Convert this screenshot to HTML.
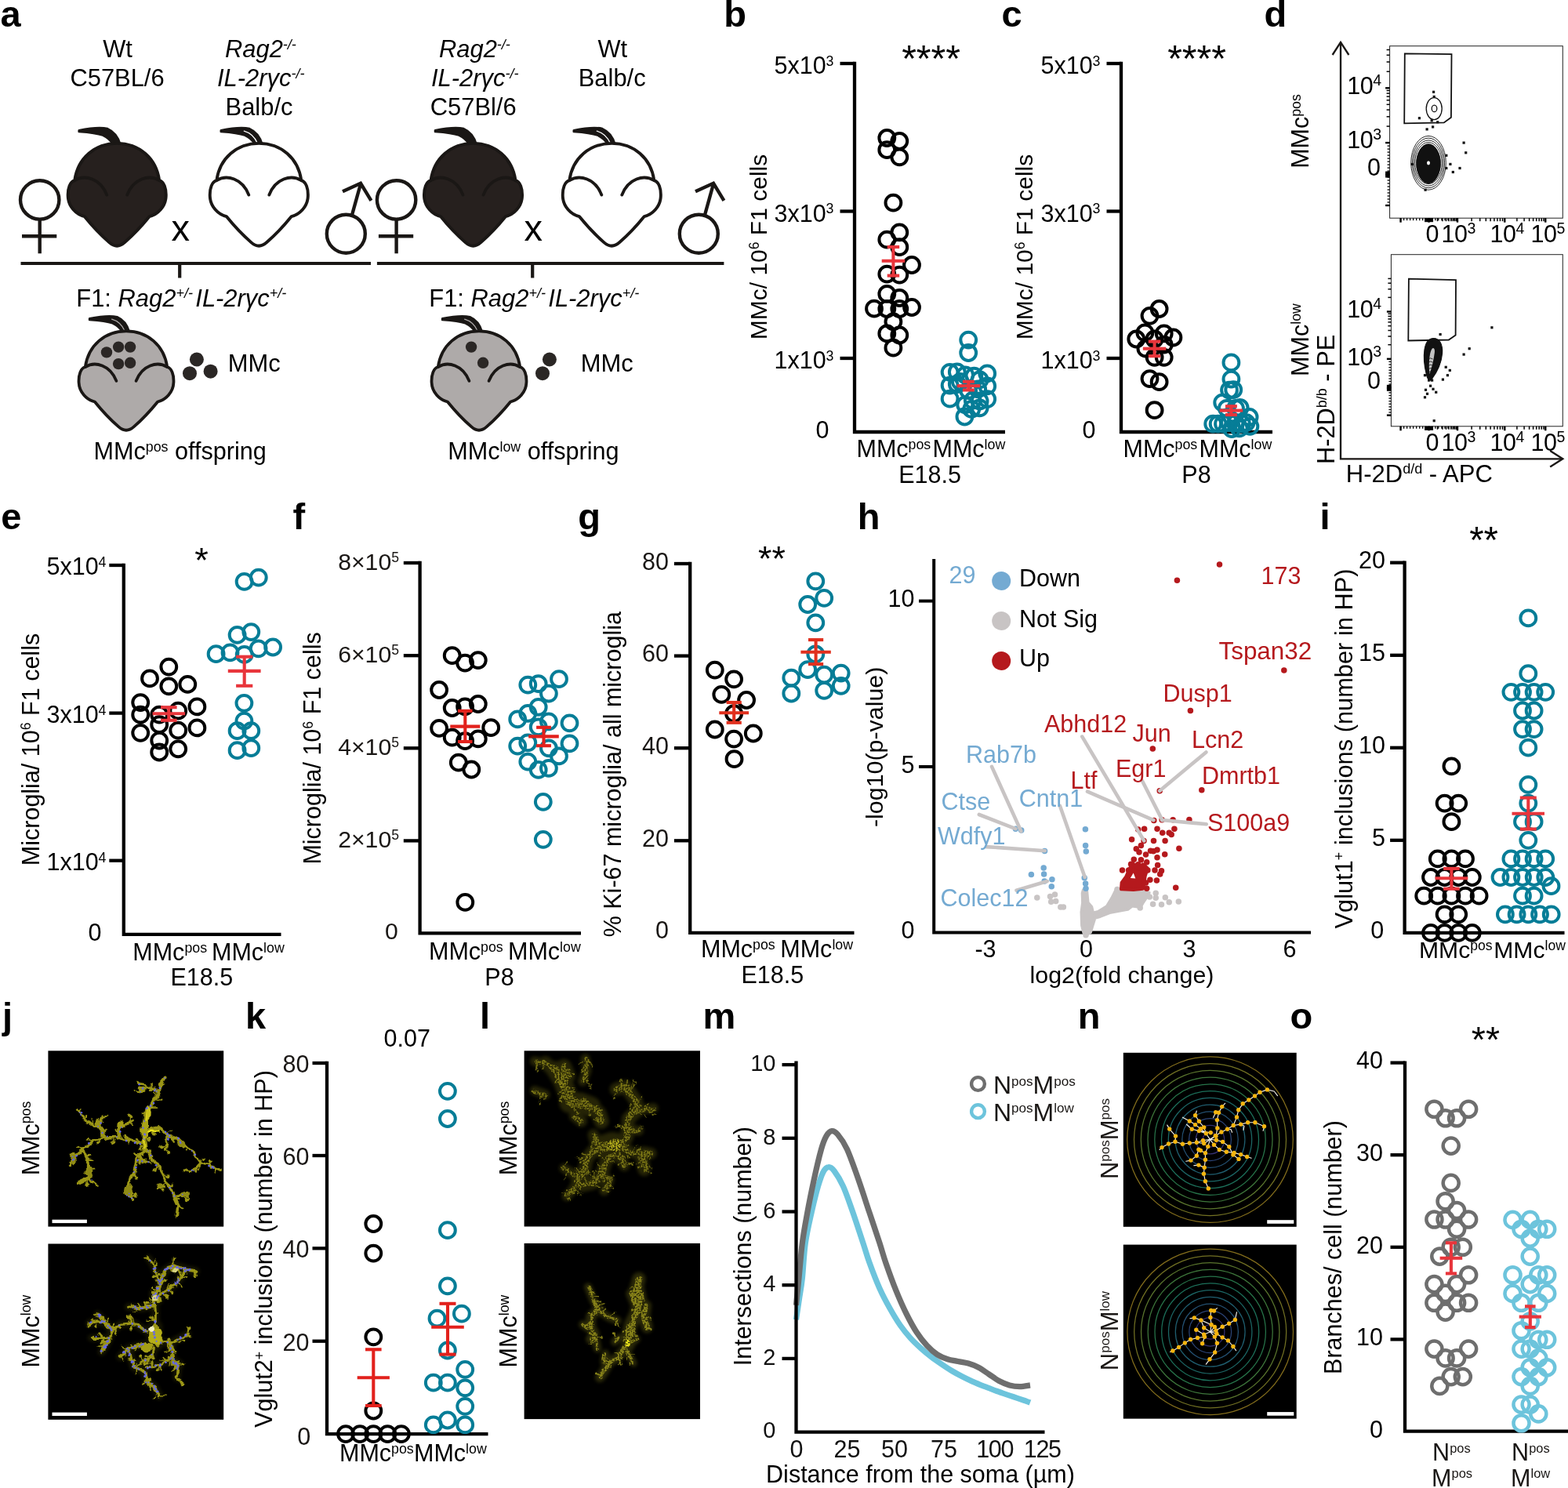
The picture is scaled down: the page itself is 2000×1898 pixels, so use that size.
<!DOCTYPE html>
<html><head><meta charset="utf-8"><title>Figure</title>
<style>
html,body{margin:0;padding:0;background:#fff;}
body{width:2000px;height:1898px;overflow:hidden;}
svg{display:block;}
svg text{font-family:"Liberation Sans", Arial, Helvetica, sans-serif;}
</style></head>
<body>
<svg width="2000" height="1898" viewBox="0 0 2000 1898">
<rect width="2000" height="1898" fill="#fff"/>
<text font-size="30.9" text-anchor="middle" x="150" y="73.3">Wt</text>
<text font-size="30.9" text-anchor="middle" x="149.5" y="110">C57BL/6</text>
<text font-size="30.9" x="287" y="73.3"><tspan font-style="italic">Rag2</tspan><tspan font-size="18.01" dy="-10.29" font-style="italic">-/-</tspan></text>
<text font-size="30.9" x="277" y="110"><tspan font-style="italic">IL-2rγc</tspan><tspan font-size="18.01" dy="-10.29" font-style="italic">-/-</tspan></text>
<text font-size="30.9" text-anchor="middle" x="330.5" y="146.7">Balb/c</text>
<g fill="none" stroke="#1a1715" stroke-width="4.4"><circle cx="50.699999999999996" cy="254.9" r="24.7"/><line x1="50.699999999999996" y1="279" x2="50.699999999999996" y2="323.3"/><line x1="27.999999999999996" y1="301.3" x2="72.3" y2="301.3"/></g>
<g transform="translate(149.2,182.6)" stroke="#1a1715" stroke-width="3.9" stroke-linejoin="round" stroke-linecap="round"><path d="M4,1 C2,-6 -3,-14.5 -12,-18.5 C-22,-21 -38,-18.5 -48.5,-16.3 L-48.5,-14.7 C-38,-14 -26,-13 -18,-10 C-12,-7 -8,-3.5 -5.5,1 Z" fill="#1a1715" stroke-width="2.6"/><path d="M-54,47.5 C-50,19 -28,0.3 0,0.3 C28,0.3 50,19 54,47.5 C60,49 63,58 62.5,68 C62,81 52,91 41.5,93.5 C33,104 21,117 10,126.5 Q0,135.5 -10,126.5 C-21,117 -33,104 -41.5,93.5 C-52,91 -62,81 -62.5,68 C-63,58 -60,49 -54,47.5 Z" fill="#26201e"/><path d="M-54,47.5 C-41,39.5 -21,45 -13,66 M54,47.5 C41,39.5 21,45 13,66" fill="none"/></g>
<text font-size="47" text-anchor="middle" x="230.2" y="307.3">x</text>
<g transform="translate(330.3,182.6)" stroke="#1a1715" stroke-width="3.9" stroke-linejoin="round" stroke-linecap="round"><path d="M4,1 C2,-6 -3,-14.5 -12,-18.5 C-22,-21 -38,-18.5 -48.5,-16.3 L-48.5,-14.7 C-38,-14 -26,-13 -18,-10 C-12,-7 -8,-3.5 -5.5,1 Z" fill="#1a1715" stroke-width="2.6"/><path d="M-2,0 C-5,-7 -10,-13 -19,-15.5" fill="none" stroke="#fff" stroke-width="1.3"/><path d="M-54,47.5 C-50,19 -28,0.3 0,0.3 C28,0.3 50,19 54,47.5 C60,49 63,58 62.5,68 C62,81 52,91 41.5,93.5 C33,104 21,117 10,126.5 Q0,135.5 -10,126.5 C-21,117 -33,104 -41.5,93.5 C-52,91 -62,81 -62.5,68 C-63,58 -60,49 -54,47.5 Z" fill="#fff"/><path d="M-54,47.5 C-41,39.5 -21,45 -13,66 M54,47.5 C41,39.5 21,45 13,66" fill="none"/></g>
<g fill="none" stroke="#1a1715" stroke-width="4.4" stroke-linejoin="miter"><circle cx="441.3" cy="298.2" r="24.5"/><line x1="448.90000000000003" y1="274.5" x2="459.6" y2="236"/><polyline points="437.0,244.2 460.0,233.8 473.40000000000003,255.8"/></g>
<line x1="26.5" y1="336" x2="473" y2="336" stroke="#1a1715" stroke-width="4.2"/>
<line x1="229.2" y1="336" x2="229.2" y2="354.5" stroke="#1a1715" stroke-width="4.2"/>
<text font-size="30.9" x="97.3" y="390.7">F1: <tspan font-style="italic">Rag2</tspan><tspan font-size="18.01" dy="-10.29" font-style="italic">+/-</tspan></text>
<text font-size="30.9" x="249.3" y="390.7"><tspan font-style="italic">IL-2rγc</tspan><tspan font-size="18.01" dy="-10.29" font-style="italic">+/-</tspan></text>
<g transform="translate(161,420.6)" stroke="#1a1715" stroke-width="3.9" stroke-linejoin="round" stroke-linecap="round"><g transform="translate(0,1.5) scale(0.967)"><path d="M4,1 C2,-6 -3,-14.5 -12,-18.5 C-22,-21 -38,-18.5 -48.5,-16.3 L-48.5,-14.7 C-38,-14 -26,-13 -18,-10 C-12,-7 -8,-3.5 -5.5,1 Z" fill="#1a1715" stroke-width="2.6"/><path d="M-2,0 C-5,-7 -10,-13 -19,-15.5" fill="none" stroke="#aeaaa9" stroke-width="1.3"/><path d="M-54,47.5 C-50,19 -28,0.3 0,0.3 C28,0.3 50,19 54,47.5 C60,49 63,58 62.5,68 C62,81 52,91 41.5,93.5 C33,104 21,117 10,126.5 Q0,135.5 -10,126.5 C-21,117 -33,104 -41.5,93.5 C-52,91 -62,81 -62.5,68 C-63,58 -60,49 -54,47.5 Z" fill="#aeaaa9"/><path d="M-54,47.5 C-41,39.5 -21,45 -13,66 M54,47.5 C41,39.5 21,45 13,66" fill="none"/></g><circle cx="-25" cy="28.8" r="7.2" fill="#2b2725" stroke="none"/><circle cx="-9.9" cy="22" r="7.2" fill="#2b2725" stroke="none"/><circle cx="5.1" cy="22" r="7.2" fill="#2b2725" stroke="none"/><circle cx="-9.9" cy="43.5" r="7.2" fill="#2b2725" stroke="none"/><circle cx="5.1" cy="42.2" r="7.2" fill="#2b2725" stroke="none"/></g>
<circle cx="250.9" cy="458.5" r="9" fill="#2b2725"/>
<circle cx="242" cy="476.2" r="9" fill="#2b2725"/>
<circle cx="268.6" cy="473.7" r="9" fill="#2b2725"/>
<text font-size="30.9" x="290.8" y="473.7">MMc</text>
<text font-size="30.6" x="119.5" y="586">MMc<tspan font-size="17.84" dy="-10.19">pos</tspan><tspan dy="10.19"> offspring</tspan></text>
<text font-size="30.9" x="560" y="73.3"><tspan font-style="italic">Rag2</tspan><tspan font-size="18.01" dy="-10.29" font-style="italic">-/-</tspan></text>
<text font-size="30.9" x="550" y="110"><tspan font-style="italic">IL-2rγc</tspan><tspan font-size="18.01" dy="-10.29" font-style="italic">-/-</tspan></text>
<text font-size="30.9" text-anchor="middle" x="603.7" y="146.7">C57Bl/6</text>
<text font-size="30.9" text-anchor="middle" x="781.3" y="73.3">Wt</text>
<text font-size="30.9" text-anchor="middle" x="780.7" y="110">Balb/c</text>
<g fill="none" stroke="#1a1715" stroke-width="4.4"><circle cx="505.6" cy="254.9" r="24.7"/><line x1="505.6" y1="279" x2="505.6" y2="323.3"/><line x1="482.90000000000003" y1="301.3" x2="527.2" y2="301.3"/></g>
<g transform="translate(603.5,182.6)" stroke="#1a1715" stroke-width="3.9" stroke-linejoin="round" stroke-linecap="round"><path d="M4,1 C2,-6 -3,-14.5 -12,-18.5 C-22,-21 -38,-18.5 -48.5,-16.3 L-48.5,-14.7 C-38,-14 -26,-13 -18,-10 C-12,-7 -8,-3.5 -5.5,1 Z" fill="#1a1715" stroke-width="2.6"/><path d="M-54,47.5 C-50,19 -28,0.3 0,0.3 C28,0.3 50,19 54,47.5 C60,49 63,58 62.5,68 C62,81 52,91 41.5,93.5 C33,104 21,117 10,126.5 Q0,135.5 -10,126.5 C-21,117 -33,104 -41.5,93.5 C-52,91 -62,81 -62.5,68 C-63,58 -60,49 -54,47.5 Z" fill="#26201e"/><path d="M-54,47.5 C-41,39.5 -21,45 -13,66 M54,47.5 C41,39.5 21,45 13,66" fill="none"/></g>
<text font-size="47" text-anchor="middle" x="680.2" y="307.3">x</text>
<g transform="translate(780.3,182.6)" stroke="#1a1715" stroke-width="3.9" stroke-linejoin="round" stroke-linecap="round"><path d="M4,1 C2,-6 -3,-14.5 -12,-18.5 C-22,-21 -38,-18.5 -48.5,-16.3 L-48.5,-14.7 C-38,-14 -26,-13 -18,-10 C-12,-7 -8,-3.5 -5.5,1 Z" fill="#1a1715" stroke-width="2.6"/><path d="M-2,0 C-5,-7 -10,-13 -19,-15.5" fill="none" stroke="#fff" stroke-width="1.3"/><path d="M-54,47.5 C-50,19 -28,0.3 0,0.3 C28,0.3 50,19 54,47.5 C60,49 63,58 62.5,68 C62,81 52,91 41.5,93.5 C33,104 21,117 10,126.5 Q0,135.5 -10,126.5 C-21,117 -33,104 -41.5,93.5 C-52,91 -62,81 -62.5,68 C-63,58 -60,49 -54,47.5 Z" fill="#fff"/><path d="M-54,47.5 C-41,39.5 -21,45 -13,66 M54,47.5 C41,39.5 21,45 13,66" fill="none"/></g>
<g fill="none" stroke="#1a1715" stroke-width="4.4" stroke-linejoin="miter"><circle cx="891.3" cy="298.2" r="24.5"/><line x1="898.9" y1="274.5" x2="909.5999999999999" y2="236"/><polyline points="887.0,244.2 910.0,233.8 923.4,255.8"/></g>
<line x1="480.9" y1="336" x2="923.4" y2="336" stroke="#1a1715" stroke-width="4.2"/>
<line x1="679.2" y1="336" x2="679.2" y2="354.5" stroke="#1a1715" stroke-width="4.2"/>
<text font-size="30.9" x="547.3" y="390.7">F1: <tspan font-style="italic">Rag2</tspan><tspan font-size="18.01" dy="-10.29" font-style="italic">+/-</tspan></text>
<text font-size="30.9" x="699.3" y="390.7"><tspan font-style="italic">IL-2rγc</tspan><tspan font-size="18.01" dy="-10.29" font-style="italic">+/-</tspan></text>
<g transform="translate(611,420.6)" stroke="#1a1715" stroke-width="3.9" stroke-linejoin="round" stroke-linecap="round"><g transform="translate(0,1.5) scale(0.967)"><path d="M4,1 C2,-6 -3,-14.5 -12,-18.5 C-22,-21 -38,-18.5 -48.5,-16.3 L-48.5,-14.7 C-38,-14 -26,-13 -18,-10 C-12,-7 -8,-3.5 -5.5,1 Z" fill="#1a1715" stroke-width="2.6"/><path d="M-2,0 C-5,-7 -10,-13 -19,-15.5" fill="none" stroke="#aeaaa9" stroke-width="1.3"/><path d="M-54,47.5 C-50,19 -28,0.3 0,0.3 C28,0.3 50,19 54,47.5 C60,49 63,58 62.5,68 C62,81 52,91 41.5,93.5 C33,104 21,117 10,126.5 Q0,135.5 -10,126.5 C-21,117 -33,104 -41.5,93.5 C-52,91 -62,81 -62.5,68 C-63,58 -60,49 -54,47.5 Z" fill="#aeaaa9"/><path d="M-54,47.5 C-41,39.5 -21,45 -13,66 M54,47.5 C41,39.5 21,45 13,66" fill="none"/></g><circle cx="-9.9" cy="22" r="7.2" fill="#2b2725" stroke="none"/><circle cx="5.1" cy="42.2" r="7.2" fill="#2b2725" stroke="none"/></g>
<circle cx="700.9" cy="458.5" r="9" fill="#2b2725"/>
<circle cx="692" cy="476.2" r="9" fill="#2b2725"/>
<text font-size="30.9" x="740.8" y="473.7">MMc</text>
<text font-size="30.6" x="571.2" y="586">MMc<tspan font-size="17.84" dy="-10.19">low</tspan><tspan dy="10.19"> offspring</tspan></text>
<path d="M1090,78.85 V551 H1282" fill="none" stroke="#000" stroke-width="4.3" stroke-linejoin="miter" stroke-linecap="butt"/>
<line x1="1071.5" y1="81" x2="1090" y2="81" stroke="#000" stroke-width="4.3"/>
<line x1="1071.5" y1="269.5" x2="1090" y2="269.5" stroke="#000" stroke-width="4.3"/>
<line x1="1071.5" y1="457" x2="1090" y2="457" stroke="#000" stroke-width="4.3"/>
<text font-size="30.5" text-anchor="end" x="1063.5" y="94">5x10<tspan font-size="17.78" dy="-10.16">3</tspan></text>
<text font-size="30.5" text-anchor="end" x="1063.5" y="282.5">3x10<tspan font-size="17.78" dy="-10.16">3</tspan></text>
<text font-size="30.5" text-anchor="end" x="1063.5" y="470">1x10<tspan font-size="17.78" dy="-10.16">3</tspan></text>
<text font-size="30.5" text-anchor="end" x="1057.5" y="559">0</text>
<text font-size="30" text-anchor="middle" transform="translate(978.0,315) rotate(-90)">MMc/ 10<tspan font-size="17.49" dy="-9.99">6</tspan><tspan dy="9.99"> F1 cells</tspan></text>
<text font-size="48" text-anchor="middle" x="1187.5" y="91.4">****</text>
<text font-size="30.5" x="1092.5" y="583">MMc<tspan font-size="17.78" dy="-10.16">pos</tspan></text>
<text font-size="30.5" x="1189.5" y="583">MMc<tspan font-size="17.78" dy="-10.16">low</tspan></text>
<text font-size="30.5" text-anchor="middle" x="1186" y="615.6">E18.5</text>
<path d="M1430,78.85 V551 H1623" fill="none" stroke="#000" stroke-width="4.3" stroke-linejoin="miter" stroke-linecap="butt"/>
<line x1="1411.5" y1="81" x2="1430" y2="81" stroke="#000" stroke-width="4.3"/>
<line x1="1411.5" y1="269.5" x2="1430" y2="269.5" stroke="#000" stroke-width="4.3"/>
<line x1="1411.5" y1="457" x2="1430" y2="457" stroke="#000" stroke-width="4.3"/>
<text font-size="30.5" text-anchor="end" x="1403.5" y="94">5x10<tspan font-size="17.78" dy="-10.16">3</tspan></text>
<text font-size="30.5" text-anchor="end" x="1403.5" y="282.5">3x10<tspan font-size="17.78" dy="-10.16">3</tspan></text>
<text font-size="30.5" text-anchor="end" x="1403.5" y="470">1x10<tspan font-size="17.78" dy="-10.16">3</tspan></text>
<text font-size="30.5" text-anchor="end" x="1397.5" y="559">0</text>
<text font-size="30" text-anchor="middle" transform="translate(1316.7,315) rotate(-90)">MMc/ 10<tspan font-size="17.49" dy="-9.99">6</tspan><tspan dy="9.99"> F1 cells</tspan></text>
<text font-size="48" text-anchor="middle" x="1526.5" y="91.4">****</text>
<text font-size="30.5" x="1432.5" y="583">MMc<tspan font-size="17.78" dy="-10.16">pos</tspan></text>
<text font-size="30.5" x="1529.5" y="583">MMc<tspan font-size="17.78" dy="-10.16">low</tspan></text>
<text font-size="30.5" text-anchor="middle" x="1526" y="615.6">P8</text>
<g fill="none" stroke="#000" stroke-width="4.0"><circle cx="1131.3" cy="176.0" r="9.9"/><circle cx="1147.3" cy="180.0" r="9.9"/><circle cx="1131.3" cy="191.2" r="9.9"/><circle cx="1147.3" cy="200.3" r="9.9"/><circle cx="1139.4" cy="258.6" r="9.9"/><circle cx="1147.3" cy="296.4" r="9.9"/><circle cx="1131.3" cy="305.7" r="9.9"/><circle cx="1147.3" cy="315.2" r="9.9"/><circle cx="1163.0" cy="338.0" r="9.9"/><circle cx="1131.3" cy="349.6" r="9.9"/><circle cx="1147.3" cy="350.6" r="9.9"/><circle cx="1131.3" cy="374.9" r="9.9"/><circle cx="1147.3" cy="380.0" r="9.9"/><circle cx="1115.0" cy="393.7" r="9.9"/><circle cx="1131.3" cy="394.0" r="9.9"/><circle cx="1147.3" cy="394.0" r="9.9"/><circle cx="1163.0" cy="392.0" r="9.9"/><circle cx="1139.4" cy="410.3" r="9.9"/><circle cx="1131.3" cy="425.4" r="9.9"/><circle cx="1147.3" cy="427.5" r="9.9"/><circle cx="1139.4" cy="443.7" r="9.9"/></g>
<g fill="none" stroke="#067d97" stroke-width="4.0"><circle cx="1235.2" cy="433.6" r="9.9"/><circle cx="1235.2" cy="450.0" r="9.9"/><circle cx="1211.6" cy="474.8" r="9.9"/><circle cx="1220.8" cy="474.4" r="9.9"/><circle cx="1231.2" cy="478.4" r="9.9"/><circle cx="1242.4" cy="479.6" r="9.9"/><circle cx="1259.2" cy="476.4" r="9.9"/><circle cx="1249.6" cy="484.4" r="9.9"/><circle cx="1224.8" cy="486.8" r="9.9"/><circle cx="1211.6" cy="491.6" r="9.9"/><circle cx="1220.8" cy="490.0" r="9.9"/><circle cx="1259.2" cy="492.4" r="9.9"/><circle cx="1247.2" cy="496.3" r="9.9"/><circle cx="1235.2" cy="498.0" r="9.9"/><circle cx="1211.6" cy="508.7" r="9.9"/><circle cx="1259.2" cy="509.1" r="9.9"/><circle cx="1240.8" cy="510.7" r="9.9"/><circle cx="1249.6" cy="511.5" r="9.9"/><circle cx="1231.2" cy="516.3" r="9.9"/><circle cx="1239.2" cy="521.9" r="9.9"/><circle cx="1249.6" cy="520.3" r="9.9"/><circle cx="1230.4" cy="531.5" r="9.9"/></g>
<g stroke="#e8353b" stroke-width="4.1" fill="none"><line x1="1124.7" y1="332.8" x2="1154.2" y2="332.8"/><line x1="1139.4" y1="315.0" x2="1139.4" y2="351.6"/><line x1="1131.7" y1="315.0" x2="1147.2" y2="315.0"/><line x1="1131.7" y1="351.6" x2="1147.2" y2="351.6"/></g>
<g stroke="#e8353b" stroke-width="4.1" fill="none"><line x1="1220.7" y1="492.2" x2="1250.2" y2="492.2"/><line x1="1235.4" y1="486.8" x2="1235.4" y2="497.5"/><line x1="1227.9" y1="486.8" x2="1242.9" y2="486.8"/><line x1="1227.9" y1="497.5" x2="1242.9" y2="497.5"/></g>
<g fill="none" stroke="#000" stroke-width="4.0"><circle cx="1478.6" cy="394.0" r="9.9"/><circle cx="1466.5" cy="402.8" r="9.9"/><circle cx="1460.4" cy="424.4" r="9.9"/><circle cx="1484.7" cy="425.4" r="9.9"/><circle cx="1449.3" cy="432.5" r="9.9"/><circle cx="1472.6" cy="432.5" r="9.9"/><circle cx="1496.4" cy="430.5" r="9.9"/><circle cx="1461.4" cy="444.7" r="9.9"/><circle cx="1484.7" cy="439.6" r="9.9"/><circle cx="1472.6" cy="455.8" r="9.9"/><circle cx="1484.7" cy="455.8" r="9.9"/><circle cx="1466.5" cy="483.1" r="9.9"/><circle cx="1478.6" cy="487.2" r="9.9"/><circle cx="1472.6" cy="523.2" r="9.9"/></g>
<g fill="none" stroke="#067d97" stroke-width="4.0"><circle cx="1570.4" cy="462.4" r="9.9"/><circle cx="1570.4" cy="483.6" r="9.9"/><circle cx="1568.0" cy="497.6" r="9.9"/><circle cx="1573.2" cy="497.2" r="9.9"/><circle cx="1559.2" cy="513.6" r="9.9"/><circle cx="1564.8" cy="520.8" r="9.9"/><circle cx="1576.0" cy="520.8" r="9.9"/><circle cx="1581.6" cy="520.0" r="9.9"/><circle cx="1593.6" cy="532.0" r="9.9"/><circle cx="1547.2" cy="540.7" r="9.9"/><circle cx="1553.6" cy="540.7" r="9.9"/><circle cx="1560.0" cy="540.7" r="9.9"/><circle cx="1568.0" cy="539.1" r="9.9"/><circle cx="1576.0" cy="539.9" r="9.9"/><circle cx="1584.0" cy="540.7" r="9.9"/><circle cx="1589.6" cy="539.1" r="9.9"/><circle cx="1594.4" cy="543.9" r="9.9"/><circle cx="1571.2" cy="547.1" r="9.9"/><circle cx="1580.8" cy="546.3" r="9.9"/></g>
<g stroke="#e8353b" stroke-width="4.1" fill="none"><line x1="1457.8" y1="444.7" x2="1487.3" y2="444.7"/><line x1="1472.6" y1="435.6" x2="1472.6" y2="454.2"/><line x1="1464.8" y1="435.6" x2="1480.3" y2="435.6"/><line x1="1464.8" y1="454.2" x2="1480.3" y2="454.2"/></g>
<g stroke="#e8353b" stroke-width="4.1" fill="none"><line x1="1555.7" y1="523.6" x2="1585.2" y2="523.6"/><line x1="1570.4" y1="518.2" x2="1570.4" y2="529.1"/><line x1="1562.9" y1="518.2" x2="1577.9" y2="518.2"/><line x1="1562.9" y1="529.1" x2="1577.9" y2="529.1"/></g>
<g fill="none" stroke="#1a1715" stroke-width="2.35" stroke-linejoin="miter"><path d="M1710,54 V585.3 H1992.5"/><polyline points="1699.6,70 1710,53.8 1720.4,70"/><polyline points="1977.2,575 1993.3,585.3 1977.2,595.6"/></g>
<rect x="1772.6" y="58.7" width="220.70000000000005" height="219.5" fill="#fff" stroke="#222" stroke-width="1"/>
<g stroke="#000" stroke-width="1.4"><line x1="1786.5452706120384" y1="278.2" x2="1786.5452706120384" y2="283.7" stroke-width="2.4"/><line x1="1822.5594334850784" y1="278.2" x2="1822.5594334850784" y2="283.7" stroke-width="2.4"/><line x1="1858.9782498735458" y1="278.2" x2="1858.9782498735458" y2="283.7" stroke-width="2.4"/><line x1="1919.2716236722306" y1="278.2" x2="1919.2716236722306" y2="283.7" stroke-width="2.4"/><line x1="1971.2696004046536" y1="278.2" x2="1971.2696004046536" y2="283.7" stroke-width="2.4"/><line x1="1833.5" y1="278.2" x2="1833.5" y2="282.2" stroke-width="1.5"/><line x1="1839.9" y1="278.2" x2="1839.9" y2="282.2" stroke-width="1.5"/><line x1="1844.5" y1="278.2" x2="1844.5" y2="282.2" stroke-width="1.5"/><line x1="1848.0" y1="278.2" x2="1848.0" y2="282.2" stroke-width="1.5"/><line x1="1850.9" y1="278.2" x2="1850.9" y2="282.2" stroke-width="1.5"/><line x1="1853.3" y1="278.2" x2="1853.3" y2="282.2" stroke-width="1.5"/><line x1="1855.4" y1="278.2" x2="1855.4" y2="282.2" stroke-width="1.5"/><line x1="1857.3" y1="278.2" x2="1857.3" y2="282.2" stroke-width="1.5"/><line x1="1877.1" y1="278.2" x2="1877.1" y2="282.2" stroke-width="1.5"/><line x1="1887.7" y1="278.2" x2="1887.7" y2="282.2" stroke-width="1.5"/><line x1="1895.3" y1="278.2" x2="1895.3" y2="282.2" stroke-width="1.5"/><line x1="1901.1" y1="278.2" x2="1901.1" y2="282.2" stroke-width="1.5"/><line x1="1905.9" y1="278.2" x2="1905.9" y2="282.2" stroke-width="1.5"/><line x1="1909.9" y1="278.2" x2="1909.9" y2="282.2" stroke-width="1.5"/><line x1="1913.4" y1="278.2" x2="1913.4" y2="282.2" stroke-width="1.5"/><line x1="1916.5" y1="278.2" x2="1916.5" y2="282.2" stroke-width="1.5"/><line x1="1934.9" y1="278.2" x2="1934.9" y2="282.2" stroke-width="1.5"/><line x1="1944.1" y1="278.2" x2="1944.1" y2="282.2" stroke-width="1.5"/><line x1="1950.6" y1="278.2" x2="1950.6" y2="282.2" stroke-width="1.5"/><line x1="1955.6" y1="278.2" x2="1955.6" y2="282.2" stroke-width="1.5"/><line x1="1959.7" y1="278.2" x2="1959.7" y2="282.2" stroke-width="1.5"/><line x1="1963.2" y1="278.2" x2="1963.2" y2="282.2" stroke-width="1.5"/><line x1="1966.2" y1="278.2" x2="1966.2" y2="282.2" stroke-width="1.5"/><line x1="1968.9" y1="278.2" x2="1968.9" y2="282.2" stroke-width="1.5"/><line x1="1786.5" y1="278.2" x2="1786.5" y2="281.2" stroke-width="1.3"/><line x1="1790.6" y1="278.2" x2="1790.6" y2="281.2" stroke-width="1.3"/><line x1="1794.6" y1="278.2" x2="1794.6" y2="281.2" stroke-width="1.3"/><line x1="1798.6" y1="278.2" x2="1798.6" y2="281.2" stroke-width="1.3"/><line x1="1802.6" y1="278.2" x2="1802.6" y2="281.2" stroke-width="1.3"/><line x1="1806.7" y1="278.2" x2="1806.7" y2="281.2" stroke-width="1.3"/><line x1="1810.7" y1="278.2" x2="1810.7" y2="281.2" stroke-width="1.3"/><line x1="1814.7" y1="278.2" x2="1814.7" y2="281.2" stroke-width="1.3"/><line x1="1818.7" y1="278.2" x2="1818.7" y2="281.2" stroke-width="1.3"/><line x1="1822.8" y1="278.2" x2="1822.8" y2="281.2" stroke-width="1.3"/><line x1="1826.8" y1="278.2" x2="1826.8" y2="281.2" stroke-width="1.3"/><line x1="1830.8" y1="278.2" x2="1830.8" y2="281.2" stroke-width="1.3"/><line x1="1834.8" y1="278.2" x2="1834.8" y2="281.2" stroke-width="1.3"/><line x1="1838.9" y1="278.2" x2="1838.9" y2="281.2" stroke-width="1.3"/><line x1="1842.9" y1="278.2" x2="1842.9" y2="281.2" stroke-width="1.3"/><line x1="1846.9" y1="278.2" x2="1846.9" y2="281.2" stroke-width="1.3"/><line x1="1850.9" y1="278.2" x2="1850.9" y2="281.2" stroke-width="1.3"/><line x1="1855.0" y1="278.2" x2="1855.0" y2="281.2" stroke-width="1.3"/><line x1="1859.0" y1="278.2" x2="1859.0" y2="281.2" stroke-width="1.3"/><rect x="1817.0594334850784" y="278.2" width="11" height="5" fill="#000" stroke="none"/><line x1="1767.1" y1="112.29135053110774" x2="1772.6" y2="112.29135053110774" stroke-width="2.4"/><line x1="1767.1" y1="182.09408194233689" x2="1772.6" y2="182.09408194233689" stroke-width="2.4"/><line x1="1767.1" y1="222.55943348507842" x2="1772.6" y2="222.55943348507842" stroke-width="2.4"/><line x1="1767.1" y1="262.0131512392514" x2="1772.6" y2="262.0131512392514" stroke-width="2.4"/><line x1="1768.6" y1="161.1" x2="1772.6" y2="161.1" stroke-width="1.5"/><line x1="1768.6" y1="148.8" x2="1772.6" y2="148.8" stroke-width="1.5"/><line x1="1768.6" y1="140.1" x2="1772.6" y2="140.1" stroke-width="1.5"/><line x1="1768.6" y1="133.3" x2="1772.6" y2="133.3" stroke-width="1.5"/><line x1="1768.6" y1="127.8" x2="1772.6" y2="127.8" stroke-width="1.5"/><line x1="1768.6" y1="123.1" x2="1772.6" y2="123.1" stroke-width="1.5"/><line x1="1768.6" y1="119.1" x2="1772.6" y2="119.1" stroke-width="1.5"/><line x1="1768.6" y1="115.5" x2="1772.6" y2="115.5" stroke-width="1.5"/><line x1="1768.6" y1="91.3" x2="1772.6" y2="91.3" stroke-width="1.5"/><line x1="1768.6" y1="79.0" x2="1772.6" y2="79.0" stroke-width="1.5"/><line x1="1768.6" y1="70.3" x2="1772.6" y2="70.3" stroke-width="1.5"/><line x1="1768.6" y1="63.5" x2="1772.6" y2="63.5" stroke-width="1.5"/><line x1="1769.6" y1="182.1" x2="1772.6" y2="182.1" stroke-width="1.3"/><line x1="1769.6" y1="186.1" x2="1772.6" y2="186.1" stroke-width="1.3"/><line x1="1769.6" y1="190.1" x2="1772.6" y2="190.1" stroke-width="1.3"/><line x1="1769.6" y1="194.1" x2="1772.6" y2="194.1" stroke-width="1.3"/><line x1="1769.6" y1="198.1" x2="1772.6" y2="198.1" stroke-width="1.3"/><line x1="1769.6" y1="202.1" x2="1772.6" y2="202.1" stroke-width="1.3"/><line x1="1769.6" y1="206.1" x2="1772.6" y2="206.1" stroke-width="1.3"/><line x1="1769.6" y1="210.1" x2="1772.6" y2="210.1" stroke-width="1.3"/><line x1="1769.6" y1="214.1" x2="1772.6" y2="214.1" stroke-width="1.3"/><line x1="1769.6" y1="218.1" x2="1772.6" y2="218.1" stroke-width="1.3"/><line x1="1769.6" y1="222.1" x2="1772.6" y2="222.1" stroke-width="1.3"/><line x1="1769.6" y1="226.0" x2="1772.6" y2="226.0" stroke-width="1.3"/><line x1="1769.6" y1="230.0" x2="1772.6" y2="230.0" stroke-width="1.3"/><line x1="1769.6" y1="234.0" x2="1772.6" y2="234.0" stroke-width="1.3"/><line x1="1769.6" y1="238.0" x2="1772.6" y2="238.0" stroke-width="1.3"/><line x1="1769.6" y1="242.0" x2="1772.6" y2="242.0" stroke-width="1.3"/><line x1="1769.6" y1="246.0" x2="1772.6" y2="246.0" stroke-width="1.3"/><line x1="1769.6" y1="250.0" x2="1772.6" y2="250.0" stroke-width="1.3"/><line x1="1769.6" y1="254.0" x2="1772.6" y2="254.0" stroke-width="1.3"/><line x1="1769.6" y1="258.0" x2="1772.6" y2="258.0" stroke-width="1.3"/><line x1="1769.6" y1="262.0" x2="1772.6" y2="262.0" stroke-width="1.3"/><rect x="1767.1" y="218.55943348507842" width="5.5" height="8" fill="#000" stroke="none"/></g>
<rect x="1774.4" y="324.7" width="218.89999999999986" height="219.09999999999997" fill="#fff" stroke="#222" stroke-width="1"/>
<g stroke="#000" stroke-width="1.4"><line x1="1786.5452706120384" y1="543.8" x2="1786.5452706120384" y2="549.3" stroke-width="2.4"/><line x1="1822.5594334850784" y1="543.8" x2="1822.5594334850784" y2="549.3" stroke-width="2.4"/><line x1="1858.9782498735458" y1="543.8" x2="1858.9782498735458" y2="549.3" stroke-width="2.4"/><line x1="1919.2716236722306" y1="543.8" x2="1919.2716236722306" y2="549.3" stroke-width="2.4"/><line x1="1971.2696004046536" y1="543.8" x2="1971.2696004046536" y2="549.3" stroke-width="2.4"/><line x1="1833.5" y1="543.8" x2="1833.5" y2="547.8" stroke-width="1.5"/><line x1="1839.9" y1="543.8" x2="1839.9" y2="547.8" stroke-width="1.5"/><line x1="1844.5" y1="543.8" x2="1844.5" y2="547.8" stroke-width="1.5"/><line x1="1848.0" y1="543.8" x2="1848.0" y2="547.8" stroke-width="1.5"/><line x1="1850.9" y1="543.8" x2="1850.9" y2="547.8" stroke-width="1.5"/><line x1="1853.3" y1="543.8" x2="1853.3" y2="547.8" stroke-width="1.5"/><line x1="1855.4" y1="543.8" x2="1855.4" y2="547.8" stroke-width="1.5"/><line x1="1857.3" y1="543.8" x2="1857.3" y2="547.8" stroke-width="1.5"/><line x1="1877.1" y1="543.8" x2="1877.1" y2="547.8" stroke-width="1.5"/><line x1="1887.7" y1="543.8" x2="1887.7" y2="547.8" stroke-width="1.5"/><line x1="1895.3" y1="543.8" x2="1895.3" y2="547.8" stroke-width="1.5"/><line x1="1901.1" y1="543.8" x2="1901.1" y2="547.8" stroke-width="1.5"/><line x1="1905.9" y1="543.8" x2="1905.9" y2="547.8" stroke-width="1.5"/><line x1="1909.9" y1="543.8" x2="1909.9" y2="547.8" stroke-width="1.5"/><line x1="1913.4" y1="543.8" x2="1913.4" y2="547.8" stroke-width="1.5"/><line x1="1916.5" y1="543.8" x2="1916.5" y2="547.8" stroke-width="1.5"/><line x1="1934.9" y1="543.8" x2="1934.9" y2="547.8" stroke-width="1.5"/><line x1="1944.1" y1="543.8" x2="1944.1" y2="547.8" stroke-width="1.5"/><line x1="1950.6" y1="543.8" x2="1950.6" y2="547.8" stroke-width="1.5"/><line x1="1955.6" y1="543.8" x2="1955.6" y2="547.8" stroke-width="1.5"/><line x1="1959.7" y1="543.8" x2="1959.7" y2="547.8" stroke-width="1.5"/><line x1="1963.2" y1="543.8" x2="1963.2" y2="547.8" stroke-width="1.5"/><line x1="1966.2" y1="543.8" x2="1966.2" y2="547.8" stroke-width="1.5"/><line x1="1968.9" y1="543.8" x2="1968.9" y2="547.8" stroke-width="1.5"/><line x1="1786.5" y1="543.8" x2="1786.5" y2="546.8" stroke-width="1.3"/><line x1="1790.6" y1="543.8" x2="1790.6" y2="546.8" stroke-width="1.3"/><line x1="1794.6" y1="543.8" x2="1794.6" y2="546.8" stroke-width="1.3"/><line x1="1798.6" y1="543.8" x2="1798.6" y2="546.8" stroke-width="1.3"/><line x1="1802.6" y1="543.8" x2="1802.6" y2="546.8" stroke-width="1.3"/><line x1="1806.7" y1="543.8" x2="1806.7" y2="546.8" stroke-width="1.3"/><line x1="1810.7" y1="543.8" x2="1810.7" y2="546.8" stroke-width="1.3"/><line x1="1814.7" y1="543.8" x2="1814.7" y2="546.8" stroke-width="1.3"/><line x1="1818.7" y1="543.8" x2="1818.7" y2="546.8" stroke-width="1.3"/><line x1="1822.8" y1="543.8" x2="1822.8" y2="546.8" stroke-width="1.3"/><line x1="1826.8" y1="543.8" x2="1826.8" y2="546.8" stroke-width="1.3"/><line x1="1830.8" y1="543.8" x2="1830.8" y2="546.8" stroke-width="1.3"/><line x1="1834.8" y1="543.8" x2="1834.8" y2="546.8" stroke-width="1.3"/><line x1="1838.9" y1="543.8" x2="1838.9" y2="546.8" stroke-width="1.3"/><line x1="1842.9" y1="543.8" x2="1842.9" y2="546.8" stroke-width="1.3"/><line x1="1846.9" y1="543.8" x2="1846.9" y2="546.8" stroke-width="1.3"/><line x1="1850.9" y1="543.8" x2="1850.9" y2="546.8" stroke-width="1.3"/><line x1="1855.0" y1="543.8" x2="1855.0" y2="546.8" stroke-width="1.3"/><line x1="1859.0" y1="543.8" x2="1859.0" y2="546.8" stroke-width="1.3"/><rect x="1817.0594334850784" y="543.8" width="11" height="5" fill="#000" stroke="none"/><line x1="1768.9" y1="397.5214972180071" x2="1774.4" y2="397.5214972180071" stroke-width="2.4"/><line x1="1768.9" y1="457.814871016692" x2="1774.4" y2="457.814871016692" stroke-width="2.4"/><line x1="1768.9" y1="494.84066767830046" x2="1774.4" y2="494.84066767830046" stroke-width="2.4"/><line x1="1768.9" y1="529.6408700050581" x2="1774.4" y2="529.6408700050581" stroke-width="2.4"/><line x1="1770.4" y1="439.7" x2="1774.4" y2="439.7" stroke-width="1.5"/><line x1="1770.4" y1="429.0" x2="1774.4" y2="429.0" stroke-width="1.5"/><line x1="1770.4" y1="421.5" x2="1774.4" y2="421.5" stroke-width="1.5"/><line x1="1770.4" y1="415.7" x2="1774.4" y2="415.7" stroke-width="1.5"/><line x1="1770.4" y1="410.9" x2="1774.4" y2="410.9" stroke-width="1.5"/><line x1="1770.4" y1="406.9" x2="1774.4" y2="406.9" stroke-width="1.5"/><line x1="1770.4" y1="403.4" x2="1774.4" y2="403.4" stroke-width="1.5"/><line x1="1770.4" y1="400.3" x2="1774.4" y2="400.3" stroke-width="1.5"/><line x1="1770.4" y1="379.4" x2="1774.4" y2="379.4" stroke-width="1.5"/><line x1="1770.4" y1="368.8" x2="1774.4" y2="368.8" stroke-width="1.5"/><line x1="1770.4" y1="361.2" x2="1774.4" y2="361.2" stroke-width="1.5"/><line x1="1770.4" y1="355.4" x2="1774.4" y2="355.4" stroke-width="1.5"/><line x1="1771.4" y1="457.8" x2="1774.4" y2="457.8" stroke-width="1.3"/><line x1="1771.4" y1="461.4" x2="1774.4" y2="461.4" stroke-width="1.3"/><line x1="1771.4" y1="465.0" x2="1774.4" y2="465.0" stroke-width="1.3"/><line x1="1771.4" y1="468.6" x2="1774.4" y2="468.6" stroke-width="1.3"/><line x1="1771.4" y1="472.2" x2="1774.4" y2="472.2" stroke-width="1.3"/><line x1="1771.4" y1="475.8" x2="1774.4" y2="475.8" stroke-width="1.3"/><line x1="1771.4" y1="479.4" x2="1774.4" y2="479.4" stroke-width="1.3"/><line x1="1771.4" y1="483.0" x2="1774.4" y2="483.0" stroke-width="1.3"/><line x1="1771.4" y1="486.5" x2="1774.4" y2="486.5" stroke-width="1.3"/><line x1="1771.4" y1="490.1" x2="1774.4" y2="490.1" stroke-width="1.3"/><line x1="1771.4" y1="493.7" x2="1774.4" y2="493.7" stroke-width="1.3"/><line x1="1771.4" y1="497.3" x2="1774.4" y2="497.3" stroke-width="1.3"/><line x1="1771.4" y1="500.9" x2="1774.4" y2="500.9" stroke-width="1.3"/><line x1="1771.4" y1="504.5" x2="1774.4" y2="504.5" stroke-width="1.3"/><line x1="1771.4" y1="508.1" x2="1774.4" y2="508.1" stroke-width="1.3"/><line x1="1771.4" y1="511.7" x2="1774.4" y2="511.7" stroke-width="1.3"/><line x1="1771.4" y1="515.3" x2="1774.4" y2="515.3" stroke-width="1.3"/><line x1="1771.4" y1="518.9" x2="1774.4" y2="518.9" stroke-width="1.3"/><line x1="1771.4" y1="522.5" x2="1774.4" y2="522.5" stroke-width="1.3"/><line x1="1771.4" y1="526.0" x2="1774.4" y2="526.0" stroke-width="1.3"/><line x1="1771.4" y1="529.6" x2="1774.4" y2="529.6" stroke-width="1.3"/><rect x="1768.9" y="490.84066767830046" width="5.5" height="8" fill="#000" stroke="none"/></g>
<text font-size="30.5" text-anchor="end" x="1761.5" y="120.4" letter-spacing="-0.5">10<tspan font-size="19.52" dy="-10.98">4</tspan></text>
<text font-size="30.5" text-anchor="end" x="1761.5" y="189.2" letter-spacing="-0.5">10<tspan font-size="19.52" dy="-10.98">3</tspan></text>
<text font-size="30.5" text-anchor="end" x="1761" y="224.2">0</text>
<text font-size="30.5" x="1818.5" y="308.5">0</text>
<text font-size="30.5" x="1838.5" y="308.5" letter-spacing="-0.5">10<tspan font-size="19.52" dy="-10.98">3</tspan></text>
<text font-size="30.5" x="1900.5" y="308.5" letter-spacing="-0.5">10<tspan font-size="19.52" dy="-10.98">4</tspan></text>
<text font-size="30.5" x="1952.5" y="308.5" letter-spacing="-0.5">10<tspan font-size="19.52" dy="-10.98">5</tspan></text>
<text font-size="30.5" text-anchor="end" x="1761.5" y="405.2" letter-spacing="-0.5">10<tspan font-size="19.52" dy="-10.98">4</tspan></text>
<text font-size="30.5" text-anchor="end" x="1761.5" y="466" letter-spacing="-0.5">10<tspan font-size="19.52" dy="-10.98">3</tspan></text>
<text font-size="30.5" text-anchor="end" x="1761" y="496.3">0</text>
<text font-size="30.5" x="1818.5" y="575">0</text>
<text font-size="30.5" x="1838.5" y="575" letter-spacing="-0.5">10<tspan font-size="19.52" dy="-10.98">3</tspan></text>
<text font-size="30.5" x="1900.5" y="575" letter-spacing="-0.5">10<tspan font-size="19.52" dy="-10.98">4</tspan></text>
<text font-size="30.5" x="1952.5" y="575" letter-spacing="-0.5">10<tspan font-size="19.52" dy="-10.98">5</tspan></text>
<text font-size="30.5" text-anchor="middle" transform="translate(1668.8,167.5) rotate(-90)">MMc<tspan font-size="17.78" dy="-10.16">pos</tspan></text>
<text font-size="30.5" text-anchor="middle" transform="translate(1668.8,433.5) rotate(-90)">MMc<tspan font-size="17.78" dy="-10.16">low</tspan></text>
<text font-size="30.8" text-anchor="middle" transform="translate(1701.8,509.4) rotate(-90)">H-2D<tspan font-size="17.96" dy="-10.26">b/b</tspan><tspan dy="10.26"> - PE</tspan></text>
<text font-size="31" x="1716.8" y="614.6">H-2D<tspan font-size="18.07" dy="-10.32">d/d</tspan><tspan dy="10.32"> - APC</tspan></text>
<polygon points="1791.8,68.4 1851.5,69.2 1850.9,149.7 1841.8,156.4 1791.2,157.4" fill="none" stroke="#111" stroke-width="1.8"/>
<polygon points="1796.9,355.6 1857.0,357.1 1856.6,427.5 1847.9,433.5 1796.3,434.5" fill="none" stroke="#111" stroke-width="1.8"/>
<g fill="none" stroke="#111" stroke-width="0.9"><ellipse cx="1822.0" cy="207.8" rx="22.3" ry="34.4"/><ellipse cx="1822.0" cy="207.9" rx="20.6" ry="31.8"/><ellipse cx="1822.0" cy="208.0" rx="18.9" ry="29.1"/><ellipse cx="1822.0" cy="208.1" rx="17.2" ry="26.5"/><ellipse cx="1822.0" cy="208.3" rx="15.4" ry="23.8"/><ellipse cx="1822.0" cy="208.4" rx="13.7" ry="21.2"/><ellipse cx="1822.0" cy="208.5" rx="12.0" ry="18.5"/><ellipse cx="1822.0" cy="208.6" rx="10.3" ry="15.9"/><ellipse cx="1822.0" cy="208.7" rx="8.6" ry="13.2"/><ellipse cx="1822.0" cy="208.8" rx="6.9" ry="10.6"/><ellipse cx="1822.0" cy="209.0" rx="5.1" ry="7.9"/><ellipse cx="1822.0" cy="209.1" rx="3.4" ry="5.3"/><ellipse cx="1822.0" cy="209.2" rx="1.7" ry="2.6"/><ellipse cx="1822" cy="208.8" rx="15.5" ry="25.5" fill="#111" stroke="none"/><ellipse cx="1822" cy="207.8" rx="2" ry="2.6" fill="#fff" stroke="none"/><ellipse cx="1829.2" cy="138.6" rx="10" ry="14" stroke-width="1.3"/><ellipse cx="1829.5" cy="138.4" rx="3.3" ry="4.3" stroke-width="1.3"/></g>
<g fill="#111"><rect x="1827.0" y="115.7" width="3.2" height="3.2"/><rect x="1827.6" y="121.8" width="3.2" height="3.2"/><rect x="1808.8" y="149.1" width="3.2" height="3.2"/><rect x="1824.6" y="152.2" width="3.2" height="3.2"/><rect x="1832.1" y="154.2" width="3.2" height="3.2"/><rect x="1826.0" y="160.3" width="3.2" height="3.2"/><rect x="1818.5" y="163.3" width="3.2" height="3.2"/><rect x="1865.5" y="180.5" width="3.2" height="3.2"/><rect x="1868.1" y="193.2" width="3.2" height="3.2"/><rect x="1843.2" y="196.7" width="3.2" height="3.2"/><rect x="1848.3" y="207.8" width="3.2" height="3.2"/><rect x="1860.4" y="212.9" width="3.2" height="3.2"/><rect x="1851.7" y="217.9" width="3.2" height="3.2"/><rect x="1843.2" y="212.9" width="3.2" height="3.2"/><rect x="1816.5" y="240.6" width="3.2" height="3.2"/><rect x="1799.7" y="207.8" width="3.2" height="3.2"/></g>
<g fill="none" stroke="#111" stroke-width="0.9"><path d="M1828.5,431.5 C1836,431.5 1840.5,439 1839.5,451 C1838.5,464 1832,476 1826,484 C1823,487 1821,484 1819.5,478 C1817,468 1815.5,456 1817,446 C1818.5,436 1823,431.5 1828.5,431.5 Z" fill="#111" stroke="#111" stroke-width="1.2"/><path d="M1828,444 C1830,444 1830.5,448 1829.5,452 C1828.5,460 1826,470 1823.5,477 C1822.5,470 1822.5,460 1824,452 C1825,447 1826.5,444 1828,444 Z" fill="#fff" stroke="none" opacity="0.75"/><path d="M1821.5,458.0 q3,-2.4 6,0" stroke="#111" stroke-width="0.8"/><path d="M1821.7,462.2 q3,-2.4 6,0" stroke="#111" stroke-width="0.8"/><path d="M1821.9,466.4 q3,-2.4 6,0" stroke="#111" stroke-width="0.8"/><path d="M1822.1,470.6 q3,-2.4 6,0" stroke="#111" stroke-width="0.8"/><path d="M1822.3,474.8 q3,-2.4 6,0" stroke="#111" stroke-width="0.8"/><path d="M1822.5,479.0 q3,-2.4 6,0" stroke="#111" stroke-width="0.8"/></g>
<g fill="#111"><rect x="1835.5" y="424.9" width="3.2" height="3.2"/><rect x="1901.3" y="416.2" width="3.2" height="3.2"/><rect x="1872.6" y="443.1" width="3.2" height="3.2"/><rect x="1865.5" y="450.5" width="3.2" height="3.2"/><rect x="1842.6" y="466.7" width="3.2" height="3.2"/><rect x="1847.7" y="470.8" width="3.2" height="3.2"/><rect x="1844.8" y="477.1" width="3.2" height="3.2"/><rect x="1838.8" y="482.5" width="3.2" height="3.2"/><rect x="1815.9" y="477.1" width="3.2" height="3.2"/><rect x="1834.1" y="459.7" width="3.2" height="3.2"/><rect x="1823.0" y="490.6" width="3.2" height="3.2"/><rect x="1816.9" y="495.7" width="3.2" height="3.2"/><rect x="1826.4" y="494.7" width="3.2" height="3.2"/><rect x="1830.1" y="498.7" width="3.2" height="3.2"/><rect x="1818.9" y="500.7" width="3.2" height="3.2"/><rect x="1815.9" y="505.2" width="3.2" height="3.2"/><rect x="1827.6" y="535.1" width="3.2" height="3.2"/><rect x="1821.0" y="483.5" width="3.2" height="3.2"/><rect x="1825.0" y="483.5" width="3.2" height="3.2"/></g>
<path d="M157.8,718.85 V1191.8 H358.5" fill="none" stroke="#000" stroke-width="4.3" stroke-linejoin="miter" stroke-linecap="butt"/>
<line x1="139.3" y1="721" x2="157.8" y2="721" stroke="#000" stroke-width="4.3"/>
<line x1="139.3" y1="909.6" x2="157.8" y2="909.6" stroke="#000" stroke-width="4.3"/>
<line x1="139.3" y1="1097.7" x2="157.8" y2="1097.7" stroke="#000" stroke-width="4.3"/>
<text font-size="30.5" text-anchor="end" x="135.5" y="733.3">5x10<tspan font-size="17.78" dy="-10.16">4</tspan></text>
<text font-size="30.5" text-anchor="end" x="135.5" y="921.9">3x10<tspan font-size="17.78" dy="-10.16">4</tspan></text>
<text font-size="30.5" text-anchor="end" x="135.5" y="1110.0">1x10<tspan font-size="17.78" dy="-10.16">4</tspan></text>
<text font-size="30.5" text-anchor="end" x="129.5" y="1200">0</text>
<text font-size="30.5" text-anchor="middle" transform="translate(49.6,956) rotate(-90)">Microglia/ 10<tspan font-size="17.78" dy="-10.16">6</tspan><tspan dy="10.16"> F1 cells</tspan></text>
<text font-size="45" text-anchor="middle" x="257" y="730">*</text>
<text font-size="30.5" x="169.3" y="1225.2">MMc<tspan font-size="17.78" dy="-10.16">pos</tspan></text>
<text font-size="30.5" x="270" y="1225.2">MMc<tspan font-size="17.78" dy="-10.16">low</tspan></text>
<text font-size="30.5" text-anchor="middle" x="257.4" y="1256.5">E18.5</text>
<g fill="none" stroke="#000" stroke-width="4.0"><circle cx="215.3" cy="850.6" r="9.9"/><circle cx="191.0" cy="865.4" r="9.9"/><circle cx="215.3" cy="875.3" r="9.9"/><circle cx="239.3" cy="872.9" r="9.9"/><circle cx="179.2" cy="896.1" r="9.9"/><circle cx="251.4" cy="901.4" r="9.9"/><circle cx="179.2" cy="911.7" r="9.9"/><circle cx="203.2" cy="911.7" r="9.9"/><circle cx="227.2" cy="906.7" r="9.9"/><circle cx="203.2" cy="924.2" r="9.9"/><circle cx="227.2" cy="931.7" r="9.9"/><circle cx="251.4" cy="928.4" r="9.9"/><circle cx="179.2" cy="934.8" r="9.9"/><circle cx="203.2" cy="944.6" r="9.9"/><circle cx="227.2" cy="955.3" r="9.9"/><circle cx="203.2" cy="959.5" r="9.9"/></g>
<g fill="none" stroke="#067d97" stroke-width="4.0"><circle cx="311.6" cy="741.9" r="9.9"/><circle cx="329.8" cy="736.6" r="9.9"/><circle cx="302.6" cy="809.9" r="9.9"/><circle cx="320.3" cy="806.1" r="9.9"/><circle cx="275.6" cy="834.2" r="9.9"/><circle cx="293.5" cy="832.4" r="9.9"/><circle cx="311.7" cy="834.9" r="9.9"/><circle cx="329.6" cy="827.3" r="9.9"/><circle cx="348.1" cy="825.5" r="9.9"/><circle cx="311.4" cy="896.8" r="9.9"/><circle cx="311.4" cy="919.6" r="9.9"/><circle cx="302.6" cy="932.2" r="9.9"/><circle cx="320.3" cy="932.2" r="9.9"/><circle cx="302.6" cy="957.2" r="9.9"/><circle cx="320.3" cy="954.2" r="9.9"/></g>
<g stroke="#e8353b" stroke-width="4.1" fill="none"><line x1="194.6" y1="910.2" x2="236.1" y2="910.2"/><line x1="215.3" y1="902.2" x2="215.3" y2="918.8"/><line x1="205.0" y1="902.2" x2="225.6" y2="902.2"/><line x1="205.0" y1="918.8" x2="225.6" y2="918.8"/></g>
<g stroke="#e8353b" stroke-width="4.1" fill="none"><line x1="290.8" y1="855.9" x2="332.6" y2="855.9"/><line x1="311.7" y1="837.7" x2="311.7" y2="874.8"/><line x1="301.1" y1="837.7" x2="322.3" y2="837.7"/><line x1="301.1" y1="874.8" x2="322.3" y2="874.8"/></g>
<path d="M535.6,715.85 V1190.4 H741" fill="none" stroke="#000" stroke-width="4.3" stroke-linejoin="miter" stroke-linecap="butt"/>
<line x1="514.8000000000001" y1="718" x2="535.6" y2="718" stroke="#000" stroke-width="4.3"/>
<line x1="514.8000000000001" y1="836.2" x2="535.6" y2="836.2" stroke="#000" stroke-width="4.3"/>
<line x1="514.8000000000001" y1="954.3" x2="535.6" y2="954.3" stroke="#000" stroke-width="4.3"/>
<line x1="514.8000000000001" y1="1072.4" x2="535.6" y2="1072.4" stroke="#000" stroke-width="4.3"/>
<text font-size="30.2" text-anchor="end" fill="#1a1715" x="509" y="726.7">8×10<tspan font-size="17.61" dy="-10.06">5</tspan></text>
<text font-size="30.2" text-anchor="end" fill="#1a1715" x="509" y="844.9000000000001">6×10<tspan font-size="17.61" dy="-10.06">5</tspan></text>
<text font-size="30.2" text-anchor="end" fill="#1a1715" x="509" y="963.0">4×10<tspan font-size="17.61" dy="-10.06">5</tspan></text>
<text font-size="30.2" text-anchor="end" fill="#1a1715" x="509" y="1081.1000000000001">2×10<tspan font-size="17.61" dy="-10.06">5</tspan></text>
<text font-size="30.2" text-anchor="end" fill="#1a1715" x="507.7" y="1197.9">0</text>
<text font-size="30.5" text-anchor="middle" transform="translate(409.2,954.4) rotate(-90)">Microglia/ 10<tspan font-size="17.78" dy="-10.16">6</tspan><tspan dy="10.16"> F1 cells</tspan></text>
<text font-size="30.5" x="547" y="1224.2">MMc<tspan font-size="17.78" dy="-10.16">pos</tspan></text>
<text font-size="30.5" x="648" y="1224.2">MMc<tspan font-size="17.78" dy="-10.16">low</tspan></text>
<text font-size="30.5" text-anchor="middle" x="637" y="1256.5">P8</text>
<g fill="none" stroke="#000" stroke-width="4.0"><circle cx="576.7" cy="836.2" r="9.9"/><circle cx="593.1" cy="845.6" r="9.9"/><circle cx="609.8" cy="842.1" r="9.9"/><circle cx="560.1" cy="880.0" r="9.9"/><circle cx="576.7" cy="903.0" r="9.9"/><circle cx="593.1" cy="901.3" r="9.9"/><circle cx="609.8" cy="898.0" r="9.9"/><circle cx="560.1" cy="928.9" r="9.9"/><circle cx="626.2" cy="928.2" r="9.9"/><circle cx="576.7" cy="940.7" r="9.9"/><circle cx="593.1" cy="945.1" r="9.9"/><circle cx="609.8" cy="942.4" r="9.9"/><circle cx="584.8" cy="972.7" r="9.9"/><circle cx="601.3" cy="981.5" r="9.9"/><circle cx="593.3" cy="1150.9" r="9.9"/></g>
<g fill="none" stroke="#067d97" stroke-width="4.0"><circle cx="713.0" cy="866.2" r="9.9"/><circle cx="673.3" cy="873.6" r="9.9"/><circle cx="686.7" cy="872.1" r="9.9"/><circle cx="699.9" cy="884.6" r="9.9"/><circle cx="686.7" cy="901.9" r="9.9"/><circle cx="673.3" cy="909.8" r="9.9"/><circle cx="660.2" cy="917.4" r="9.9"/><circle cx="699.9" cy="920.3" r="9.9"/><circle cx="726.5" cy="922.3" r="9.9"/><circle cx="686.7" cy="927.3" r="9.9"/><circle cx="673.3" cy="947.3" r="9.9"/><circle cx="660.2" cy="951.6" r="9.9"/><circle cx="726.5" cy="948.3" r="9.9"/><circle cx="699.9" cy="954.3" r="9.9"/><circle cx="713.0" cy="964.4" r="9.9"/><circle cx="673.3" cy="971.6" r="9.9"/><circle cx="686.7" cy="981.9" r="9.9"/><circle cx="699.9" cy="979.9" r="9.9"/><circle cx="692.8" cy="1022.8" r="9.9"/><circle cx="692.8" cy="1070.8" r="9.9"/></g>
<g stroke="#e2211c" stroke-width="4.1" fill="none"><line x1="574.3" y1="926.6" x2="612.3" y2="926.6"/><line x1="593.3" y1="906.8" x2="593.3" y2="946.0"/><line x1="584.0" y1="906.8" x2="602.5" y2="906.8"/><line x1="584.0" y1="946.0" x2="602.5" y2="946.0"/></g>
<g stroke="#e2211c" stroke-width="4.1" fill="none"><line x1="674.2" y1="939.4" x2="712.8" y2="939.4"/><line x1="693.5" y1="927.8" x2="693.5" y2="951.2"/><line x1="684.1" y1="927.8" x2="702.9" y2="927.8"/><line x1="684.1" y1="951.2" x2="702.9" y2="951.2"/></g>
<path d="M880.2,716.85 V1189.8 H1089.5" fill="none" stroke="#000" stroke-width="4.3" stroke-linejoin="miter" stroke-linecap="butt"/>
<line x1="859.9000000000001" y1="719" x2="880.2" y2="719" stroke="#000" stroke-width="4.3"/>
<line x1="859.9000000000001" y1="836.6" x2="880.2" y2="836.6" stroke="#000" stroke-width="4.3"/>
<line x1="859.9000000000001" y1="954.2" x2="880.2" y2="954.2" stroke="#000" stroke-width="4.3"/>
<line x1="859.9000000000001" y1="1072.3" x2="880.2" y2="1072.3" stroke="#000" stroke-width="4.3"/>
<text font-size="30.5" text-anchor="end" fill="#1a1715" x="853" y="726.8">80</text>
<text font-size="30.5" text-anchor="end" fill="#1a1715" x="853" y="844.4">60</text>
<text font-size="30.5" text-anchor="end" fill="#1a1715" x="853" y="962.0">40</text>
<text font-size="30.5" text-anchor="end" fill="#1a1715" x="853" y="1080.1">20</text>
<text font-size="30.5" text-anchor="end" fill="#1a1715" x="853" y="1197.2">0</text>
<text font-size="30.5" text-anchor="middle" transform="translate(791.8,987.7) rotate(-90)">% Ki-67 microglia/ all microglia</text>
<text font-size="44.7" text-anchor="middle" x="984.5" y="727.8">**</text>
<text font-size="30.5" x="894" y="1221">MMc<tspan font-size="17.78" dy="-10.16">pos</tspan></text>
<text font-size="30.5" x="995.3" y="1221">MMc<tspan font-size="17.78" dy="-10.16">low</tspan></text>
<text font-size="30.5" text-anchor="middle" x="985.3" y="1254">E18.5</text>
<g fill="none" stroke="#000" stroke-width="4.0"><circle cx="911.8" cy="854.6" r="9.9"/><circle cx="936.1" cy="866.3" r="9.9"/><circle cx="920.3" cy="885.9" r="9.9"/><circle cx="952.1" cy="893.0" r="9.9"/><circle cx="936.1" cy="910.2" r="9.9"/><circle cx="911.8" cy="930.5" r="9.9"/><circle cx="936.1" cy="942.6" r="9.9"/><circle cx="960.8" cy="935.5" r="9.9"/><circle cx="936.5" cy="968.2" r="9.9"/></g>
<g fill="none" stroke="#067d97" stroke-width="4.0"><circle cx="1040.3" cy="741.3" r="9.9"/><circle cx="1051.2" cy="762.9" r="9.9"/><circle cx="1030.2" cy="771.0" r="9.9"/><circle cx="1040.3" cy="794.3" r="9.9"/><circle cx="1040.3" cy="834.4" r="9.9"/><circle cx="1030.2" cy="854.2" r="9.9"/><circle cx="1009.3" cy="864.7" r="9.9"/><circle cx="1051.2" cy="860.7" r="9.9"/><circle cx="1072.7" cy="858.6" r="9.9"/><circle cx="1072.7" cy="874.8" r="9.9"/><circle cx="1051.2" cy="880.9" r="9.9"/><circle cx="1009.3" cy="884.5" r="9.9"/></g>
<g stroke="#e0301e" stroke-width="4.1" fill="none"><line x1="917.3" y1="909.2" x2="955.1" y2="909.2"/><line x1="936.2" y1="896.0" x2="936.2" y2="921.8"/><line x1="926.6" y1="896.0" x2="945.8" y2="896.0"/><line x1="926.6" y1="921.8" x2="945.8" y2="921.8"/></g>
<g stroke="#e0301e" stroke-width="4.1" fill="none"><line x1="1021.4" y1="831.7" x2="1059.8" y2="831.7"/><line x1="1040.6" y1="816.1" x2="1040.6" y2="847.1"/><line x1="1031.0" y1="816.1" x2="1050.2" y2="816.1"/><line x1="1031.0" y1="847.1" x2="1050.2" y2="847.1"/></g>
<path d="M1191.2,713 V1189.6 H1672" fill="none" stroke="#000" stroke-width="4"/>
<line x1="1172" y1="766.6" x2="1191.2" y2="766.6" stroke="#000" stroke-width="4"/>
<line x1="1172" y1="978" x2="1191.2" y2="978" stroke="#000" stroke-width="4"/>
<text font-size="30.5" text-anchor="end" x="1166.5" y="774">10</text>
<text font-size="30.5" text-anchor="end" x="1166.5" y="986">5</text>
<text font-size="30.5" text-anchor="end" x="1166.5" y="1197.2">0</text>
<text font-size="30.4" text-anchor="middle" transform="translate(1126.4,952.8) rotate(-90)">-log10(p-value)</text>
<text font-size="30.5" text-anchor="middle" x="1257" y="1220.7">-3</text>
<text font-size="30.5" text-anchor="middle" x="1385.4" y="1220.7">0</text>
<text font-size="30.5" text-anchor="middle" x="1516.9" y="1220.7">3</text>
<text font-size="30.5" text-anchor="middle" x="1645" y="1220.7">6</text>
<text font-size="30.4" text-anchor="middle" x="1431" y="1253.6">log2(fold change)</text>
<circle cx="1277.2" cy="740.9" r="12" fill="#74aad2"/>
<text font-size="30.5" x="1300" y="748.4">Down</text>
<circle cx="1277.2" cy="791.9" r="12" fill="#c8c4c4"/>
<text font-size="30.5" x="1300" y="799.6">Not Sig</text>
<circle cx="1277.2" cy="843" r="12" fill="#b5191d"/>
<text font-size="30.5" x="1300" y="850.1">Up</text>
<text font-size="30.5" fill="#74aad2" x="1210.5" y="744.3">29</text>
<text font-size="30.5" fill="#b5191d" x="1608.5" y="744.6">173</text>
<g fill="#c8c4c4" stroke="#c8c4c4" stroke-width="4" stroke-linejoin="round"><path d="M1381.9,1135.0 L1386.2,1136.8 L1387.6,1151.4 L1392.3,1156.9 L1394.1,1164.7 L1400.8,1162.9 L1411.7,1156.3 L1418.4,1145.3 L1423.2,1135.6 L1427.5,1134.6 L1432.3,1138.0 L1462.7,1138.0 L1465.7,1138.6 L1462.7,1144.1 L1457.8,1151.4 L1454.8,1156.9 L1449.3,1156.3 L1443.9,1155.6 L1438.4,1159.9 L1427.5,1161.7 L1415.3,1164.1 L1403.2,1169.0 L1396.5,1170.8 L1393.5,1180.5 L1391.0,1189.0 L1386.2,1192.1 L1382.5,1190.2 L1380.1,1180.5 L1379.5,1163.5 L1381.1,1151.4 L1380.7,1139.3 Z"/></g><g fill="#c8c4c4"><circle cx="1322.8" cy="1145.1" r="3.75"/><circle cx="1339.5" cy="1143.5" r="3.75"/><circle cx="1345.5" cy="1141.1" r="3.75"/><circle cx="1340.7" cy="1150.2" r="3.75"/><circle cx="1346.7" cy="1149.6" r="3.75"/><circle cx="1352.8" cy="1156.9" r="3.75"/><circle cx="1356.4" cy="1156.9" r="3.75"/><circle cx="1466.3" cy="1144.1" r="3.75"/><circle cx="1474.2" cy="1139.3" r="3.75"/><circle cx="1474.2" cy="1145.3" r="3.75"/><circle cx="1470.6" cy="1153.2" r="3.75"/><circle cx="1481.5" cy="1153.8" r="3.75"/><circle cx="1486.3" cy="1144.7" r="3.75"/><circle cx="1491.2" cy="1150.8" r="3.75"/><circle cx="1503.3" cy="1149.9" r="3.75"/><circle cx="1454.2" cy="1158.1" r="3.75"/><circle cx="1425.0" cy="1134.4" r="3.75"/><circle cx="1385.0" cy="1192.7" r="3.75"/></g>
<g fill="#74aad2"><circle cx="1384.4" cy="1057.7" r="3.75"/><circle cx="1384.6" cy="1078.6" r="3.75"/><circle cx="1385.3" cy="1086.1" r="3.75"/><circle cx="1332.5" cy="1085.5" r="3.75"/><circle cx="1331.2" cy="1107.1" r="3.75"/><circle cx="1331.6" cy="1115.0" r="3.75"/><circle cx="1315.4" cy="1115.6" r="3.75"/><circle cx="1341.9" cy="1121.7" r="3.75"/><circle cx="1332.2" cy="1124.1" r="3.75"/><circle cx="1341.3" cy="1130.8" r="3.75"/><circle cx="1383.2" cy="1119.8" r="3.75"/><circle cx="1384.6" cy="1127.1" r="3.75"/><circle cx="1385.0" cy="1133.2" r="3.75"/><circle cx="1302.7" cy="1059.1" r="3.75"/><circle cx="1295.4" cy="1057.2" r="3.75"/></g>
<g fill="#b5191d"><circle cx="1431.5" cy="1109.9" r="3.75"/><circle cx="1439.6" cy="1110.1" r="3.75"/><circle cx="1443.6" cy="1070.7" r="3.75"/><circle cx="1449.3" cy="1082.8" r="3.75"/><circle cx="1453.0" cy="1087.1" r="3.75"/><circle cx="1455.4" cy="1078.6" r="3.75"/><circle cx="1459.0" cy="1072.5" r="3.75"/><circle cx="1459.6" cy="1057.3" r="3.75"/><circle cx="1451.7" cy="1057.9" r="3.75"/><circle cx="1461.5" cy="1090.1" r="3.75"/><circle cx="1467.5" cy="1085.2" r="3.75"/><circle cx="1471.2" cy="1085.8" r="3.75"/><circle cx="1476.0" cy="1084.0" r="3.75"/><circle cx="1471.5" cy="1072.5" r="3.75"/><circle cx="1476.0" cy="1057.3" r="3.75"/><circle cx="1482.7" cy="1062.2" r="3.75"/><circle cx="1491.2" cy="1062.2" r="3.75"/><circle cx="1494.2" cy="1064.6" r="3.75"/><circle cx="1497.9" cy="1057.3" r="3.75"/><circle cx="1486.1" cy="1072.5" r="3.75"/><circle cx="1485.7" cy="1089.8" r="3.75"/><circle cx="1476.0" cy="1093.7" r="3.75"/><circle cx="1476.6" cy="1103.4" r="3.75"/><circle cx="1473.0" cy="1110.1" r="3.75"/><circle cx="1481.5" cy="1110.7" r="3.75"/><circle cx="1479.7" cy="1115.0" r="3.75"/><circle cx="1466.9" cy="1122.3" r="3.75"/><circle cx="1475.4" cy="1122.9" r="3.75"/><circle cx="1503.9" cy="1082.2" r="3.75"/><circle cx="1499.7" cy="1132.3" r="3.75"/><circle cx="1446.3" cy="1096.2" r="3.75"/><circle cx="1442.6" cy="1102.2" r="3.75"/><circle cx="1455.4" cy="1096.8" r="3.75"/><circle cx="1462.7" cy="1099.8" r="3.75"/><circle cx="1463.9" cy="1110.1" r="3.75"/><circle cx="1459.0" cy="1105.3" r="3.75"/><circle cx="1471.8" cy="1046.4" r="3.75"/><circle cx="1482.1" cy="1045.8" r="3.75"/><circle cx="1496.1" cy="1045.8" r="3.75"/><circle cx="1516.9" cy="1045.5" r="3.75"/><circle cx="1462.7" cy="1133.2" r="3.75"/><circle cx="1461.5" cy="1125.9" r="3.75"/><circle cx="1451.7" cy="1102.8" r="3.75"/><circle cx="1449.3" cy="1105.3" r="3.75"/><path d="M1430.5,1133.8 L1431.1,1125.9 L1436.6,1118.6 L1440.8,1108.9 L1444.5,1101.6 L1453.0,1107.7 L1457.8,1102.8 L1463.3,1107.7 L1460.2,1117.4 L1459.0,1125.9 L1457.8,1133.2 L1445.7,1134.6 Z" stroke="#b5191d" stroke-width="5" stroke-linejoin="round"/><path d="M1441.8,1120.1 L1445.7,1113.5 L1448.3,1120.4 Z" fill="#fff"/><circle cx="1555.5" cy="720" r="3.75"/><circle cx="1501.4" cy="740.3" r="3.75"/><circle cx="1637.8" cy="855" r="3.75"/><circle cx="1518.4" cy="906.4" r="3.75"/><circle cx="1470.3" cy="955" r="3.75"/><circle cx="1532.8" cy="1007.8" r="3.75"/><circle cx="1479.2" cy="1008.8" r="3.75"/></g>
<g stroke="#c8c4c4" stroke-width="4.6" stroke-linecap="round"><line x1="1265" y1="977.9" x2="1302.4" y2="1060.3"/><line x1="1248.8" y1="1039" x2="1295.4" y2="1057.2"/><line x1="1257.9" y1="1080.1" x2="1332.8" y2="1085.2"/><line x1="1352" y1="1027.9" x2="1383.8" y2="1118.9"/><line x1="1296.4" y1="1135.7" x2="1335.8" y2="1124"/><line x1="1387" y1="1009.7" x2="1471.4" y2="1046.1"/><line x1="1380.3" y1="939.6" x2="1459.2" y2="1072.4"/><line x1="1457.2" y1="996.5" x2="1482.5" y2="1046.1"/><line x1="1538.4" y1="959.5" x2="1479.2" y2="1008.8"/><line x1="1538.8" y1="1051.3" x2="1481.9" y2="1046"/></g>
<text font-size="30.5" fill="#74aad2" x="1232" y="973.3">Rab7b</text>
<text font-size="30.5" fill="#74aad2" x="1200.5" y="1032.5">Ctse</text>
<text font-size="30.5" fill="#74aad2" x="1299.8" y="1028.5">Cntn1</text>
<text font-size="30.5" fill="#74aad2" x="1196" y="1076.5">Wdfy1</text>
<text font-size="30.5" fill="#74aad2" x="1199.5" y="1156">Colec12</text>
<text font-size="30.5" fill="#b5191d" x="1332" y="933.5">Abhd12</text>
<text font-size="30.5" fill="#b5191d" x="1444.5" y="945.6">Jun</text>
<text font-size="30.5" fill="#b5191d" x="1365.5" y="1005.6">Ltf</text>
<text font-size="30.5" fill="#b5191d" x="1423" y="991">Egr1</text>
<text font-size="30.5" fill="#b5191d" x="1483.5" y="895">Dusp1</text>
<text font-size="30.5" fill="#b5191d" x="1520" y="954.2">Lcn2</text>
<text font-size="30.5" fill="#b5191d" x="1533" y="1000.2">Dmrtb1</text>
<text font-size="30.5" fill="#b5191d" x="1540" y="1059.7">S100a9</text>
<text font-size="31.4" fill="#b5191d" x="1554.5" y="840.9">Tspan32</text>
<path d="M1791.6,715.5500000000001 V1189.9 H1995.5" fill="none" stroke="#000" stroke-width="4.3" stroke-linejoin="miter" stroke-linecap="butt"/>
<line x1="1773.1" y1="717.7" x2="1791.6" y2="717.7" stroke="#000" stroke-width="4.3"/>
<line x1="1773.1" y1="835.8" x2="1791.6" y2="835.8" stroke="#000" stroke-width="4.3"/>
<line x1="1773.1" y1="953.8" x2="1791.6" y2="953.8" stroke="#000" stroke-width="4.3"/>
<line x1="1773.1" y1="1071.8" x2="1791.6" y2="1071.8" stroke="#000" stroke-width="4.3"/>
<text font-size="30.5" text-anchor="end" x="1767" y="724.7">20</text>
<text font-size="30.5" text-anchor="end" x="1767" y="842.8">15</text>
<text font-size="30.5" text-anchor="end" x="1767" y="960.8">10</text>
<text font-size="30.5" text-anchor="end" x="1767" y="1078.8">5</text>
<text font-size="30.5" text-anchor="end" x="1765.3" y="1196.8">0</text>
<text font-size="30.8" text-anchor="middle" transform="translate(1724.5,955) rotate(-90)">Vglut1<tspan font-size="17.96" dy="-10.26">+</tspan><tspan dy="10.26"> inclusions (number in HP)</tspan></text>
<text font-size="47.2" text-anchor="middle" x="1892.6" y="705.4">**</text>
<text font-size="30.1" x="1810" y="1221.7">MMc<tspan font-size="17.55" dy="-10.02">pos</tspan></text>
<text font-size="30.1" x="1905.3" y="1221.7">MMc<tspan font-size="17.55" dy="-10.02">low</tspan></text>
<g fill="none" stroke="#000" stroke-width="4.0"><circle cx="1851.4" cy="977.3" r="9.9"/><circle cx="1842.6" cy="1024.6" r="9.9"/><circle cx="1860.2" cy="1024.6" r="9.9"/><circle cx="1851.4" cy="1048.2" r="9.9"/><circle cx="1833.8" cy="1095.4" r="9.9"/><circle cx="1851.4" cy="1095.4" r="9.9"/><circle cx="1869.0" cy="1095.4" r="9.9"/><circle cx="1825.0" cy="1119.0" r="9.9"/><circle cx="1842.6" cy="1119.0" r="9.9"/><circle cx="1860.2" cy="1119.0" r="9.9"/><circle cx="1877.8" cy="1119.0" r="9.9"/><circle cx="1816.2" cy="1142.7" r="9.9"/><circle cx="1833.8" cy="1142.7" r="9.9"/><circle cx="1851.4" cy="1142.7" r="9.9"/><circle cx="1869.0" cy="1142.7" r="9.9"/><circle cx="1886.6" cy="1142.7" r="9.9"/><circle cx="1842.6" cy="1166.3" r="9.9"/><circle cx="1860.2" cy="1166.3" r="9.9"/><circle cx="1825.0" cy="1189.9" r="9.9"/><circle cx="1842.6" cy="1189.9" r="9.9"/><circle cx="1860.2" cy="1189.9" r="9.9"/><circle cx="1877.8" cy="1189.9" r="9.9"/></g>
<g fill="none" stroke="#067d97" stroke-width="4.0"><circle cx="1949.3" cy="788.4" r="9.9"/><circle cx="1949.3" cy="859.2" r="9.9"/><circle cx="1927.4" cy="882.8" r="9.9"/><circle cx="1942.0" cy="882.8" r="9.9"/><circle cx="1956.6" cy="882.8" r="9.9"/><circle cx="1971.2" cy="882.8" r="9.9"/><circle cx="1942.0" cy="906.5" r="9.9"/><circle cx="1956.6" cy="906.5" r="9.9"/><circle cx="1942.0" cy="930.1" r="9.9"/><circle cx="1956.6" cy="930.1" r="9.9"/><circle cx="1949.3" cy="953.7" r="9.9"/><circle cx="1949.3" cy="1000.9" r="9.9"/><circle cx="1949.3" cy="1024.6" r="9.9"/><circle cx="1942.0" cy="1048.2" r="9.9"/><circle cx="1956.6" cy="1048.2" r="9.9"/><circle cx="1949.3" cy="1071.8" r="9.9"/><circle cx="1927.4" cy="1095.4" r="9.9"/><circle cx="1942.0" cy="1095.4" r="9.9"/><circle cx="1956.6" cy="1095.4" r="9.9"/><circle cx="1971.2" cy="1095.4" r="9.9"/><circle cx="1913.5" cy="1119.0" r="9.9"/><circle cx="1927.4" cy="1119.0" r="9.9"/><circle cx="1942.0" cy="1119.0" r="9.9"/><circle cx="1956.7" cy="1119.0" r="9.9"/><circle cx="1971.3" cy="1119.0" r="9.9"/><circle cx="1978.5" cy="1130.2" r="9.9"/><circle cx="1942.0" cy="1142.7" r="9.9"/><circle cx="1956.6" cy="1142.7" r="9.9"/><circle cx="1919.9" cy="1166.3" r="9.9"/><circle cx="1934.6" cy="1166.3" r="9.9"/><circle cx="1949.3" cy="1166.3" r="9.9"/><circle cx="1964.0" cy="1166.3" r="9.9"/><circle cx="1978.7" cy="1166.3" r="9.9"/></g>
<g stroke="#e8353b" stroke-width="4.1" fill="none"><line x1="1830.5" y1="1120.3" x2="1872.3" y2="1120.3"/><line x1="1851.4" y1="1107.9" x2="1851.4" y2="1133.7"/><line x1="1841.1" y1="1107.9" x2="1861.7" y2="1107.9"/><line x1="1841.1" y1="1133.7" x2="1861.7" y2="1133.7"/></g>
<g stroke="#e8353b" stroke-width="4.1" fill="none"><line x1="1928.5" y1="1037.7" x2="1970.0" y2="1037.7"/><line x1="1949.3" y1="1017.6" x2="1949.3" y2="1057.5"/><line x1="1938.8" y1="1017.6" x2="1959.8" y2="1017.6"/><line x1="1938.8" y1="1057.5" x2="1959.8" y2="1057.5"/></g>
<defs><filter id="bl7" x="-20%" y="-20%" width="140%" height="140%" color-interpolation-filters="sRGB"><feTurbulence type="fractalNoise" baseFrequency="0.11" numOctaves="2" seed="3" result="n"/><feDisplacementMap in="SourceGraphic" in2="n" scale="7" xChannelSelector="R" yChannelSelector="G" result="d"/><feGaussianBlur in="d" stdDeviation="0.4"/></filter><filter id="bl15" x="-20%" y="-20%" width="140%" height="140%" color-interpolation-filters="sRGB"><feTurbulence type="fractalNoise" baseFrequency="0.07" numOctaves="2" seed="8" result="n"/><feDisplacementMap in="SourceGraphic" in2="n" scale="9" xChannelSelector="R" yChannelSelector="G" result="d"/><feTurbulence type="fractalNoise" baseFrequency="0.5" numOctaves="2" seed="13" result="g"/><feColorMatrix in="g" type="matrix" values="0 0 0 0 0  0 0 0 0 0  0 0 0 0 0  5 0 0 0 -1.9" result="ga"/><feComposite in="d" in2="ga" operator="in" result="d"/><feGaussianBlur in="d" stdDeviation="0.7"/></filter><filter id="bl10" x="-20%" y="-20%" width="140%" height="140%" color-interpolation-filters="sRGB"><feTurbulence type="fractalNoise" baseFrequency="0.08" numOctaves="2" seed="12" result="n"/><feDisplacementMap in="SourceGraphic" in2="n" scale="6" xChannelSelector="R" yChannelSelector="G" result="d"/><feTurbulence type="fractalNoise" baseFrequency="0.5" numOctaves="2" seed="17" result="g"/><feColorMatrix in="g" type="matrix" values="0 0 0 0 0  0 0 0 0 0  0 0 0 0 0  5 0 0 0 -1.7" result="ga"/><feComposite in="d" in2="ga" operator="in" result="d"/><feGaussianBlur in="d" stdDeviation="0.6"/></filter><filter id="halo" x="-20%" y="-20%" width="140%" height="140%"><feGaussianBlur stdDeviation="2.2"/></filter><clipPath id="cj1"><rect x="61.4" y="1340.3" width="223.8" height="224.3"/></clipPath><clipPath id="cj2"><rect x="61.4" y="1586.5" width="223.8" height="224.3"/></clipPath><clipPath id="cl1"><rect x="668.6" y="1340.3" width="224.4" height="224.2"/></clipPath><clipPath id="cl2"><rect x="668.6" y="1585.9" width="224.4" height="224.2"/></clipPath></defs>
<rect x="61.4" y="1340.3" width="223.8" height="224.3" fill="#000"/>
<rect x="61.4" y="1586.5" width="223.8" height="224.3" fill="#000"/>
<text font-size="30.5" text-anchor="middle" transform="translate(49.5,1452) rotate(-90)">MMc<tspan font-size="17.78" dy="-10.16">pos</tspan></text>
<text font-size="30.5" text-anchor="middle" transform="translate(49.5,1698) rotate(-90)">MMc<tspan font-size="17.78" dy="-10.16">low</tspan></text>
<g fill="none" stroke-linecap="round" stroke-linejoin="round" filter="url(#bl7)" clip-path="url(#cj1)" opacity="1.0"><path d="M187.6,1413.3 L185.9,1426.9 L183.4,1440.6 L184.2,1454.2 L185.1,1462.8" stroke="#9a9516" stroke-width="6.6" opacity="1"/><path d="M187.6,1418.4 L196.2,1406.5 L203.0,1392.8 L206.4,1380.9 L210.7,1374.4" stroke="#9a9516" stroke-width="3.84" opacity="1"/><path d="M203.0,1392.8 L189.3,1386.3 L177.4,1381.2" stroke="#9a9516" stroke-width="3.12" opacity="1"/><path d="M185.9,1387.7 L177.4,1393.7" stroke="#9a9516" stroke-width="2.64" opacity="1"/><path d="M189.3,1441.4 L203.0,1438.0 L213.2,1447.4 L226.9,1452.5 L234.5,1460.2" stroke="#9a9516" stroke-width="4.08" opacity="1"/><path d="M234.5,1460.2 L247.3,1469.6 L255.9,1483.2 L268.7,1487.0 L281.4,1492.6" stroke="#9a9516" stroke-width="2.88" opacity="1"/><path d="M255.9,1483.2 L242.2,1496.9" stroke="#9a9516" stroke-width="2.4" opacity="1"/><path d="M214.1,1449.1 L211.5,1466.2" stroke="#9a9516" stroke-width="3.12" opacity="1"/><path d="M228.6,1455.1 L233.7,1461.9" stroke="#9a9516" stroke-width="5.3999999999999995" opacity="1"/><path d="M179.1,1457.6 L162.0,1454.2 L150.1,1450.8 L136.5,1450.8 L119.4,1454.2 L105.8,1466.2 L95.5,1474.7 L89.6,1487.5" stroke="#9a9516" stroke-width="3.5999999999999996" opacity="1"/><path d="M150.1,1450.8 L153.5,1437.2 L168.9,1429.5" stroke="#9a9516" stroke-width="4.2" opacity="1"/><path d="M134.8,1449.1 L126.2,1438.0 L130.0,1424.4" stroke="#9a9516" stroke-width="3.84" opacity="1"/><path d="M126.2,1438.0 L110.0,1431.2 L99.3,1415.0" stroke="#9a9516" stroke-width="3.12" opacity="1"/><path d="M105.8,1466.2 L112.9,1483.2 L112.9,1502.8 L99.8,1508.8" stroke="#9a9516" stroke-width="4.08" opacity="1"/><path d="M112.9,1502.8 L123.2,1510.5" stroke="#9a9516" stroke-width="3.12" opacity="1"/><path d="M92.1,1471.3 L95.5,1484.9" stroke="#9a9516" stroke-width="4.8" opacity="1"/><path d="M184.2,1462.8 L192.8,1474.7 L199.6,1484.9 L209.8,1503.7 L220.0,1520.7 L226.9,1536.1 L225.5,1549.7" stroke="#9a9516" stroke-width="3.5999999999999996" opacity="1"/><path d="M226.9,1525.9 L238.8,1521.1" stroke="#9a9516" stroke-width="4.32" opacity="1"/><path d="M184.2,1466.2 L174.0,1479.8 L170.6,1496.9 L164.1,1508.8 L162.4,1522.5 L169.2,1530.1" stroke="#9a9516" stroke-width="3.5999999999999996" opacity="1"/><path d="M162.9,1515.6 L167.2,1524.2" stroke="#9a9516" stroke-width="6.0" opacity="1"/><path d="M201.3,1515.6 L208.4,1514.3" stroke="#9a9516" stroke-width="3.12" opacity="1"/><path d="M170.6,1471.3 L180.8,1479.8 L191.0,1483.2" stroke="#9a9516" stroke-width="2.88" opacity="1"/><path d="M158.6,1449.1 L170.6,1457.6 L180.8,1459.3" stroke="#9a9516" stroke-width="2.64" opacity="1"/><path d="M186.7,1420.7 L180.9,1421.4" stroke="#9a9516" stroke-width="1.8"/><path d="M184.7,1433.3 L188.7,1439.5" stroke="#9a9516" stroke-width="1.7"/><path d="M184.9,1432.3 L187.1,1435.6" stroke="#9a9516" stroke-width="2.3"/><path d="M184.0,1451.2 L190.3,1453.1" stroke="#9a9516" stroke-width="1.4"/><circle cx="190.3" cy="1453.1" r="2.4" fill="#9a9516" stroke="none"/><path d="M184.8,1460.4 L177.3,1464.4" stroke="#9a9516" stroke-width="1.5"/><path d="M195.6,1407.2 L199.3,1406.2" stroke="#9a9516" stroke-width="1.2"/><path d="M191.4,1413.2 L199.4,1413.1" stroke="#9a9516" stroke-width="1.8"/><path d="M197.7,1403.3 L206.3,1403.6" stroke="#9a9516" stroke-width="2.2"/><path d="M200.7,1397.3 L197.6,1393.5" stroke="#9a9516" stroke-width="1.7"/><path d="M205.2,1385.0 L208.2,1383.5" stroke="#9a9516" stroke-width="2.2"/><path d="M197.4,1390.2 L191.9,1391.1" stroke="#9a9516" stroke-width="1.5"/><circle cx="191.9" cy="1391.1" r="2.0" fill="#9a9516" stroke="none"/><path d="M192.6,1387.9 L192.8,1382.9" stroke="#9a9516" stroke-width="2.2"/><path d="M177.4,1381.2 L175.5,1378.1" stroke="#9a9516" stroke-width="1.7"/><path d="M183.4,1389.4 L180.2,1389.1" stroke="#9a9516" stroke-width="2.2"/><circle cx="180.2" cy="1389.1" r="2.5" fill="#9a9516" stroke="none"/><path d="M178.3,1393.1 L170.4,1390.7" stroke="#9a9516" stroke-width="1.5"/><path d="M190.7,1441.1 L196.3,1445.8" stroke="#9a9516" stroke-width="1.3"/><circle cx="196.3" cy="1445.8" r="2.6" fill="#9a9516" stroke="none"/><path d="M196.5,1439.7 L201.6,1441.6" stroke="#9a9516" stroke-width="1.8"/><circle cx="201.6" cy="1441.6" r="2.1" fill="#9a9516" stroke="none"/><path d="M203.6,1438.6 L202.6,1445.6" stroke="#9a9516" stroke-width="1.4"/><path d="M210.5,1444.9 L218.8,1442.1" stroke="#9a9516" stroke-width="0.9"/><path d="M217.3,1448.9 L219.2,1452.6" stroke="#9a9516" stroke-width="2.0"/><path d="M216.8,1448.8 L220.8,1455.6" stroke="#9a9516" stroke-width="2.4"/><path d="M230.7,1456.4 L230.7,1460.5" stroke="#9a9516" stroke-width="1.6"/><path d="M238.7,1463.2 L237.8,1467.5" stroke="#9a9516" stroke-width="2.1"/><path d="M253.7,1479.7 L259.1,1478.0" stroke="#9a9516" stroke-width="1.2"/><circle cx="259.1" cy="1478.0" r="1.9" fill="#9a9516" stroke="none"/><path d="M266.2,1486.2 L268.9,1482.0" stroke="#9a9516" stroke-width="2.1"/><circle cx="268.9" cy="1482.0" r="2.1" fill="#9a9516" stroke="none"/><path d="M274.0,1489.3 L275.3,1496.0" stroke="#9a9516" stroke-width="1.3"/><path d="M269.1,1487.2 L270.4,1489.9" stroke="#9a9516" stroke-width="2.3"/><path d="M249.9,1489.1 L249.0,1494.8" stroke="#9a9516" stroke-width="2.0"/><path d="M242.7,1496.4 L235.7,1492.3" stroke="#9a9516" stroke-width="2.2"/><path d="M254.2,1484.9 L253.0,1493.2" stroke="#9a9516" stroke-width="1.9"/><path d="M211.8,1464.5 L215.1,1471.1" stroke="#9a9516" stroke-width="1.2"/><circle cx="215.1" cy="1471.1" r="2.1" fill="#9a9516" stroke="none"/><path d="M212.7,1458.1 L206.7,1464.0" stroke="#9a9516" stroke-width="1.1"/><circle cx="206.7" cy="1464.0" r="2.6" fill="#9a9516" stroke="none"/><path d="M232.7,1460.6 L236.9,1460.8" stroke="#9a9516" stroke-width="1.7"/><path d="M165.6,1454.9 L164.1,1457.6" stroke="#9a9516" stroke-width="1.8"/><path d="M178.3,1457.5 L174.6,1451.8" stroke="#9a9516" stroke-width="1.7"/><circle cx="174.6" cy="1451.8" r="1.7" fill="#9a9516" stroke="none"/><path d="M151.8,1451.3 L148.7,1452.5" stroke="#9a9516" stroke-width="1.6"/><circle cx="148.7" cy="1452.5" r="2.2" fill="#9a9516" stroke="none"/><path d="M155.9,1452.5 L153.8,1448.0" stroke="#9a9516" stroke-width="1.4"/><path d="M145.2,1450.8 L144.2,1456.3" stroke="#9a9516" stroke-width="1.1"/><circle cx="144.2" cy="1456.3" r="2.2" fill="#9a9516" stroke="none"/><path d="M139.3,1450.8 L134.6,1454.2" stroke="#9a9516" stroke-width="1.9"/><path d="M135.7,1451.0 L129.6,1448.0" stroke="#9a9516" stroke-width="2.0"/><circle cx="129.6" cy="1448.0" r="2.5" fill="#9a9516" stroke="none"/><path d="M129.3,1452.2 L125.9,1457.4" stroke="#9a9516" stroke-width="1.9"/><circle cx="125.9" cy="1457.4" r="1.8" fill="#9a9516" stroke="none"/><path d="M107.4,1464.7 L99.1,1463.2" stroke="#9a9516" stroke-width="2.1"/><circle cx="99.1" cy="1463.2" r="1.8" fill="#9a9516" stroke="none"/><path d="M117.7,1455.7 L110.9,1452.7" stroke="#9a9516" stroke-width="1.7"/><circle cx="110.9" cy="1452.7" r="2.0" fill="#9a9516" stroke="none"/><path d="M104.3,1467.4 L100.7,1467.6" stroke="#9a9516" stroke-width="1.0"/><path d="M95.4,1475.0 L96.1,1478.6" stroke="#9a9516" stroke-width="1.6"/><path d="M151.1,1446.7 L148.3,1439.7" stroke="#9a9516" stroke-width="1.7"/><path d="M165.0,1431.4 L165.6,1423.2" stroke="#9a9516" stroke-width="1.2"/><circle cx="165.6" cy="1423.2" r="2.6" fill="#9a9516" stroke="none"/><path d="M163.4,1432.2 L169.5,1436.6" stroke="#9a9516" stroke-width="1.5"/><path d="M131.8,1445.2 L135.2,1441.3" stroke="#9a9516" stroke-width="1.3"/><path d="M129.9,1424.8 L137.3,1423.7" stroke="#9a9516" stroke-width="1.9"/><path d="M128.0,1431.4 L131.9,1431.5" stroke="#9a9516" stroke-width="1.0"/><path d="M117.8,1434.5 L117.0,1426.4" stroke="#9a9516" stroke-width="1.1"/><path d="M123.9,1437.0 L125.3,1429.0" stroke="#9a9516" stroke-width="1.7"/><path d="M100.8,1417.3 L104.0,1413.7" stroke="#9a9516" stroke-width="1.3"/><path d="M107.9,1427.9 L109.1,1422.2" stroke="#9a9516" stroke-width="2.2"/><path d="M110.8,1478.1 L118.6,1479.7" stroke="#9a9516" stroke-width="2.1"/><path d="M109.2,1474.4 L114.6,1473.8" stroke="#9a9516" stroke-width="2.0"/><path d="M112.9,1487.7 L119.8,1491.1" stroke="#9a9516" stroke-width="1.0"/><circle cx="119.8" cy="1491.1" r="1.6" fill="#9a9516" stroke="none"/><path d="M112.9,1500.7 L108.5,1505.8" stroke="#9a9516" stroke-width="1.9"/><circle cx="108.5" cy="1505.8" r="2.5" fill="#9a9516" stroke="none"/><path d="M112.3,1503.1 L110.8,1510.3" stroke="#9a9516" stroke-width="1.0"/><circle cx="110.8" cy="1510.3" r="2.4" fill="#9a9516" stroke="none"/><path d="M116.6,1505.6 L118.2,1510.3" stroke="#9a9516" stroke-width="1.6"/><path d="M94.1,1479.3 L90.2,1484.2" stroke="#9a9516" stroke-width="1.1"/><circle cx="90.2" cy="1484.2" r="2.1" fill="#9a9516" stroke="none"/><path d="M191.8,1473.3 L191.3,1482.0" stroke="#9a9516" stroke-width="1.5"/><path d="M194.8,1477.7 L193.9,1486.3" stroke="#9a9516" stroke-width="1.4"/><path d="M196.3,1480.1 L195.0,1483.1" stroke="#9a9516" stroke-width="1.3"/><path d="M206.2,1497.0 L214.1,1499.7" stroke="#9a9516" stroke-width="1.9"/><circle cx="214.1" cy="1499.7" r="2.5" fill="#9a9516" stroke="none"/><path d="M201.0,1487.6 L197.0,1493.2" stroke="#9a9516" stroke-width="1.5"/><circle cx="197.0" cy="1493.2" r="1.5" fill="#9a9516" stroke="none"/><path d="M204.5,1494.0 L208.1,1493.6" stroke="#9a9516" stroke-width="1.2"/><path d="M213.8,1510.4 L219.0,1511.5" stroke="#9a9516" stroke-width="2.2"/><circle cx="219.0" cy="1511.5" r="1.9" fill="#9a9516" stroke="none"/><path d="M212.3,1507.9 L206.4,1514.2" stroke="#9a9516" stroke-width="1.6"/><path d="M223.4,1528.4 L229.4,1531.1" stroke="#9a9516" stroke-width="1.9"/><path d="M226.7,1537.6 L232.4,1541.7" stroke="#9a9516" stroke-width="1.5"/><path d="M226.7,1537.9 L233.9,1540.8" stroke="#9a9516" stroke-width="1.7"/><circle cx="233.9" cy="1540.8" r="1.5" fill="#9a9516" stroke="none"/><path d="M231.3,1524.1 L238.9,1526.0" stroke="#9a9516" stroke-width="2.2"/><path d="M231.4,1524.0 L238.1,1529.9" stroke="#9a9516" stroke-width="1.9"/><circle cx="238.1" cy="1529.9" r="2.4" fill="#9a9516" stroke="none"/><path d="M178.1,1474.4 L178.4,1481.9" stroke="#9a9516" stroke-width="1.3"/><circle cx="178.4" cy="1481.9" r="2.1" fill="#9a9516" stroke="none"/><path d="M182.2,1468.9 L182.1,1474.9" stroke="#9a9516" stroke-width="1.9"/><path d="M170.7,1496.2 L174.5,1502.9" stroke="#9a9516" stroke-width="1.8"/><circle cx="174.5" cy="1502.9" r="1.7" fill="#9a9516" stroke="none"/><path d="M173.2,1483.8 L175.4,1486.0" stroke="#9a9516" stroke-width="1.4"/><circle cx="175.4" cy="1486.0" r="1.7" fill="#9a9516" stroke="none"/><path d="M170.1,1497.8 L174.7,1503.6" stroke="#9a9516" stroke-width="1.4"/><path d="M164.5,1508.0 L167.8,1514.8" stroke="#9a9516" stroke-width="1.6"/><circle cx="167.8" cy="1514.8" r="1.3" fill="#9a9516" stroke="none"/><path d="M163.8,1511.5 L167.9,1515.7" stroke="#9a9516" stroke-width="1.0"/><path d="M165.7,1526.2 L173.2,1525.2" stroke="#9a9516" stroke-width="1.5"/><circle cx="173.2" cy="1525.2" r="2.5" fill="#9a9516" stroke="none"/><path d="M164.5,1518.8 L162.0,1523.3" stroke="#9a9516" stroke-width="1.5"/><path d="M203.1,1515.3 L208.1,1518.2" stroke="#9a9516" stroke-width="1.2"/><circle cx="208.1" cy="1518.2" r="1.4" fill="#9a9516" stroke="none"/><path d="M172.3,1472.7 L178.9,1472.6" stroke="#9a9516" stroke-width="1.6"/><circle cx="178.9" cy="1472.6" r="2.4" fill="#9a9516" stroke="none"/><path d="M184.1,1480.9 L186.3,1478.4" stroke="#9a9516" stroke-width="1.5"/><path d="M170.2,1457.3 L175.4,1456.4" stroke="#9a9516" stroke-width="1.2"/><circle cx="175.4" cy="1456.4" r="1.4" fill="#9a9516" stroke="none"/><path d="M176.7,1458.6 L180.9,1465.1" stroke="#9a9516" stroke-width="1.6"/><path d="M173.7,1458.1 L175.7,1455.7" stroke="#9a9516" stroke-width="1.4"/><path d="M187.6,1413.3 L185.9,1426.9 L183.4,1440.6 L184.2,1454.2 L185.1,1462.8" stroke="#d8cf1c" stroke-width="2.9699999999999998" opacity="1"/><ellipse cx="185.1" cy="1440.6" rx="4.5" ry="12" fill="#a9a318" stroke="none"/><ellipse cx="194.5" cy="1442.3" rx="8" ry="1.8" fill="#ece41a" stroke="none"/><ellipse cx="189.3" cy="1420.1" rx="3.4" ry="7" fill="#c9c11a" stroke="none"/><ellipse cx="114.3" cy="1495.2" rx="5" ry="7" fill="#8f8a14" stroke="none"/><ellipse cx="124.5" cy="1432.0" rx="4" ry="5" fill="#9a9414" stroke="none"/><ellipse cx="154.4" cy="1434.6" rx="4" ry="5" fill="#a39d16" stroke="none"/><ellipse cx="163.8" cy="1519.0" rx="5" ry="6" fill="#8f8a14" stroke="none"/><ellipse cx="231.1" cy="1458.5" rx="5" ry="4" fill="#8f8a14" stroke="none"/><ellipse cx="236.2" cy="1522.5" rx="5" ry="3.5" fill="#8f8a14" stroke="none"/><ellipse cx="203.0" cy="1512.2" rx="3.5" ry="3" fill="#8f8a14" stroke="none"/><ellipse cx="93.8" cy="1479.8" rx="4" ry="6" fill="#8f8a14" stroke="none"/></g>
<g fill="#6466f0" opacity="0.95" clip-path="url(#cj1)"><circle cx="214.4" cy="1452.1" r="1.2"/><circle cx="188.0" cy="1413.3" r="1.1"/><circle cx="154.8" cy="1438.0" r="0.9"/><circle cx="173.3" cy="1489.2" r="1.4"/><circle cx="184.4" cy="1446.2" r="1.0"/><circle cx="270.8" cy="1488.0" r="1.1"/><circle cx="104.0" cy="1419.2" r="1.2"/><circle cx="232.8" cy="1523.6" r="0.9"/><circle cx="164.4" cy="1526.5" r="1.1"/><circle cx="266.4" cy="1487.1" r="1.3"/><circle cx="222.6" cy="1525.6" r="1.2"/><circle cx="182.6" cy="1438.7" r="1.2"/><circle cx="214.5" cy="1453.6" r="1.3"/><circle cx="181.2" cy="1481.1" r="1.2"/><circle cx="161.1" cy="1455.1" r="1.3"/><circle cx="230.3" cy="1457.7" r="1.2"/><circle cx="244.8" cy="1468.0" r="0.9"/><circle cx="186.8" cy="1413.9" r="1.3"/><circle cx="128.6" cy="1432.6" r="1.3"/><circle cx="101.5" cy="1418.9" r="0.8"/><circle cx="161.7" cy="1524.7" r="0.9"/><circle cx="172.0" cy="1457.8" r="1.3"/><circle cx="216.5" cy="1515.0" r="1.3"/><circle cx="172.7" cy="1457.1" r="1.0"/><circle cx="117.1" cy="1505.1" r="0.8"/><circle cx="244.7" cy="1492.7" r="1.1"/><circle cx="196.1" cy="1407.0" r="1.3"/><circle cx="191.9" cy="1410.7" r="1.4"/><circle cx="229.6" cy="1455.9" r="1.0"/><circle cx="175.4" cy="1480.0" r="1.4"/><circle cx="94.3" cy="1478.7" r="1.0"/><circle cx="213.6" cy="1446.4" r="1.3"/><circle cx="113.3" cy="1458.4" r="1.4"/><circle cx="184.2" cy="1430.1" r="1.0"/><circle cx="125.1" cy="1436.7" r="0.9"/><circle cx="130.6" cy="1445.0" r="1.2"/><circle cx="270.3" cy="1489.0" r="1.1"/><circle cx="216.1" cy="1448.8" r="1.4"/><circle cx="168.0" cy="1528.2" r="1.0"/><circle cx="153.2" cy="1443.5" r="1.4"/><circle cx="272.2" cy="1489.7" r="1.3"/><circle cx="247.0" cy="1493.5" r="0.8"/><circle cx="188.9" cy="1468.1" r="0.8"/><circle cx="227.5" cy="1452.0" r="1.4"/><circle cx="149.0" cy="1449.9" r="0.8"/><circle cx="97.5" cy="1474.2" r="1.3"/><circle cx="92.9" cy="1479.6" r="1.1"/><circle cx="248.8" cy="1472.8" r="1.4"/><circle cx="179.1" cy="1392.4" r="0.9"/><circle cx="170.9" cy="1494.9" r="1.0"/><circle cx="198.2" cy="1389.6" r="1.2"/><circle cx="178.8" cy="1459.1" r="1.3"/><circle cx="189.4" cy="1482.3" r="1.1"/><circle cx="182.1" cy="1388.4" r="1.3"/><circle cx="203.9" cy="1387.8" r="1.3"/><circle cx="93.9" cy="1478.5" r="0.9"/><circle cx="184.8" cy="1447.2" r="1.4"/><circle cx="92.5" cy="1475.3" r="0.9"/><circle cx="199.8" cy="1392.2" r="0.9"/><circle cx="199.0" cy="1486.3" r="1.3"/><circle cx="164.7" cy="1522.4" r="0.9"/><circle cx="136.9" cy="1449.5" r="0.9"/><circle cx="183.6" cy="1453.1" r="1.0"/><circle cx="197.0" cy="1391.3" r="1.1"/><circle cx="211.1" cy="1443.8" r="1.2"/><circle cx="210.0" cy="1375.3" r="1.0"/><circle cx="219.8" cy="1521.8" r="1.0"/><circle cx="103.0" cy="1422.1" r="0.9"/><circle cx="177.6" cy="1383.2" r="1.2"/><circle cx="192.5" cy="1473.8" r="1.2"/></g>
<g fill="none" stroke-linecap="round" stroke-linejoin="round" filter="url(#halo)" clip-path="url(#cj2)" opacity="0.15"><path d="M197.9,1692.8 L196.2,1704.8 L199.6,1713.3" stroke="#9a9516" stroke-width="19.099999999999998" opacity="1"/><path d="M197.9,1689.4 L197.9,1672.3 L196.2,1655.3 L204.7,1638.2 L209.8,1621.2 L221.7,1614.3 L238.8,1619.5 L249.4,1621.5" stroke="#9a9516" stroke-width="10.82" opacity="1"/><path d="M196.2,1655.3 L213.2,1646.8 L226.9,1634.8 L235.7,1621.2" stroke="#9a9516" stroke-width="9.899999999999999" opacity="1"/><path d="M204.7,1638.2 L194.8,1612.6 L189.3,1604.5" stroke="#9a9516" stroke-width="8.52" opacity="1"/><path d="M196.2,1665.5 L179.1,1668.9 L163.8,1667.2" stroke="#9a9516" stroke-width="9.899999999999999" opacity="1"/><path d="M187.6,1697.9 L170.6,1687.7 L153.5,1689.4 L143.3,1697.9 L133.0,1686.0 L119.4,1686.3 L113.9,1688.0" stroke="#9a9516" stroke-width="9.899999999999999" opacity="1"/><path d="M133.0,1686.0 L124.5,1676.1" stroke="#9a9516" stroke-width="9.44" opacity="1"/><path d="M143.3,1697.9 L136.5,1713.3 L129.6,1724.4" stroke="#9a9516" stroke-width="9.899999999999999" opacity="1"/><path d="M136.5,1706.5 L116.3,1706.5" stroke="#9a9516" stroke-width="8.98" opacity="1"/><path d="M184.2,1715.0 L163.8,1720.1 L153.5,1730.7" stroke="#9a9516" stroke-width="10.36" opacity="1"/><path d="M163.8,1720.1 L170.6,1744.0 L184.2,1749.1 L187.6,1762.8 L196.2,1767.9 L203.3,1780.7" stroke="#9a9516" stroke-width="9.899999999999999" opacity="1"/><path d="M204.7,1711.6 L218.3,1713.3 L226.9,1708.2 L239.1,1701.7" stroke="#9a9516" stroke-width="9.899999999999999" opacity="1"/><path d="M218.3,1713.3 L220.0,1732.0 L226.9,1740.6 L225.5,1757.6" stroke="#9a9516" stroke-width="9.899999999999999" opacity="1"/><path d="M220.0,1732.0 L204.7,1740.6 L187.6,1744.0" stroke="#9a9516" stroke-width="8.98" opacity="1"/><path d="M196.2,1720.1 L192.8,1732.0 L179.1,1737.5" stroke="#9a9516" stroke-width="9.899999999999999" opacity="1"/><path d="M220.0,1737.2 L227.7,1740.6" stroke="#9a9516" stroke-width="13.35" opacity="1"/><path d="M196.2,1650.2 L201.3,1658.7" stroke="#9a9516" stroke-width="12.2" opacity="1"/></g>
<g fill="none" stroke-linecap="round" stroke-linejoin="round" filter="url(#bl7)" clip-path="url(#cj2)" opacity="1.0"><path d="M197.9,1692.8 L196.2,1704.8 L199.6,1713.3" stroke="#9a9516" stroke-width="8.049999999999999" opacity="1"/><path d="M197.9,1689.4 L197.9,1672.3 L196.2,1655.3 L204.7,1638.2 L209.8,1621.2 L221.7,1614.3 L238.8,1619.5 L249.4,1621.5" stroke="#9a9516" stroke-width="3.9099999999999997" opacity="1"/><path d="M196.2,1655.3 L213.2,1646.8 L226.9,1634.8 L235.7,1621.2" stroke="#9a9516" stroke-width="3.4499999999999997" opacity="1"/><path d="M204.7,1638.2 L194.8,1612.6 L189.3,1604.5" stroke="#9a9516" stroke-width="2.76" opacity="1"/><path d="M196.2,1665.5 L179.1,1668.9 L163.8,1667.2" stroke="#9a9516" stroke-width="3.4499999999999997" opacity="1"/><path d="M187.6,1697.9 L170.6,1687.7 L153.5,1689.4 L143.3,1697.9 L133.0,1686.0 L119.4,1686.3 L113.9,1688.0" stroke="#9a9516" stroke-width="3.4499999999999997" opacity="1"/><path d="M133.0,1686.0 L124.5,1676.1" stroke="#9a9516" stroke-width="3.2199999999999998" opacity="1"/><path d="M143.3,1697.9 L136.5,1713.3 L129.6,1724.4" stroke="#9a9516" stroke-width="3.4499999999999997" opacity="1"/><path d="M136.5,1706.5 L116.3,1706.5" stroke="#9a9516" stroke-width="2.9899999999999998" opacity="1"/><path d="M184.2,1715.0 L163.8,1720.1 L153.5,1730.7" stroke="#9a9516" stroke-width="3.6799999999999997" opacity="1"/><path d="M163.8,1720.1 L170.6,1744.0 L184.2,1749.1 L187.6,1762.8 L196.2,1767.9 L203.3,1780.7" stroke="#9a9516" stroke-width="3.4499999999999997" opacity="1"/><path d="M204.7,1711.6 L218.3,1713.3 L226.9,1708.2 L239.1,1701.7" stroke="#9a9516" stroke-width="3.4499999999999997" opacity="1"/><path d="M218.3,1713.3 L220.0,1732.0 L226.9,1740.6 L225.5,1757.6" stroke="#9a9516" stroke-width="3.4499999999999997" opacity="1"/><path d="M220.0,1732.0 L204.7,1740.6 L187.6,1744.0" stroke="#9a9516" stroke-width="2.9899999999999998" opacity="1"/><path d="M196.2,1720.1 L192.8,1732.0 L179.1,1737.5" stroke="#9a9516" stroke-width="3.4499999999999997" opacity="1"/><path d="M220.0,1737.2 L227.7,1740.6" stroke="#9a9516" stroke-width="5.175" opacity="1"/><path d="M196.2,1650.2 L201.3,1658.7" stroke="#9a9516" stroke-width="4.6" opacity="1"/><path d="M196.6,1701.7 L204.2,1705.3" stroke="#9a9516" stroke-width="1.3"/><circle cx="204.2" cy="1705.3" r="1.4" fill="#9a9516" stroke="none"/><path d="M197.2,1697.3 L200.0,1700.1" stroke="#9a9516" stroke-width="1.3"/><path d="M197.2,1697.7 L204.9,1700.8" stroke="#9a9516" stroke-width="1.1"/><path d="M198.3,1710.0 L206.9,1714.5" stroke="#9a9516" stroke-width="0.9"/><path d="M197.9,1686.6 L190.7,1680.1" stroke="#9a9516" stroke-width="1.7"/><path d="M197.9,1685.9 L188.8,1684.1" stroke="#9a9516" stroke-width="1.3"/><path d="M197.9,1686.6 L193.9,1682.8" stroke="#9a9516" stroke-width="2.1"/><path d="M197.9,1679.2 L201.3,1674.8" stroke="#9a9516" stroke-width="1.4"/><path d="M197.1,1664.3 L190.5,1657.1" stroke="#9a9516" stroke-width="0.9"/><path d="M196.4,1657.9 L190.9,1655.4" stroke="#9a9516" stroke-width="1.5"/><path d="M197.1,1664.6 L188.2,1661.1" stroke="#9a9516" stroke-width="1.1"/><circle cx="188.2" cy="1661.1" r="2.3" fill="#9a9516" stroke="none"/><path d="M200.5,1646.5 L204.5,1647.0" stroke="#9a9516" stroke-width="2.0"/><path d="M203.5,1640.6 L199.0,1632.0" stroke="#9a9516" stroke-width="1.2"/><path d="M199.3,1649.1 L195.5,1640.5" stroke="#9a9516" stroke-width="1.7"/><circle cx="195.5" cy="1640.5" r="1.6" fill="#9a9516" stroke="none"/><path d="M197.7,1652.3 L192.9,1645.8" stroke="#9a9516" stroke-width="1.4"/><path d="M205.1,1636.8 L211.6,1631.9" stroke="#9a9516" stroke-width="1.4"/><circle cx="211.6" cy="1631.9" r="2.1" fill="#9a9516" stroke="none"/><path d="M205.4,1635.7 L201.0,1632.5" stroke="#9a9516" stroke-width="1.2"/><path d="M207.6,1628.6 L201.4,1622.8" stroke="#9a9516" stroke-width="1.1"/><path d="M205.5,1635.7 L211.1,1633.0" stroke="#9a9516" stroke-width="2.4"/><path d="M215.2,1618.1 L219.6,1621.3" stroke="#9a9516" stroke-width="1.3"/><path d="M220.6,1615.0 L222.0,1605.3" stroke="#9a9516" stroke-width="2.3"/><path d="M215.8,1617.8 L222.2,1619.2" stroke="#9a9516" stroke-width="1.7"/><path d="M222.8,1614.7 L223.8,1622.3" stroke="#9a9516" stroke-width="2.0"/><path d="M233.8,1618.0 L233.8,1623.0" stroke="#9a9516" stroke-width="2.4"/><path d="M238.1,1619.2 L239.2,1626.3" stroke="#9a9516" stroke-width="0.9"/><path d="M226.0,1615.6 L228.7,1623.9" stroke="#9a9516" stroke-width="1.9"/><path d="M245.6,1620.8 L249.9,1628.6" stroke="#9a9516" stroke-width="2.2"/><path d="M249.1,1621.5 L251.6,1627.8" stroke="#9a9516" stroke-width="1.1"/><path d="M204.3,1651.2 L203.7,1643.1" stroke="#9a9516" stroke-width="1.2"/><path d="M206.1,1650.3 L212.5,1652.9" stroke="#9a9516" stroke-width="2.2"/><circle cx="212.5" cy="1652.9" r="2.6" fill="#9a9516" stroke="none"/><path d="M199.5,1653.6 L203.1,1656.3" stroke="#9a9516" stroke-width="2.0"/><circle cx="203.1" cy="1656.3" r="2.2" fill="#9a9516" stroke="none"/><path d="M213.0,1646.9 L216.3,1638.3" stroke="#9a9516" stroke-width="1.1"/><path d="M220.7,1640.2 L226.3,1641.7" stroke="#9a9516" stroke-width="1.8"/><path d="M216.5,1643.9 L222.4,1643.2" stroke="#9a9516" stroke-width="1.3"/><path d="M214.8,1645.4 L220.3,1649.6" stroke="#9a9516" stroke-width="1.4"/><circle cx="220.3" cy="1649.6" r="1.9" fill="#9a9516" stroke="none"/><path d="M226.2,1635.4 L233.1,1640.7" stroke="#9a9516" stroke-width="1.5"/><path d="M230.1,1629.8 L229.3,1624.0" stroke="#9a9516" stroke-width="1.6"/><circle cx="229.3" cy="1624.0" r="1.4" fill="#9a9516" stroke="none"/><path d="M227.7,1633.6 L225.9,1628.4" stroke="#9a9516" stroke-width="2.3"/><path d="M229.8,1630.4 L239.5,1629.9" stroke="#9a9516" stroke-width="1.6"/><path d="M200.9,1628.4 L195.9,1627.8" stroke="#9a9516" stroke-width="2.4"/><path d="M200.6,1627.6 L205.0,1624.7" stroke="#9a9516" stroke-width="2.3"/><circle cx="205.0" cy="1624.7" r="1.2" fill="#9a9516" stroke="none"/><path d="M198.2,1621.3 L199.6,1618.1" stroke="#9a9516" stroke-width="1.1"/><path d="M199.9,1625.9 L202.6,1620.1" stroke="#9a9516" stroke-width="1.0"/><path d="M196.3,1616.6 L199.6,1610.1" stroke="#9a9516" stroke-width="1.6"/><path d="M198.7,1622.8 L195.3,1620.5" stroke="#9a9516" stroke-width="1.3"/><path d="M190.8,1606.7 L185.1,1606.6" stroke="#9a9516" stroke-width="2.0"/><path d="M194.6,1612.3 L198.0,1605.3" stroke="#9a9516" stroke-width="1.1"/><path d="M188.8,1667.0 L183.8,1660.9" stroke="#9a9516" stroke-width="2.3"/><path d="M181.5,1668.5 L176.0,1662.9" stroke="#9a9516" stroke-width="2.0"/><path d="M188.2,1667.1 L186.5,1670.0" stroke="#9a9516" stroke-width="2.1"/><path d="M171.9,1668.1 L167.5,1663.4" stroke="#9a9516" stroke-width="1.7"/><path d="M174.0,1668.4 L169.4,1673.4" stroke="#9a9516" stroke-width="1.0"/><path d="M175.0,1668.5 L171.7,1675.4" stroke="#9a9516" stroke-width="0.9"/><path d="M170.6,1687.7 L167.2,1679.5" stroke="#9a9516" stroke-width="1.2"/><path d="M171.4,1688.2 L166.2,1694.2" stroke="#9a9516" stroke-width="1.6"/><circle cx="166.2" cy="1694.2" r="1.5" fill="#9a9516" stroke="none"/><path d="M174.0,1689.7 L170.9,1691.6" stroke="#9a9516" stroke-width="1.1"/><path d="M186.4,1697.2 L182.9,1699.2" stroke="#9a9516" stroke-width="1.5"/><path d="M169.0,1687.9 L163.1,1680.5" stroke="#9a9516" stroke-width="1.5"/><circle cx="163.1" cy="1680.5" r="2.2" fill="#9a9516" stroke="none"/><path d="M168.0,1688.0 L165.7,1681.4" stroke="#9a9516" stroke-width="1.8"/><circle cx="165.7" cy="1681.4" r="2.0" fill="#9a9516" stroke="none"/><path d="M166.2,1688.1 L163.7,1684.8" stroke="#9a9516" stroke-width="1.3"/><path d="M151.7,1690.9 L152.6,1694.7" stroke="#9a9516" stroke-width="1.9"/><circle cx="152.6" cy="1694.7" r="1.4" fill="#9a9516" stroke="none"/><path d="M147.4,1694.5 L147.7,1700.8" stroke="#9a9516" stroke-width="2.3"/><circle cx="147.7" cy="1700.8" r="1.9" fill="#9a9516" stroke="none"/><path d="M148.0,1694.0 L143.7,1694.2" stroke="#9a9516" stroke-width="2.3"/><path d="M142.1,1696.5 L144.3,1692.9" stroke="#9a9516" stroke-width="1.8"/><path d="M140.9,1695.1 L145.6,1688.7" stroke="#9a9516" stroke-width="2.1"/><path d="M135.9,1689.3 L139.3,1681.4" stroke="#9a9516" stroke-width="1.6"/><path d="M125.0,1686.2 L122.9,1691.7" stroke="#9a9516" stroke-width="1.0"/><circle cx="122.9" cy="1691.7" r="1.5" fill="#9a9516" stroke="none"/><path d="M132.5,1686.0 L130.0,1681.0" stroke="#9a9516" stroke-width="1.5"/><circle cx="130.0" cy="1681.0" r="2.5" fill="#9a9516" stroke="none"/><path d="M120.5,1686.3 L118.2,1683.1" stroke="#9a9516" stroke-width="1.1"/><circle cx="118.2" cy="1683.1" r="1.7" fill="#9a9516" stroke="none"/><path d="M114.6,1687.8 L113.7,1691.8" stroke="#9a9516" stroke-width="2.1"/><path d="M132.8,1685.7 L124.5,1685.8" stroke="#9a9516" stroke-width="1.4"/><circle cx="124.5" cy="1685.8" r="1.2" fill="#9a9516" stroke="none"/><path d="M129.2,1681.5 L121.5,1680.2" stroke="#9a9516" stroke-width="1.3"/><path d="M126.8,1678.8 L119.0,1676.9" stroke="#9a9516" stroke-width="1.8"/><path d="M137.1,1711.9 L132.5,1712.0" stroke="#9a9516" stroke-width="1.4"/><circle cx="132.5" cy="1712.0" r="2.6" fill="#9a9516" stroke="none"/><path d="M140.1,1705.1 L141.6,1709.6" stroke="#9a9516" stroke-width="1.0"/><path d="M138.3,1709.1 L135.2,1711.0" stroke="#9a9516" stroke-width="2.1"/><path d="M132.7,1719.4 L125.1,1716.7" stroke="#9a9516" stroke-width="1.3"/><path d="M135.8,1714.3 L131.3,1716.1" stroke="#9a9516" stroke-width="1.0"/><path d="M131.3,1706.5 L127.0,1700.3" stroke="#9a9516" stroke-width="2.2"/><path d="M132.5,1706.5 L129.0,1703.2" stroke="#9a9516" stroke-width="2.3"/><path d="M134.7,1706.5 L130.5,1714.4" stroke="#9a9516" stroke-width="1.2"/><circle cx="130.5" cy="1714.4" r="2.0" fill="#9a9516" stroke="none"/><path d="M126.7,1706.5 L124.5,1702.9" stroke="#9a9516" stroke-width="0.9"/><path d="M166.0,1719.6 L164.8,1723.6" stroke="#9a9516" stroke-width="1.6"/><path d="M178.8,1716.3 L175.4,1714.0" stroke="#9a9516" stroke-width="1.0"/><circle cx="175.4" cy="1714.0" r="1.3" fill="#9a9516" stroke="none"/><path d="M175.4,1717.2 L172.3,1722.9" stroke="#9a9516" stroke-width="1.3"/><path d="M167.9,1719.1 L166.1,1715.8" stroke="#9a9516" stroke-width="2.1"/><path d="M163.8,1720.1 L155.9,1717.5" stroke="#9a9516" stroke-width="1.8"/><path d="M155.4,1728.7 L158.6,1736.0" stroke="#9a9516" stroke-width="1.3"/><path d="M159.8,1724.2 L160.3,1729.5" stroke="#9a9516" stroke-width="1.1"/><path d="M164.0,1720.9 L166.8,1723.2" stroke="#9a9516" stroke-width="1.1"/><path d="M169.6,1740.6 L175.0,1743.6" stroke="#9a9516" stroke-width="1.4"/><circle cx="175.0" cy="1743.6" r="1.2" fill="#9a9516" stroke="none"/><path d="M167.7,1734.1 L171.6,1734.5" stroke="#9a9516" stroke-width="1.7"/><circle cx="171.6" cy="1734.5" r="2.2" fill="#9a9516" stroke="none"/><path d="M166.8,1730.8 L163.5,1733.1" stroke="#9a9516" stroke-width="1.4"/><path d="M166.9,1731.1 L165.3,1734.4" stroke="#9a9516" stroke-width="1.9"/><circle cx="165.3" cy="1734.4" r="1.9" fill="#9a9516" stroke="none"/><path d="M170.6,1744.0 L174.4,1739.3" stroke="#9a9516" stroke-width="1.0"/><path d="M171.0,1744.2 L178.4,1738.8" stroke="#9a9516" stroke-width="1.5"/><circle cx="178.4" cy="1738.8" r="1.6" fill="#9a9516" stroke="none"/><path d="M173.3,1745.0 L173.3,1753.5" stroke="#9a9516" stroke-width="1.4"/><path d="M186.5,1758.2 L192.3,1759.5" stroke="#9a9516" stroke-width="1.1"/><path d="M185.9,1755.8 L190.6,1759.4" stroke="#9a9516" stroke-width="2.0"/><circle cx="190.6" cy="1759.4" r="2.5" fill="#9a9516" stroke="none"/><path d="M186.9,1760.0 L182.6,1764.7" stroke="#9a9516" stroke-width="1.7"/><circle cx="182.6" cy="1764.7" r="1.5" fill="#9a9516" stroke="none"/><path d="M188.5,1763.3 L191.1,1761.0" stroke="#9a9516" stroke-width="1.9"/><path d="M192.0,1765.4 L192.0,1773.2" stroke="#9a9516" stroke-width="1.6"/><path d="M202.9,1779.8 L211.4,1780.1" stroke="#9a9516" stroke-width="1.4"/><path d="M201.0,1776.6 L204.7,1777.4" stroke="#9a9516" stroke-width="1.0"/><path d="M200.3,1775.3 L197.2,1784.2" stroke="#9a9516" stroke-width="1.3"/><path d="M215.0,1712.9 L216.0,1720.6" stroke="#9a9516" stroke-width="2.2"/><path d="M213.0,1712.6 L215.6,1709.7" stroke="#9a9516" stroke-width="1.1"/><circle cx="215.6" cy="1709.7" r="2.3" fill="#9a9516" stroke="none"/><path d="M226.6,1708.3 L234.3,1711.2" stroke="#9a9516" stroke-width="1.7"/><circle cx="234.3" cy="1711.2" r="2.1" fill="#9a9516" stroke="none"/><path d="M221.1,1711.6 L228.8,1712.8" stroke="#9a9516" stroke-width="1.7"/><path d="M237.8,1702.4 L239.9,1694.1" stroke="#9a9516" stroke-width="2.1"/><circle cx="239.9" cy="1694.1" r="2.5" fill="#9a9516" stroke="none"/><path d="M227.8,1707.7 L231.4,1710.9" stroke="#9a9516" stroke-width="1.0"/><path d="M237.1,1702.8 L242.6,1705.4" stroke="#9a9516" stroke-width="1.7"/><path d="M218.8,1718.6 L216.7,1721.3" stroke="#9a9516" stroke-width="1.1"/><path d="M219.4,1724.6 L224.1,1727.4" stroke="#9a9516" stroke-width="1.1"/><path d="M218.9,1719.5 L223.3,1724.3" stroke="#9a9516" stroke-width="2.2"/><path d="M218.9,1719.3 L210.8,1724.1" stroke="#9a9516" stroke-width="1.2"/><path d="M223.3,1736.1 L230.7,1738.4" stroke="#9a9516" stroke-width="1.1"/><circle cx="230.7" cy="1738.4" r="1.7" fill="#9a9516" stroke="none"/><path d="M225.2,1738.5 L221.0,1746.1" stroke="#9a9516" stroke-width="2.1"/><path d="M226.3,1739.9 L235.0,1740.0" stroke="#9a9516" stroke-width="1.2"/><circle cx="235.0" cy="1740.0" r="1.4" fill="#9a9516" stroke="none"/><path d="M225.5,1757.4 L231.8,1764.6" stroke="#9a9516" stroke-width="1.6"/><circle cx="231.8" cy="1764.6" r="2.6" fill="#9a9516" stroke="none"/><path d="M225.6,1757.0 L231.3,1760.2" stroke="#9a9516" stroke-width="2.3"/><path d="M226.8,1741.8 L221.2,1748.5" stroke="#9a9516" stroke-width="2.4"/><path d="M226.6,1743.9 L222.2,1746.8" stroke="#9a9516" stroke-width="1.6"/><path d="M211.2,1737.0 L202.5,1733.1" stroke="#9a9516" stroke-width="1.0"/><path d="M216.7,1733.9 L214.7,1741.7" stroke="#9a9516" stroke-width="1.1"/><path d="M211.5,1736.8 L207.2,1731.5" stroke="#9a9516" stroke-width="1.5"/><path d="M218.6,1732.8 L214.9,1732.1" stroke="#9a9516" stroke-width="2.1"/><circle cx="214.9" cy="1732.1" r="2.3" fill="#9a9516" stroke="none"/><path d="M195.1,1742.5 L193.4,1739.1" stroke="#9a9516" stroke-width="2.4"/><circle cx="193.4" cy="1739.1" r="2.3" fill="#9a9516" stroke="none"/><path d="M204.5,1740.6 L204.4,1747.9" stroke="#9a9516" stroke-width="2.2"/><path d="M204.3,1740.7 L200.6,1748.2" stroke="#9a9516" stroke-width="1.6"/><path d="M194.0,1727.8 L196.8,1733.2" stroke="#9a9516" stroke-width="2.0"/><path d="M193.4,1729.9 L187.6,1729.7" stroke="#9a9516" stroke-width="2.4"/><path d="M193.1,1730.8 L195.6,1734.6" stroke="#9a9516" stroke-width="2.2"/><circle cx="195.6" cy="1734.6" r="1.7" fill="#9a9516" stroke="none"/><path d="M190.1,1733.1 L189.0,1738.2" stroke="#9a9516" stroke-width="1.9"/><circle cx="189.0" cy="1738.2" r="1.4" fill="#9a9516" stroke="none"/><path d="M186.5,1734.5 L186.4,1738.1" stroke="#9a9516" stroke-width="1.5"/><circle cx="186.4" cy="1738.1" r="2.1" fill="#9a9516" stroke="none"/><path d="M182.6,1736.1 L178.6,1730.1" stroke="#9a9516" stroke-width="1.1"/><circle cx="178.6" cy="1730.1" r="2.5" fill="#9a9516" stroke="none"/><path d="M220.3,1737.3 L222.9,1734.4" stroke="#9a9516" stroke-width="1.1"/><path d="M222.6,1738.3 L229.0,1736.3" stroke="#9a9516" stroke-width="2.4"/><path d="M196.7,1651.1 L194.7,1656.5" stroke="#9a9516" stroke-width="1.6"/><path d="M201.1,1658.4 L205.1,1657.0" stroke="#9a9516" stroke-width="0.9"/><circle cx="205.1" cy="1657.0" r="1.7" fill="#9a9516" stroke="none"/><ellipse cx="197.9" cy="1704.8" rx="9" ry="11" fill="#b5ae18" stroke="none"/><ellipse cx="192.8" cy="1695.4" rx="3.5" ry="3.5" fill="#f1eec0" stroke="none"/><ellipse cx="197.9" cy="1655.3" rx="4" ry="4" fill="#d8d480" stroke="none"/><ellipse cx="223.5" cy="1619.5" rx="4" ry="3.5" fill="#d8d480" stroke="none"/><ellipse cx="187.6" cy="1718.4" rx="7" ry="6" fill="#a39d16" stroke="none"/><ellipse cx="221.7" cy="1738.9" rx="5" ry="4" fill="#8f8a14" stroke="none"/></g>
<g fill="#6466f0" opacity="0.95" clip-path="url(#cj2)"><circle cx="172.3" cy="1666.6" r="1.4"/><circle cx="180.1" cy="1715.4" r="1.1"/><circle cx="198.4" cy="1772.1" r="1.4"/><circle cx="230.4" cy="1706.7" r="1.5"/><circle cx="138.7" cy="1706.9" r="1.3"/><circle cx="129.1" cy="1723.2" r="1.5"/><circle cx="200.3" cy="1643.4" r="1.3"/><circle cx="220.2" cy="1615.0" r="1.4"/><circle cx="242.3" cy="1618.9" r="1.2"/><circle cx="217.8" cy="1720.6" r="1.1"/><circle cx="202.1" cy="1653.0" r="1.2"/><circle cx="208.1" cy="1650.0" r="1.3"/><circle cx="136.2" cy="1715.7" r="1.3"/><circle cx="171.0" cy="1742.2" r="1.2"/><circle cx="126.8" cy="1679.1" r="1.4"/><circle cx="193.8" cy="1764.8" r="1.1"/><circle cx="169.8" cy="1719.0" r="1.0"/><circle cx="195.4" cy="1651.7" r="1.0"/><circle cx="201.7" cy="1643.2" r="1.2"/><circle cx="204.9" cy="1638.3" r="1.1"/><circle cx="140.0" cy="1693.3" r="1.4"/><circle cx="213.7" cy="1712.3" r="1.3"/><circle cx="182.6" cy="1694.6" r="1.0"/><circle cx="207.8" cy="1627.4" r="1.1"/><circle cx="203.3" cy="1635.2" r="1.2"/><circle cx="217.5" cy="1719.5" r="1.2"/><circle cx="201.2" cy="1774.9" r="1.3"/><circle cx="172.2" cy="1717.3" r="1.3"/><circle cx="201.7" cy="1632.8" r="1.1"/><circle cx="191.4" cy="1743.9" r="1.3"/><circle cx="226.3" cy="1616.5" r="1.4"/><circle cx="222.1" cy="1733.7" r="1.0"/><circle cx="114.7" cy="1687.3" r="1.1"/><circle cx="212.9" cy="1618.6" r="1.5"/><circle cx="182.3" cy="1714.4" r="1.5"/><circle cx="199.0" cy="1771.8" r="1.2"/><circle cx="219.7" cy="1724.0" r="1.1"/><circle cx="136.7" cy="1711.3" r="1.4"/><circle cx="231.0" cy="1618.0" r="1.3"/><circle cx="132.8" cy="1718.3" r="1.5"/><circle cx="164.5" cy="1722.0" r="1.0"/><circle cx="185.4" cy="1735.0" r="1.4"/><circle cx="205.1" cy="1712.8" r="1.3"/><circle cx="140.0" cy="1692.9" r="1.2"/><circle cx="152.2" cy="1690.7" r="1.1"/><circle cx="227.0" cy="1742.1" r="1.5"/><circle cx="214.3" cy="1617.4" r="1.3"/><circle cx="165.4" cy="1726.8" r="1.4"/><circle cx="184.8" cy="1749.8" r="1.1"/><circle cx="197.1" cy="1662.2" r="0.9"/><circle cx="219.8" cy="1724.4" r="1.4"/><circle cx="226.0" cy="1746.5" r="1.0"/><circle cx="177.8" cy="1717.3" r="1.1"/><circle cx="197.9" cy="1617.4" r="1.5"/><circle cx="133.2" cy="1685.8" r="1.4"/><circle cx="224.2" cy="1738.5" r="1.2"/><circle cx="200.2" cy="1654.4" r="1.2"/><circle cx="196.9" cy="1699.1" r="1.1"/><circle cx="187.0" cy="1666.2" r="1.0"/><circle cx="224.1" cy="1637.6" r="1.3"/><circle cx="134.7" cy="1718.4" r="1.5"/><circle cx="191.5" cy="1608.0" r="1.2"/><circle cx="157.0" cy="1725.0" r="1.2"/><circle cx="236.0" cy="1703.8" r="0.9"/><circle cx="177.1" cy="1692.3" r="1.2"/><circle cx="195.9" cy="1618.5" r="1.2"/><circle cx="185.9" cy="1754.2" r="1.4"/><circle cx="211.5" cy="1737.7" r="1.3"/><circle cx="217.4" cy="1733.6" r="1.2"/><circle cx="201.2" cy="1643.5" r="1.4"/><circle cx="227.3" cy="1631.6" r="1.1"/><circle cx="134.6" cy="1716.5" r="1.1"/><circle cx="202.3" cy="1632.5" r="1.1"/><circle cx="197.2" cy="1706.2" r="1.3"/><circle cx="220.9" cy="1737.3" r="1.2"/><circle cx="168.6" cy="1719.4" r="1.4"/><circle cx="167.9" cy="1737.8" r="1.3"/><circle cx="198.0" cy="1687.1" r="1.1"/><circle cx="218.1" cy="1617.3" r="1.3"/><circle cx="225.9" cy="1634.5" r="1.0"/><circle cx="196.6" cy="1702.2" r="1.4"/><circle cx="206.8" cy="1631.4" r="1.3"/><circle cx="138.1" cy="1710.5" r="1.2"/><circle cx="116.2" cy="1686.4" r="1.2"/><circle cx="169.0" cy="1743.4" r="1.0"/><circle cx="196.8" cy="1767.9" r="1.3"/><circle cx="225.2" cy="1745.4" r="1.0"/><circle cx="126.6" cy="1676.9" r="1.3"/><circle cx="238.7" cy="1619.9" r="1.4"/><circle cx="223.5" cy="1739.4" r="1.2"/><circle cx="165.6" cy="1727.7" r="1.2"/><circle cx="225.2" cy="1739.9" r="1.3"/><circle cx="203.5" cy="1638.2" r="1.1"/><circle cx="162.4" cy="1720.2" r="1.3"/><circle cx="176.0" cy="1745.6" r="0.9"/><circle cx="169.8" cy="1737.1" r="1.4"/><circle cx="141.5" cy="1694.8" r="1.1"/><circle cx="196.9" cy="1770.2" r="1.1"/><circle cx="198.3" cy="1622.3" r="1.0"/><circle cx="164.6" cy="1728.7" r="1.2"/><circle cx="219.3" cy="1731.9" r="1.1"/><circle cx="219.3" cy="1716.5" r="0.9"/><circle cx="205.6" cy="1633.0" r="1.0"/><circle cx="158.1" cy="1724.4" r="1.3"/><circle cx="199.9" cy="1775.0" r="1.2"/><circle cx="197.8" cy="1685.8" r="1.3"/><circle cx="228.5" cy="1617.9" r="1.1"/><circle cx="188.3" cy="1744.9" r="1.5"/><circle cx="241.2" cy="1619.9" r="1.1"/><circle cx="228.1" cy="1633.7" r="1.1"/><circle cx="183.3" cy="1697.2" r="1.2"/><circle cx="225.2" cy="1616.8" r="1.3"/><circle cx="169.6" cy="1668.3" r="0.9"/><circle cx="234.4" cy="1617.9" r="1.3"/><circle cx="223.3" cy="1635.7" r="0.9"/><circle cx="184.7" cy="1755.5" r="1.5"/><circle cx="129.9" cy="1684.7" r="1.0"/><circle cx="204.2" cy="1634.3" r="1.4"/><circle cx="204.3" cy="1741.7" r="1.5"/><circle cx="125.6" cy="1677.3" r="1.1"/><circle cx="198.7" cy="1650.0" r="1.4"/><circle cx="137.7" cy="1691.0" r="1.3"/><circle cx="230.0" cy="1705.5" r="1.2"/><circle cx="197.4" cy="1651.2" r="0.9"/><circle cx="173.4" cy="1668.7" r="0.9"/><circle cx="200.2" cy="1656.0" r="1.1"/><circle cx="128.5" cy="1687.1" r="1.3"/><circle cx="163.3" cy="1723.9" r="1.0"/><circle cx="195.7" cy="1698.8" r="1.1"/><circle cx="193.5" cy="1727.8" r="1.0"/><circle cx="215.1" cy="1646.0" r="1.3"/><circle cx="189.3" cy="1763.3" r="1.1"/><circle cx="226.5" cy="1743.9" r="1.0"/><circle cx="198.7" cy="1741.8" r="1.4"/><circle cx="142.1" cy="1696.7" r="1.4"/><circle cx="134.5" cy="1716.7" r="1.3"/><circle cx="241.0" cy="1620.3" r="1.3"/><circle cx="204.3" cy="1740.0" r="1.1"/><circle cx="197.5" cy="1705.8" r="1.4"/><circle cx="168.8" cy="1688.4" r="1.3"/><circle cx="199.6" cy="1710.8" r="1.1"/><circle cx="186.2" cy="1698.7" r="1.1"/><circle cx="186.1" cy="1763.4" r="1.1"/><circle cx="226.8" cy="1741.8" r="1.1"/><circle cx="221.2" cy="1738.7" r="1.3"/><circle cx="226.5" cy="1636.3" r="1.3"/><circle cx="187.4" cy="1667.9" r="1.1"/><circle cx="189.0" cy="1668.0" r="1.0"/><circle cx="177.1" cy="1746.8" r="1.0"/><circle cx="174.8" cy="1669.8" r="1.0"/><circle cx="168.3" cy="1736.5" r="1.4"/><circle cx="197.0" cy="1655.7" r="1.0"/><circle cx="236.4" cy="1617.2" r="1.2"/><circle cx="236.0" cy="1621.4" r="1.4"/><circle cx="226.8" cy="1709.0" r="1.1"/><circle cx="179.6" cy="1668.8" r="1.3"/><circle cx="231.6" cy="1706.3" r="0.9"/><circle cx="198.0" cy="1685.2" r="1.5"/><circle cx="181.5" cy="1668.8" r="1.2"/><circle cx="184.8" cy="1751.4" r="1.2"/><circle cx="130.4" cy="1685.5" r="1.4"/><circle cx="128.0" cy="1677.2" r="1.2"/><circle cx="185.7" cy="1696.0" r="1.0"/><circle cx="210.4" cy="1619.4" r="1.5"/><circle cx="192.1" cy="1665.2" r="1.4"/><circle cx="158.7" cy="1725.2" r="1.2"/><circle cx="122.6" cy="1705.0" r="1.1"/><circle cx="173.1" cy="1745.1" r="1.1"/><circle cx="236.8" cy="1702.4" r="1.5"/><circle cx="196.5" cy="1699.6" r="1.2"/></g>
<rect x="66.5" y="1555.7" width="44.4" height="4.4" fill="#fff"/>
<rect x="66.5" y="1801.6" width="44.4" height="4.4" fill="#fff"/>
<rect x="668.6" y="1340.3" width="224.4" height="224.2" fill="#000"/>
<rect x="668.6" y="1585.9" width="224.4" height="224.2" fill="#000"/>
<text font-size="30.5" text-anchor="middle" transform="translate(658.8,1452) rotate(-90)">MMc<tspan font-size="17.78" dy="-10.16">pos</tspan></text>
<text font-size="30.5" text-anchor="middle" transform="translate(658.8,1698) rotate(-90)">MMc<tspan font-size="17.78" dy="-10.16">low</tspan></text>
<g fill="none" stroke-linecap="round" stroke-linejoin="round" filter="url(#halo)" clip-path="url(#cl1)" opacity="0.3"><path d="M709.2,1365.5 L717.7,1379.2 L722.8,1392.8 L729.6,1408.2" stroke="#7d7816" stroke-width="23.7" opacity="1"/><path d="M695.5,1355.3 L709.2,1368.9" stroke="#7d7816" stroke-width="16.799999999999997" opacity="1"/><path d="M719.4,1360.4 L724.5,1372.3" stroke="#7d7816" stroke-width="19.099999999999998" opacity="1"/><path d="M726.2,1406.5 L739.9,1406.5 L753.5,1411.6" stroke="#7d7816" stroke-width="26.0" opacity="1"/><path d="M753.5,1411.6 L763.8,1420.1 L767.2,1430.3" stroke="#7d7816" stroke-width="19.099999999999998" opacity="1"/><path d="M733.0,1423.5 L741.6,1430.3" stroke="#7d7816" stroke-width="14.5" opacity="1"/><path d="M681.9,1353.6 L695.5,1357.0" stroke="#7d7816" stroke-width="12.2" opacity="1"/><path d="M746.7,1350.2 L748.4,1365.5 L743.3,1379.2" stroke="#7d7816" stroke-width="12.2" opacity="1"/><path d="M681.9,1391.1 L695.5,1396.2" stroke="#7d7816" stroke-width="12.2" opacity="1"/><path d="M770.6,1462.8 L780.8,1459.3 L789.3,1461.0" stroke="#7d7816" stroke-width="30.599999999999998" opacity="1"/><path d="M789.3,1461.0 L799.6,1450.8 L801.3,1426.9 L813.2,1416.7 L811.5,1404.8 L797.9,1386.0 L785.9,1389.4" stroke="#7d7816" stroke-width="16.799999999999997" opacity="1"/><path d="M813.2,1416.7 L821.7,1415.0 L833.7,1413.3" stroke="#7d7816" stroke-width="12.2" opacity="1"/><path d="M801.3,1440.6 L814.9,1442.3" stroke="#7d7816" stroke-width="12.2" opacity="1"/><path d="M770.6,1462.8 L756.9,1467.9 L748.4,1478.1 L745.0,1495.2 L736.5,1505.4 L743.3,1512.2 L756.9,1508.8 L767.2,1498.6 L770.6,1488.3 L774.0,1478.1 L784.2,1473.0" stroke="#7d7816" stroke-width="16.799999999999997" opacity="1"/><path d="M756.9,1447.4 L760.3,1457.6 L770.6,1462.8" stroke="#7d7816" stroke-width="14.5" opacity="1"/><path d="M796.2,1466.2 L809.8,1471.3 L821.7,1469.6 L830.3,1471.3" stroke="#7d7816" stroke-width="14.5" opacity="1"/><path d="M818.3,1474.7 L821.7,1491.7" stroke="#7d7816" stroke-width="16.799999999999997" opacity="1"/><path d="M745.0,1495.2 L729.6,1496.9 L719.4,1490.0" stroke="#7d7816" stroke-width="12.2" opacity="1"/><path d="M736.5,1505.4 L729.6,1519.0 L722.8,1525.9" stroke="#7d7816" stroke-width="12.2" opacity="1"/><path d="M767.2,1498.6 L777.4,1505.4 L770.6,1519.0" stroke="#7d7816" stroke-width="12.2" opacity="1"/><path d="M791.0,1474.7 L796.2,1486.6" stroke="#7d7816" stroke-width="14.5" opacity="1"/></g>
<g fill="none" stroke-linecap="round" stroke-linejoin="round" filter="url(#bl15)" clip-path="url(#cl1)" opacity="1.0"><path d="M709.2,1365.5 L717.7,1379.2 L722.8,1392.8 L729.6,1408.2" stroke="#7d7816" stroke-width="10.35" opacity="1"/><path d="M695.5,1355.3 L709.2,1368.9" stroke="#7d7816" stroke-width="6.8999999999999995" opacity="1"/><path d="M719.4,1360.4 L724.5,1372.3" stroke="#7d7816" stroke-width="8.049999999999999" opacity="1"/><path d="M726.2,1406.5 L739.9,1406.5 L753.5,1411.6" stroke="#7d7816" stroke-width="11.5" opacity="1"/><path d="M753.5,1411.6 L763.8,1420.1 L767.2,1430.3" stroke="#7d7816" stroke-width="8.049999999999999" opacity="1"/><path d="M733.0,1423.5 L741.6,1430.3" stroke="#7d7816" stroke-width="5.75" opacity="1"/><path d="M681.9,1353.6 L695.5,1357.0" stroke="#7d7816" stroke-width="4.6" opacity="1"/><path d="M746.7,1350.2 L748.4,1365.5 L743.3,1379.2" stroke="#7d7816" stroke-width="4.6" opacity="1"/><path d="M681.9,1391.1 L695.5,1396.2" stroke="#7d7816" stroke-width="4.6" opacity="1"/><path d="M770.6,1462.8 L780.8,1459.3 L789.3,1461.0" stroke="#7d7816" stroke-width="13.799999999999999" opacity="1"/><path d="M789.3,1461.0 L799.6,1450.8 L801.3,1426.9 L813.2,1416.7 L811.5,1404.8 L797.9,1386.0 L785.9,1389.4" stroke="#7d7816" stroke-width="6.8999999999999995" opacity="1"/><path d="M813.2,1416.7 L821.7,1415.0 L833.7,1413.3" stroke="#7d7816" stroke-width="4.6" opacity="1"/><path d="M801.3,1440.6 L814.9,1442.3" stroke="#7d7816" stroke-width="4.6" opacity="1"/><path d="M770.6,1462.8 L756.9,1467.9 L748.4,1478.1 L745.0,1495.2 L736.5,1505.4 L743.3,1512.2 L756.9,1508.8 L767.2,1498.6 L770.6,1488.3 L774.0,1478.1 L784.2,1473.0" stroke="#7d7816" stroke-width="6.8999999999999995" opacity="1"/><path d="M756.9,1447.4 L760.3,1457.6 L770.6,1462.8" stroke="#7d7816" stroke-width="5.75" opacity="1"/><path d="M796.2,1466.2 L809.8,1471.3 L821.7,1469.6 L830.3,1471.3" stroke="#7d7816" stroke-width="5.75" opacity="1"/><path d="M818.3,1474.7 L821.7,1491.7" stroke="#7d7816" stroke-width="6.8999999999999995" opacity="1"/><path d="M745.0,1495.2 L729.6,1496.9 L719.4,1490.0" stroke="#7d7816" stroke-width="4.6" opacity="1"/><path d="M736.5,1505.4 L729.6,1519.0 L722.8,1525.9" stroke="#7d7816" stroke-width="4.6" opacity="1"/><path d="M767.2,1498.6 L777.4,1505.4 L770.6,1519.0" stroke="#7d7816" stroke-width="4.6" opacity="1"/><path d="M791.0,1474.7 L796.2,1486.6" stroke="#7d7816" stroke-width="5.75" opacity="1"/><path d="M712.4,1370.6 L723.3,1373.6" stroke="#7d7816" stroke-width="1.4"/><path d="M714.3,1373.8 L709.3,1383.3" stroke="#7d7816" stroke-width="1.0"/><path d="M715.2,1375.1 L708.8,1381.3" stroke="#7d7816" stroke-width="1.2"/><circle cx="708.8" cy="1381.3" r="1.4" fill="#7d7816" stroke="none"/><path d="M722.8,1392.7 L731.3,1392.6" stroke="#7d7816" stroke-width="2.0"/><circle cx="731.3" cy="1392.6" r="1.6" fill="#7d7816" stroke="none"/><path d="M721.1,1388.4 L711.2,1395.4" stroke="#7d7816" stroke-width="2.3"/><path d="M719.4,1383.8 L731.4,1389.6" stroke="#7d7816" stroke-width="2.2"/><circle cx="731.4" cy="1389.6" r="1.7" fill="#7d7816" stroke="none"/><path d="M723.0,1393.2 L713.9,1402.5" stroke="#7d7816" stroke-width="2.3"/><circle cx="713.9" cy="1402.5" r="2.3" fill="#7d7816" stroke="none"/><path d="M724.2,1395.8 L737.0,1399.7" stroke="#7d7816" stroke-width="1.1"/><path d="M726.2,1400.5 L722.4,1406.0" stroke="#7d7816" stroke-width="1.0"/><circle cx="722.4" cy="1406.0" r="2.3" fill="#7d7816" stroke="none"/><path d="M697.5,1357.3 L707.5,1358.7" stroke="#7d7816" stroke-width="1.8"/><circle cx="707.5" cy="1358.7" r="1.6" fill="#7d7816" stroke="none"/><path d="M709.1,1368.9 L720.6,1369.9" stroke="#7d7816" stroke-width="2.3"/><circle cx="720.6" cy="1369.9" r="2.1" fill="#7d7816" stroke="none"/><path d="M696.1,1355.9 L691.5,1364.5" stroke="#7d7816" stroke-width="1.7"/><path d="M707.4,1367.1 L716.5,1362.1" stroke="#7d7816" stroke-width="1.6"/><path d="M722.3,1367.3 L732.6,1370.0" stroke="#7d7816" stroke-width="0.9"/><circle cx="732.6" cy="1370.0" r="1.5" fill="#7d7816" stroke="none"/><path d="M720.8,1363.6 L727.9,1366.0" stroke="#7d7816" stroke-width="1.7"/><circle cx="727.9" cy="1366.0" r="1.7" fill="#7d7816" stroke="none"/><path d="M722.3,1367.1 L715.8,1376.7" stroke="#7d7816" stroke-width="1.3"/><path d="M729.4,1406.5 L736.8,1418.3" stroke="#7d7816" stroke-width="1.7"/><circle cx="736.8" cy="1418.3" r="1.6" fill="#7d7816" stroke="none"/><path d="M735.7,1406.5 L746.9,1414.5" stroke="#7d7816" stroke-width="2.1"/><circle cx="746.9" cy="1414.5" r="1.4" fill="#7d7816" stroke="none"/><path d="M727.9,1406.5 L732.3,1403.4" stroke="#7d7816" stroke-width="1.2"/><path d="M753.1,1411.4 L756.6,1420.1" stroke="#7d7816" stroke-width="1.3"/><path d="M750.1,1410.3 L750.4,1415.7" stroke="#7d7816" stroke-width="1.6"/><path d="M750.3,1410.4 L752.1,1422.8" stroke="#7d7816" stroke-width="1.9"/><circle cx="752.1" cy="1422.8" r="2.0" fill="#7d7816" stroke="none"/><path d="M757.1,1414.6 L763.1,1413.8" stroke="#7d7816" stroke-width="2.1"/><path d="M755.2,1413.0 L760.8,1409.2" stroke="#7d7816" stroke-width="1.6"/><path d="M759.1,1416.2 L768.5,1415.8" stroke="#7d7816" stroke-width="2.3"/><path d="M763.9,1420.4 L757.4,1427.8" stroke="#7d7816" stroke-width="1.7"/><path d="M764.0,1420.8 L761.7,1427.4" stroke="#7d7816" stroke-width="1.1"/><circle cx="761.7" cy="1427.4" r="1.9" fill="#7d7816" stroke="none"/><path d="M764.0,1420.7 L769.0,1421.3" stroke="#7d7816" stroke-width="1.3"/><path d="M741.3,1430.1 L739.2,1434.8" stroke="#7d7816" stroke-width="1.8"/><path d="M738.8,1428.1 L737.9,1433.6" stroke="#7d7816" stroke-width="1.0"/><path d="M682.3,1353.7 L684.9,1362.7" stroke="#7d7816" stroke-width="2.0"/><circle cx="684.9" cy="1362.7" r="1.3" fill="#7d7816" stroke="none"/><path d="M686.3,1354.7 L685.9,1365.1" stroke="#7d7816" stroke-width="2.4"/><path d="M746.9,1351.8 L739.1,1356.5" stroke="#7d7816" stroke-width="1.1"/><path d="M746.9,1351.8 L756.8,1361.4" stroke="#7d7816" stroke-width="2.4"/><path d="M748.0,1361.5 L742.3,1365.2" stroke="#7d7816" stroke-width="2.2"/><circle cx="742.3" cy="1365.2" r="1.2" fill="#7d7816" stroke="none"/><path d="M744.9,1374.8 L752.6,1386.3" stroke="#7d7816" stroke-width="0.9"/><circle cx="752.6" cy="1386.3" r="2.3" fill="#7d7816" stroke="none"/><path d="M748.1,1366.3 L740.5,1368.1" stroke="#7d7816" stroke-width="2.2"/><path d="M744.9,1374.8 L750.7,1385.9" stroke="#7d7816" stroke-width="2.4"/><path d="M694.6,1395.9 L693.7,1401.5" stroke="#7d7816" stroke-width="1.4"/><circle cx="693.7" cy="1401.5" r="2.0" fill="#7d7816" stroke="none"/><path d="M688.6,1393.6 L687.3,1406.9" stroke="#7d7816" stroke-width="1.5"/><circle cx="687.3" cy="1406.9" r="1.6" fill="#7d7816" stroke="none"/><path d="M688.2,1393.5 L689.9,1399.9" stroke="#7d7816" stroke-width="1.5"/><circle cx="689.9" cy="1399.9" r="1.4" fill="#7d7816" stroke="none"/><path d="M772.5,1462.1 L776.7,1466.5" stroke="#7d7816" stroke-width="1.8"/><circle cx="776.7" cy="1466.5" r="1.8" fill="#7d7816" stroke="none"/><path d="M776.8,1460.7 L785.8,1465.0" stroke="#7d7816" stroke-width="1.4"/><circle cx="785.8" cy="1465.0" r="2.0" fill="#7d7816" stroke="none"/><path d="M788.2,1460.8 L790.2,1473.1" stroke="#7d7816" stroke-width="1.7"/><path d="M780.8,1459.3 L785.2,1457.2" stroke="#7d7816" stroke-width="2.3"/><circle cx="785.2" cy="1457.2" r="1.4" fill="#7d7816" stroke="none"/><path d="M790.3,1460.1 L798.4,1462.9" stroke="#7d7816" stroke-width="2.2"/><path d="M790.7,1459.7 L798.1,1460.4" stroke="#7d7816" stroke-width="1.4"/><path d="M791.2,1459.2 L789.9,1454.5" stroke="#7d7816" stroke-width="1.9"/><circle cx="789.9" cy="1454.5" r="1.9" fill="#7d7816" stroke="none"/><path d="M800.7,1434.6 L796.5,1430.1" stroke="#7d7816" stroke-width="1.6"/><path d="M800.0,1445.3 L808.0,1437.3" stroke="#7d7816" stroke-width="2.0"/><circle cx="808.0" cy="1437.3" r="1.6" fill="#7d7816" stroke="none"/><path d="M800.2,1442.6 L788.8,1434.6" stroke="#7d7816" stroke-width="2.0"/><path d="M800.2,1442.7 L793.6,1440.5" stroke="#7d7816" stroke-width="1.2"/><path d="M800.3,1440.7 L789.1,1437.3" stroke="#7d7816" stroke-width="1.6"/><circle cx="789.1" cy="1437.3" r="2.3" fill="#7d7816" stroke="none"/><path d="M806.8,1422.2 L804.3,1408.8" stroke="#7d7816" stroke-width="2.3"/><circle cx="804.3" cy="1408.8" r="1.7" fill="#7d7816" stroke="none"/><path d="M811.9,1417.8 L817.1,1421.9" stroke="#7d7816" stroke-width="1.7"/><path d="M807.7,1421.4 L804.5,1415.8" stroke="#7d7816" stroke-width="1.0"/><path d="M812.9,1414.3 L816.7,1409.6" stroke="#7d7816" stroke-width="1.3"/><circle cx="816.7" cy="1409.6" r="1.8" fill="#7d7816" stroke="none"/><path d="M811.9,1407.4 L820.3,1399.6" stroke="#7d7816" stroke-width="1.4"/><path d="M801.8,1391.4 L809.3,1381.5" stroke="#7d7816" stroke-width="2.3"/><circle cx="809.3" cy="1381.5" r="1.7" fill="#7d7816" stroke="none"/><path d="M798.4,1386.7 L799.1,1378.0" stroke="#7d7816" stroke-width="2.0"/><path d="M802.4,1392.3 L792.9,1392.9" stroke="#7d7816" stroke-width="1.3"/><path d="M801.0,1390.3 L806.6,1377.0" stroke="#7d7816" stroke-width="2.0"/><path d="M805.2,1396.1 L800.3,1395.2" stroke="#7d7816" stroke-width="1.6"/><circle cx="800.3" cy="1395.2" r="1.6" fill="#7d7816" stroke="none"/><path d="M795.7,1386.6 L791.7,1379.3" stroke="#7d7816" stroke-width="1.9"/><circle cx="791.7" cy="1379.3" r="2.5" fill="#7d7816" stroke="none"/><path d="M791.3,1387.9 L783.4,1399.7" stroke="#7d7816" stroke-width="1.0"/><circle cx="783.4" cy="1399.7" r="1.6" fill="#7d7816" stroke="none"/><path d="M817.0,1415.9 L824.6,1424.6" stroke="#7d7816" stroke-width="1.0"/><path d="M819.3,1415.5 L826.1,1407.8" stroke="#7d7816" stroke-width="1.7"/><path d="M829.7,1413.9 L834.6,1422.3" stroke="#7d7816" stroke-width="1.5"/><circle cx="834.6" cy="1422.3" r="2.0" fill="#7d7816" stroke="none"/><path d="M825.1,1414.5 L834.7,1422.4" stroke="#7d7816" stroke-width="1.7"/><path d="M813.3,1442.1 L819.0,1436.1" stroke="#7d7816" stroke-width="1.5"/><path d="M812.3,1442.0 L817.4,1439.0" stroke="#7d7816" stroke-width="2.0"/><circle cx="817.4" cy="1439.0" r="1.9" fill="#7d7816" stroke="none"/><path d="M769.5,1463.2 L761.8,1451.3" stroke="#7d7816" stroke-width="2.3"/><path d="M768.3,1463.6 L763.6,1474.2" stroke="#7d7816" stroke-width="1.7"/><path d="M770.5,1462.8 L764.2,1457.1" stroke="#7d7816" stroke-width="1.3"/><path d="M749.4,1476.9 L737.6,1478.8" stroke="#7d7816" stroke-width="2.2"/><circle cx="737.6" cy="1478.8" r="1.9" fill="#7d7816" stroke="none"/><path d="M751.4,1474.6 L742.4,1471.1" stroke="#7d7816" stroke-width="2.3"/><path d="M745.5,1492.8 L753.8,1499.8" stroke="#7d7816" stroke-width="1.6"/><circle cx="753.8" cy="1499.8" r="1.8" fill="#7d7816" stroke="none"/><path d="M745.7,1491.4 L738.7,1497.5" stroke="#7d7816" stroke-width="1.8"/><path d="M747.9,1480.7 L738.2,1482.8" stroke="#7d7816" stroke-width="2.3"/><path d="M742.6,1498.1 L748.3,1506.6" stroke="#7d7816" stroke-width="1.3"/><path d="M742.6,1498.0 L733.7,1496.8" stroke="#7d7816" stroke-width="1.7"/><path d="M741.7,1510.7 L749.0,1507.8" stroke="#7d7816" stroke-width="2.0"/><circle cx="749.0" cy="1507.8" r="1.3" fill="#7d7816" stroke="none"/><path d="M741.8,1510.7 L734.6,1522.8" stroke="#7d7816" stroke-width="1.3"/><path d="M754.3,1509.5 L757.6,1503.2" stroke="#7d7816" stroke-width="1.3"/><path d="M750.3,1510.5 L756.6,1501.0" stroke="#7d7816" stroke-width="1.1"/><circle cx="756.6" cy="1501.0" r="1.3" fill="#7d7816" stroke="none"/><path d="M752.3,1510.0 L764.8,1514.7" stroke="#7d7816" stroke-width="2.1"/><path d="M765.5,1500.3 L770.4,1503.2" stroke="#7d7816" stroke-width="2.0"/><path d="M759.5,1506.2 L766.2,1506.4" stroke="#7d7816" stroke-width="1.9"/><path d="M758.9,1506.8 L757.3,1495.3" stroke="#7d7816" stroke-width="1.3"/><circle cx="757.3" cy="1495.3" r="2.2" fill="#7d7816" stroke="none"/><path d="M770.5,1488.5 L762.4,1481.7" stroke="#7d7816" stroke-width="1.5"/><path d="M767.6,1497.3 L760.8,1492.2" stroke="#7d7816" stroke-width="1.7"/><path d="M771.7,1484.9 L764.4,1473.3" stroke="#7d7816" stroke-width="1.0"/><circle cx="764.4" cy="1473.3" r="1.7" fill="#7d7816" stroke="none"/><path d="M772.2,1483.6 L783.4,1482.1" stroke="#7d7816" stroke-width="1.7"/><path d="M778.6,1475.8 L783.8,1477.2" stroke="#7d7816" stroke-width="2.1"/><circle cx="783.8" cy="1477.2" r="1.4" fill="#7d7816" stroke="none"/><path d="M782.4,1473.9 L787.2,1464.9" stroke="#7d7816" stroke-width="2.1"/><circle cx="787.2" cy="1464.9" r="2.2" fill="#7d7816" stroke="none"/><path d="M759.1,1453.8 L754.7,1464.6" stroke="#7d7816" stroke-width="1.9"/><path d="M758.6,1452.3 L756.3,1457.7" stroke="#7d7816" stroke-width="1.7"/><circle cx="756.3" cy="1457.7" r="1.9" fill="#7d7816" stroke="none"/><path d="M769.9,1462.4 L779.0,1456.3" stroke="#7d7816" stroke-width="1.9"/><circle cx="779.0" cy="1456.3" r="2.3" fill="#7d7816" stroke="none"/><path d="M769.3,1462.1 L780.3,1455.3" stroke="#7d7816" stroke-width="2.3"/><circle cx="780.3" cy="1455.3" r="1.4" fill="#7d7816" stroke="none"/><path d="M796.4,1466.3 L800.4,1461.0" stroke="#7d7816" stroke-width="2.0"/><path d="M806.1,1469.9 L813.1,1460.6" stroke="#7d7816" stroke-width="1.0"/><path d="M798.8,1467.1 L800.3,1476.0" stroke="#7d7816" stroke-width="2.4"/><circle cx="800.3" cy="1476.0" r="2.5" fill="#7d7816" stroke="none"/><path d="M810.9,1471.1 L815.9,1463.4" stroke="#7d7816" stroke-width="1.9"/><path d="M817.7,1470.1 L829.3,1477.0" stroke="#7d7816" stroke-width="2.2"/><path d="M822.2,1469.7 L825.0,1482.3" stroke="#7d7816" stroke-width="2.0"/><path d="M821.5,1490.5 L829.9,1496.6" stroke="#7d7816" stroke-width="1.5"/><path d="M819.5,1480.6 L830.8,1489.5" stroke="#7d7816" stroke-width="1.9"/><path d="M819.9,1482.5 L812.7,1491.9" stroke="#7d7816" stroke-width="1.6"/><path d="M819.0,1478.0 L812.6,1484.8" stroke="#7d7816" stroke-width="1.2"/><path d="M738.5,1495.9 L732.4,1504.8" stroke="#7d7816" stroke-width="1.9"/><circle cx="732.4" cy="1504.8" r="2.4" fill="#7d7816" stroke="none"/><path d="M743.9,1495.3 L739.4,1489.6" stroke="#7d7816" stroke-width="1.7"/><path d="M741.7,1495.5 L733.1,1488.8" stroke="#7d7816" stroke-width="2.1"/><path d="M728.1,1495.8 L718.2,1504.4" stroke="#7d7816" stroke-width="1.4"/><path d="M720.2,1490.6 L723.6,1482.5" stroke="#7d7816" stroke-width="1.4"/><path d="M731.4,1515.6 L740.7,1525.7" stroke="#7d7816" stroke-width="1.3"/><path d="M731.2,1516.0 L724.2,1518.3" stroke="#7d7816" stroke-width="2.3"/><path d="M735.0,1508.2 L739.3,1518.4" stroke="#7d7816" stroke-width="1.1"/><path d="M727.6,1521.0 L726.0,1530.3" stroke="#7d7816" stroke-width="1.1"/><circle cx="726.0" cy="1530.3" r="2.3" fill="#7d7816" stroke="none"/><path d="M726.7,1522.0 L716.6,1521.5" stroke="#7d7816" stroke-width="0.9"/><path d="M771.4,1501.4 L773.8,1507.6" stroke="#7d7816" stroke-width="1.1"/><path d="M770.8,1501.0 L770.3,1506.4" stroke="#7d7816" stroke-width="1.5"/><path d="M777.1,1505.2 L783.0,1499.3" stroke="#7d7816" stroke-width="1.5"/><path d="M771.4,1517.4 L775.6,1520.8" stroke="#7d7816" stroke-width="1.8"/><circle cx="775.6" cy="1520.8" r="2.0" fill="#7d7816" stroke="none"/><path d="M776.1,1508.0 L780.2,1514.7" stroke="#7d7816" stroke-width="1.8"/><path d="M776.2,1507.9 L777.2,1513.1" stroke="#7d7816" stroke-width="1.6"/><path d="M795.1,1484.1 L808.8,1485.5" stroke="#7d7816" stroke-width="1.9"/><path d="M794.1,1481.8 L788.9,1485.6" stroke="#7d7816" stroke-width="1.1"/><circle cx="788.9" cy="1485.6" r="1.2" fill="#7d7816" stroke="none"/><path d="M795.4,1484.9 L807.3,1486.8" stroke="#7d7816" stroke-width="1.9"/><ellipse cx="782.5" cy="1461.0" rx="9" ry="7" fill="#b8b11c" stroke="none"/><ellipse cx="719.4" cy="1380.9" rx="7" ry="7" fill="#8a8418" stroke="none"/></g>
<g fill="none" stroke-linecap="round" stroke-linejoin="round" filter="url(#halo)" clip-path="url(#cl2)" opacity="0.3"><path d="M814.9,1631.4 L811.5,1643.3 L814.9,1658.7 L811.5,1675.8 L804.7,1689.4 L801.3,1703.0 L801.3,1715.0" stroke="#8a851a" stroke-width="17.4" opacity="1"/><path d="M811.5,1643.3 L804.7,1650.2 L809.8,1662.1 L818.3,1655.3 L814.9,1641.6" stroke="#8a851a" stroke-width="12.6" opacity="1"/><path d="M823.5,1665.5 L821.7,1679.2 L825.2,1692.8" stroke="#8a851a" stroke-width="15.0" opacity="1"/><path d="M750.1,1641.6 L756.9,1658.7 L763.8,1668.9" stroke="#8a851a" stroke-width="10.2" opacity="1"/><path d="M763.8,1668.9 L753.5,1679.2 L753.5,1692.8 L758.6,1701.3 L753.5,1708.2" stroke="#8a851a" stroke-width="12.6" opacity="1"/><path d="M743.3,1689.4 L750.1,1694.5" stroke="#8a851a" stroke-width="10.2" opacity="1"/><path d="M763.8,1672.3 L777.4,1680.9 L787.6,1684.3" stroke="#8a851a" stroke-width="10.2" opacity="1"/><path d="M758.6,1701.3 L762.0,1720.1" stroke="#8a851a" stroke-width="10.2" opacity="1"/><path d="M801.3,1715.0 L787.6,1732.0 L777.4,1737.2 L770.6,1749.1 L765.1,1756.8" stroke="#8a851a" stroke-width="12.6" opacity="1"/><path d="M784.2,1711.6 L789.3,1706.5" stroke="#8a851a" stroke-width="10.2" opacity="1"/><path d="M801.3,1715.0 L811.5,1708.2" stroke="#8a851a" stroke-width="10.2" opacity="1"/><path d="M797.9,1720.1 L808.1,1738.9" stroke="#8a851a" stroke-width="9.0" opacity="1"/><path d="M772.3,1726.9 L770.6,1737.2" stroke="#8a851a" stroke-width="10.2" opacity="1"/></g>
<g fill="none" stroke-linecap="round" stroke-linejoin="round" filter="url(#bl10)" clip-path="url(#cl2)" opacity="1.0"><path d="M814.9,1631.4 L811.5,1643.3 L814.9,1658.7 L811.5,1675.8 L804.7,1689.4 L801.3,1703.0 L801.3,1715.0" stroke="#8a851a" stroke-width="7.199999999999999" opacity="1"/><path d="M811.5,1643.3 L804.7,1650.2 L809.8,1662.1 L818.3,1655.3 L814.9,1641.6" stroke="#8a851a" stroke-width="4.8" opacity="1"/><path d="M823.5,1665.5 L821.7,1679.2 L825.2,1692.8" stroke="#8a851a" stroke-width="6.0" opacity="1"/><path d="M750.1,1641.6 L756.9,1658.7 L763.8,1668.9" stroke="#8a851a" stroke-width="3.5999999999999996" opacity="1"/><path d="M763.8,1668.9 L753.5,1679.2 L753.5,1692.8 L758.6,1701.3 L753.5,1708.2" stroke="#8a851a" stroke-width="4.8" opacity="1"/><path d="M743.3,1689.4 L750.1,1694.5" stroke="#8a851a" stroke-width="3.5999999999999996" opacity="1"/><path d="M763.8,1672.3 L777.4,1680.9 L787.6,1684.3" stroke="#8a851a" stroke-width="3.5999999999999996" opacity="1"/><path d="M758.6,1701.3 L762.0,1720.1" stroke="#8a851a" stroke-width="3.5999999999999996" opacity="1"/><path d="M801.3,1715.0 L787.6,1732.0 L777.4,1737.2 L770.6,1749.1 L765.1,1756.8" stroke="#8a851a" stroke-width="4.8" opacity="1"/><path d="M784.2,1711.6 L789.3,1706.5" stroke="#8a851a" stroke-width="3.5999999999999996" opacity="1"/><path d="M801.3,1715.0 L811.5,1708.2" stroke="#8a851a" stroke-width="3.5999999999999996" opacity="1"/><path d="M797.9,1720.1 L808.1,1738.9" stroke="#8a851a" stroke-width="3.0" opacity="1"/><path d="M772.3,1726.9 L770.6,1737.2" stroke="#8a851a" stroke-width="3.5999999999999996" opacity="1"/><path d="M813.0,1638.1 L803.8,1641.3" stroke="#8a851a" stroke-width="1.2"/><path d="M813.3,1637.1 L815.5,1642.4" stroke="#8a851a" stroke-width="1.0"/><path d="M811.7,1644.0 L804.1,1647.4" stroke="#8a851a" stroke-width="1.8"/><circle cx="804.1" cy="1647.4" r="1.2" fill="#8a851a" stroke="none"/><path d="M813.3,1651.5 L820.8,1658.0" stroke="#8a851a" stroke-width="1.8"/><path d="M812.9,1668.8 L818.9,1674.4" stroke="#8a851a" stroke-width="1.6"/><path d="M813.4,1666.5 L806.5,1669.8" stroke="#8a851a" stroke-width="2.3"/><circle cx="806.5" cy="1669.8" r="1.6" fill="#8a851a" stroke="none"/><path d="M808.0,1682.8 L809.8,1691.7" stroke="#8a851a" stroke-width="1.5"/><path d="M808.9,1681.0 L811.5,1683.5" stroke="#8a851a" stroke-width="1.2"/><path d="M801.3,1702.8 L794.2,1705.7" stroke="#8a851a" stroke-width="1.2"/><path d="M803.5,1694.0 L794.1,1698.7" stroke="#8a851a" stroke-width="2.0"/><circle cx="794.1" cy="1698.7" r="1.5" fill="#8a851a" stroke="none"/><path d="M801.3,1703.8 L796.1,1709.4" stroke="#8a851a" stroke-width="1.6"/><circle cx="796.1" cy="1709.4" r="2.2" fill="#8a851a" stroke="none"/><path d="M807.1,1647.7 L808.5,1658.4" stroke="#8a851a" stroke-width="0.9"/><path d="M807.7,1657.2 L813.7,1659.7" stroke="#8a851a" stroke-width="2.2"/><path d="M805.2,1651.4 L810.2,1653.5" stroke="#8a851a" stroke-width="2.1"/><circle cx="810.2" cy="1653.5" r="1.6" fill="#8a851a" stroke="none"/><path d="M810.6,1661.5 L812.3,1655.5" stroke="#8a851a" stroke-width="1.8"/><circle cx="812.3" cy="1655.5" r="2.0" fill="#8a851a" stroke="none"/><path d="M817.9,1653.4 L820.1,1649.3" stroke="#8a851a" stroke-width="2.3"/><path d="M817.5,1651.9 L810.8,1647.3" stroke="#8a851a" stroke-width="1.7"/><path d="M822.6,1672.1 L825.8,1675.1" stroke="#8a851a" stroke-width="1.0"/><path d="M823.0,1668.8 L815.4,1674.5" stroke="#8a851a" stroke-width="1.8"/><circle cx="815.4" cy="1674.5" r="1.4" fill="#8a851a" stroke="none"/><path d="M822.0,1680.1 L829.8,1682.9" stroke="#8a851a" stroke-width="1.8"/><circle cx="829.8" cy="1682.9" r="1.5" fill="#8a851a" stroke="none"/><path d="M824.9,1691.7 L830.0,1695.7" stroke="#8a851a" stroke-width="1.3"/><circle cx="830.0" cy="1695.7" r="1.6" fill="#8a851a" stroke="none"/><path d="M756.7,1658.2 L766.3,1661.2" stroke="#8a851a" stroke-width="2.4"/><path d="M754.8,1653.4 L765.0,1654.6" stroke="#8a851a" stroke-width="1.6"/><path d="M752.2,1647.0 L759.1,1651.4" stroke="#8a851a" stroke-width="1.6"/><path d="M763.7,1668.9 L770.0,1669.1" stroke="#8a851a" stroke-width="1.0"/><path d="M762.0,1666.2 L771.8,1663.7" stroke="#8a851a" stroke-width="1.4"/><path d="M754.8,1677.8 L751.6,1675.8" stroke="#8a851a" stroke-width="1.6"/><circle cx="751.6" cy="1675.8" r="2.1" fill="#8a851a" stroke="none"/><path d="M759.9,1672.8 L761.1,1676.8" stroke="#8a851a" stroke-width="1.9"/><path d="M753.5,1689.1 L745.1,1691.0" stroke="#8a851a" stroke-width="1.6"/><path d="M753.5,1686.6 L756.7,1689.4" stroke="#8a851a" stroke-width="0.9"/><path d="M757.5,1699.5 L756.5,1703.0" stroke="#8a851a" stroke-width="1.4"/><path d="M757.8,1702.5 L751.1,1701.1" stroke="#8a851a" stroke-width="2.2"/><circle cx="751.1" cy="1701.1" r="2.1" fill="#8a851a" stroke="none"/><path d="M746.2,1691.6 L751.3,1687.7" stroke="#8a851a" stroke-width="1.8"/><circle cx="751.3" cy="1687.7" r="1.4" fill="#8a851a" stroke="none"/><path d="M775.2,1679.5 L783.7,1673.5" stroke="#8a851a" stroke-width="1.3"/><circle cx="783.7" cy="1673.5" r="1.8" fill="#8a851a" stroke="none"/><path d="M767.5,1674.7 L772.3,1670.6" stroke="#8a851a" stroke-width="1.7"/><path d="M786.0,1683.7 L789.7,1692.6" stroke="#8a851a" stroke-width="1.3"/><path d="M784.3,1683.2 L785.5,1688.9" stroke="#8a851a" stroke-width="2.1"/><circle cx="785.5" cy="1688.9" r="1.4" fill="#8a851a" stroke="none"/><path d="M758.7,1701.8 L756.1,1705.6" stroke="#8a851a" stroke-width="1.0"/><path d="M760.2,1709.7 L752.3,1712.9" stroke="#8a851a" stroke-width="1.2"/><path d="M759.2,1704.7 L766.6,1706.1" stroke="#8a851a" stroke-width="1.0"/><circle cx="766.6" cy="1706.1" r="2.3" fill="#8a851a" stroke="none"/><path d="M788.4,1731.1 L790.6,1740.2" stroke="#8a851a" stroke-width="2.3"/><circle cx="790.6" cy="1740.2" r="2.5" fill="#8a851a" stroke="none"/><path d="M791.4,1727.3 L792.8,1732.1" stroke="#8a851a" stroke-width="2.2"/><circle cx="792.8" cy="1732.1" r="2.0" fill="#8a851a" stroke="none"/><path d="M792.4,1726.1 L784.1,1725.5" stroke="#8a851a" stroke-width="1.2"/><path d="M781.1,1735.3 L777.7,1744.8" stroke="#8a851a" stroke-width="2.4"/><path d="M782.1,1734.8 L773.9,1731.8" stroke="#8a851a" stroke-width="0.9"/><path d="M775.1,1741.2 L768.0,1740.1" stroke="#8a851a" stroke-width="0.9"/><path d="M777.0,1737.9 L778.3,1743.8" stroke="#8a851a" stroke-width="2.1"/><circle cx="778.3" cy="1743.8" r="1.4" fill="#8a851a" stroke="none"/><path d="M766.6,1754.7 L760.1,1751.8" stroke="#8a851a" stroke-width="2.3"/><circle cx="760.1" cy="1751.8" r="1.5" fill="#8a851a" stroke="none"/><path d="M785.7,1710.1 L783.5,1700.7" stroke="#8a851a" stroke-width="1.7"/><circle cx="783.5" cy="1700.7" r="1.7" fill="#8a851a" stroke="none"/><path d="M810.5,1708.8 L811.1,1704.3" stroke="#8a851a" stroke-width="1.7"/><circle cx="811.1" cy="1704.3" r="1.9" fill="#8a851a" stroke="none"/><path d="M805.5,1712.2 L805.3,1704.2" stroke="#8a851a" stroke-width="0.9"/><path d="M802.0,1727.6 L810.5,1728.3" stroke="#8a851a" stroke-width="1.0"/><path d="M802.1,1727.9 L799.9,1734.5" stroke="#8a851a" stroke-width="1.1"/><path d="M806.2,1735.4 L804.0,1739.2" stroke="#8a851a" stroke-width="1.5"/><circle cx="804.0" cy="1739.2" r="1.6" fill="#8a851a" stroke="none"/><path d="M770.6,1736.9 L773.5,1741.3" stroke="#8a851a" stroke-width="1.9"/><circle cx="773.5" cy="1741.3" r="1.7" fill="#8a851a" stroke="none"/><path d="M771.2,1733.3 L777.0,1738.5" stroke="#8a851a" stroke-width="2.2"/><ellipse cx="801.3" cy="1713.3" rx="3.5" ry="5" fill="#eee61a" stroke="none"/><ellipse cx="804.7" cy="1696.2" rx="7" ry="10" fill="#8a851a" stroke="none"/></g>
<path d="M417,1353.85 V1829.1 H622.5" fill="none" stroke="#000" stroke-width="4.3" stroke-linejoin="miter" stroke-linecap="butt"/>
<line x1="398.5" y1="1356" x2="417" y2="1356" stroke="#000" stroke-width="4.3"/>
<line x1="398.5" y1="1474" x2="417" y2="1474" stroke="#000" stroke-width="4.3"/>
<line x1="398.5" y1="1592.3" x2="417" y2="1592.3" stroke="#000" stroke-width="4.3"/>
<line x1="398.5" y1="1710.7" x2="417" y2="1710.7" stroke="#000" stroke-width="4.3"/>
<text font-size="30.5" text-anchor="end" fill="#1a1715" x="394.5" y="1368">80</text>
<text font-size="30.5" text-anchor="end" fill="#1a1715" x="394.5" y="1486">60</text>
<text font-size="30.5" text-anchor="end" fill="#1a1715" x="394.5" y="1604.3">40</text>
<text font-size="30.5" text-anchor="end" fill="#1a1715" x="394.5" y="1722.7">20</text>
<text font-size="30.5" text-anchor="end" fill="#1a1715" x="396.3" y="1842.8">0</text>
<text font-size="30.6" text-anchor="middle" transform="translate(347.3,1593) rotate(-90)">Vglut2<tspan font-size="17.84" dy="-10.19">+</tspan><tspan dy="10.19"> inclusions (number in HP)</tspan></text>
<text font-size="30.5" text-anchor="middle" x="519.3" y="1335">0.07</text>
<text font-size="30.5" x="433" y="1864.4">MMc<tspan font-size="17.78" dy="-10.16">pos</tspan></text>
<text font-size="30.5" x="528" y="1864.4">MMc<tspan font-size="17.78" dy="-10.16">low</tspan></text>
<g fill="none" stroke="#000" stroke-width="4.0"><circle cx="476.3" cy="1561.0" r="9.9"/><circle cx="476.3" cy="1598.6" r="9.9"/><circle cx="476.3" cy="1705.3" r="9.9"/><circle cx="476.3" cy="1799.5" r="9.9"/><circle cx="441.0" cy="1829.1" r="9.9"/><circle cx="459.1" cy="1829.1" r="9.9"/><circle cx="476.3" cy="1829.1" r="9.9"/><circle cx="494.3" cy="1829.1" r="9.9"/><circle cx="511.9" cy="1829.1" r="9.9"/></g>
<g fill="none" stroke="#067d97" stroke-width="4.0"><circle cx="570.9" cy="1391.8" r="9.9"/><circle cx="570.9" cy="1427.0" r="9.9"/><circle cx="570.9" cy="1569.2" r="9.9"/><circle cx="570.9" cy="1640.3" r="9.9"/><circle cx="557.5" cy="1681.7" r="9.9"/><circle cx="588.9" cy="1675.7" r="9.9"/><circle cx="570.9" cy="1722.5" r="9.9"/><circle cx="593.2" cy="1746.9" r="9.9"/><circle cx="552.8" cy="1763.7" r="9.9"/><circle cx="570.9" cy="1763.7" r="9.9"/><circle cx="593.2" cy="1770.3" r="9.9"/><circle cx="593.2" cy="1793.8" r="9.9"/><circle cx="570.9" cy="1811.5" r="9.9"/><circle cx="552.8" cy="1817.4" r="9.9"/><circle cx="593.2" cy="1817.4" r="9.9"/></g>
<g stroke="#e2211c" stroke-width="4.1" fill="none"><line x1="455.7" y1="1757.2" x2="496.9" y2="1757.2"/><line x1="476.3" y1="1721.3" x2="476.3" y2="1793.0"/><line x1="466.0" y1="1721.3" x2="486.6" y2="1721.3"/><line x1="466.0" y1="1793.0" x2="486.6" y2="1793.0"/></g>
<g stroke="#e2211c" stroke-width="4.1" fill="none"><line x1="550.2" y1="1692.7" x2="591.8" y2="1692.7"/><line x1="571.0" y1="1662.8" x2="571.0" y2="1727.6"/><line x1="560.5" y1="1662.8" x2="581.5" y2="1662.8"/><line x1="560.5" y1="1727.6" x2="581.5" y2="1727.6"/></g>
<path d="M1015.5,1683.2 C1016.1,1678.8 1018.1,1665.7 1019.4,1656.9 C1020.7,1648.1 1022.0,1642.5 1023.3,1630.6 C1024.6,1618.7 1025.3,1599.7 1027.3,1585.6 C1029.3,1571.5 1032.5,1558.3 1035.2,1546.2 C1037.9,1534.1 1041.0,1521.5 1043.5,1513.0 C1046.0,1504.5 1047.8,1499.1 1050.0,1495.0 C1052.2,1490.9 1054.5,1488.8 1056.8,1488.6 C1059.1,1488.3 1060.9,1489.4 1064.0,1493.5 C1067.1,1497.6 1071.4,1504.2 1075.4,1513.0 C1079.4,1521.8 1083.5,1534.1 1087.8,1546.2 C1092.0,1558.3 1097.4,1575.0 1100.9,1585.6 C1104.4,1596.2 1105.3,1600.3 1108.8,1610.0 C1112.3,1619.7 1117.6,1633.7 1122.0,1643.5 C1126.4,1653.3 1130.7,1661.2 1135.1,1669.0 C1139.5,1676.8 1143.9,1684.2 1148.3,1690.5 C1152.7,1696.8 1157.0,1702.0 1161.4,1706.9 C1165.8,1711.8 1170.2,1715.8 1174.6,1719.7 C1179.0,1723.7 1183.3,1727.2 1187.7,1730.6 C1192.1,1734.0 1196.5,1737.0 1200.9,1740.0 C1205.3,1743.0 1209.6,1745.9 1214.0,1748.5 C1218.4,1751.1 1222.8,1753.5 1227.2,1755.8 C1231.6,1758.1 1235.9,1760.1 1240.3,1762.1 C1244.7,1764.1 1249.1,1765.8 1253.5,1767.6 C1257.9,1769.3 1262.2,1771.0 1266.6,1772.6 C1271.0,1774.2 1275.4,1775.9 1279.8,1777.4 C1284.2,1778.9 1288.5,1780.3 1292.9,1781.8 C1297.3,1783.3 1302.6,1785.1 1306.1,1786.3 C1309.6,1787.5 1312.7,1788.5 1314.0,1789.0" fill="none" stroke="#6dc4dc" stroke-width="7.3" stroke-linejoin="round"/>
<path d="M1015.5,1664.8 C1016.1,1659.0 1017.7,1643.2 1019.0,1630.0 C1020.3,1616.8 1021.5,1599.6 1023.3,1585.6 C1025.1,1571.6 1027.5,1559.3 1029.9,1546.2 C1032.3,1533.1 1034.9,1520.1 1037.8,1506.7 C1040.7,1493.3 1044.8,1475.6 1047.5,1466.0 C1050.2,1456.4 1051.8,1452.9 1054.0,1449.0 C1056.2,1445.1 1058.6,1442.9 1061.0,1442.6 C1063.4,1442.3 1065.2,1443.1 1068.5,1447.0 C1071.8,1450.9 1076.0,1456.0 1080.5,1466.0 C1085.0,1476.0 1091.0,1493.3 1095.7,1506.7 C1100.4,1520.1 1104.4,1533.1 1108.8,1546.2 C1113.2,1559.3 1118.5,1574.8 1122.0,1585.6 C1125.5,1596.4 1126.4,1600.9 1129.9,1611.0 C1133.4,1621.1 1138.6,1635.6 1143.0,1646.4 C1147.4,1657.2 1151.8,1667.2 1156.2,1676.0 C1160.6,1684.8 1164.9,1692.8 1169.3,1699.5 C1173.7,1706.2 1178.1,1711.8 1182.5,1716.5 C1186.9,1721.2 1191.2,1725.0 1195.6,1727.9 C1200.0,1730.8 1204.4,1732.4 1208.8,1733.8 C1213.2,1735.2 1217.5,1735.6 1221.9,1736.5 C1226.3,1737.4 1230.7,1737.7 1235.1,1739.0 C1239.5,1740.3 1243.8,1741.9 1248.2,1744.2 C1252.6,1746.5 1257.0,1750.0 1261.4,1752.9 C1265.8,1755.8 1270.1,1759.2 1274.5,1761.5 C1278.9,1763.8 1283.3,1765.8 1287.7,1767.0 C1292.1,1768.2 1296.4,1768.7 1300.8,1768.7 C1305.2,1768.7 1311.8,1767.2 1314.0,1766.9" fill="none" stroke="#6e6e6e" stroke-width="7.3" stroke-linejoin="round"/>
<path d="M1015.5,1353.4499999999998 V1826.6 H1332.5" fill="none" stroke="#000" stroke-width="4.3" stroke-linejoin="miter" stroke-linecap="butt"/>
<line x1="997.5" y1="1358.1" x2="1015.5" y2="1358.1" stroke="#000" stroke-width="4.3"/>
<line x1="997.5" y1="1451.8" x2="1015.5" y2="1451.8" stroke="#000" stroke-width="4.3"/>
<line x1="997.5" y1="1545.5" x2="1015.5" y2="1545.5" stroke="#000" stroke-width="4.3"/>
<line x1="997.5" y1="1639.2" x2="1015.5" y2="1639.2" stroke="#000" stroke-width="4.3"/>
<line x1="997.5" y1="1732.9" x2="1015.5" y2="1732.9" stroke="#000" stroke-width="4.3"/>
<text font-size="29" text-anchor="end" fill="#111" x="989.5" y="1366.1">10</text>
<text font-size="29" text-anchor="end" fill="#111" x="989.5" y="1459.8">8</text>
<text font-size="29" text-anchor="end" fill="#111" x="989.5" y="1553.5">6</text>
<text font-size="29" text-anchor="end" fill="#111" x="989.5" y="1647.2">4</text>
<text font-size="29" text-anchor="end" fill="#111" x="989.5" y="1740.9">2</text>
<text font-size="29" text-anchor="end" fill="#111" x="989.5" y="1834.4">0</text>
<text font-size="30.5" text-anchor="middle" transform="translate(957.6,1589.7) rotate(-90)">Intersections (number)</text>
<text font-size="30.5" text-anchor="middle" fill="#111" x="1016" y="1859.4">0</text>
<text font-size="30.5" text-anchor="middle" fill="#111" x="1080.4" y="1859.4">25</text>
<text font-size="30.5" text-anchor="middle" fill="#111" x="1140.9" y="1859.4">50</text>
<text font-size="30.5" text-anchor="middle" fill="#111" x="1204" y="1859.4">75</text>
<text font-size="30.5" text-anchor="middle" fill="#111" x="1268.7" y="1859.4" letter-spacing="-1.3">100</text>
<text font-size="30.5" text-anchor="middle" fill="#111" x="1329.3" y="1859.4" letter-spacing="-1.3">125</text>
<text font-size="30.5" text-anchor="middle" x="1174" y="1891">Distance from the soma (µm)</text>
<circle cx="1247.5" cy="1382.5" r="8.4" fill="none" stroke="#6e6e6e" stroke-width="4.4"/>
<circle cx="1247.5" cy="1417.7" r="8.4" fill="none" stroke="#6dc4dc" stroke-width="4.4"/>
<text font-size="32" fill="#1a1715" x="1266.9" y="1395.1">N<tspan font-size="17.12" dy="-10.56">pos</tspan><tspan dy="10.56">M</tspan><tspan font-size="17.12" dy="-10.56">pos</tspan></text>
<text font-size="32" fill="#1a1715" x="1266.9" y="1429.8">N<tspan font-size="17.12" dy="-10.56">pos</tspan><tspan dy="10.56">M</tspan><tspan font-size="17.12" dy="-10.56">low</tspan></text>
<text font-size="31" text-anchor="middle" fill="#1a1715" transform="translate(1425.7,1452.5) rotate(-90)">N<tspan font-size="17.05" dy="-10.32">pos</tspan><tspan dy="10.32">M</tspan><tspan font-size="17.05" dy="-10.32">pos</tspan></text>
<text font-size="31" text-anchor="middle" fill="#1a1715" transform="translate(1425.7,1697.5) rotate(-90)">N<tspan font-size="17.05" dy="-10.32">pos</tspan><tspan dy="10.32">M</tspan><tspan font-size="17.05" dy="-10.32">low</tspan></text>
<rect x="1432.8" y="1342.8" width="220.9" height="222" fill="#000"/>
<g fill="none" stroke-width="1.25"><circle cx="1543.5" cy="1453.6" r="9.4" stroke="#3e2369"/><circle cx="1543.5" cy="1453.6" r="18.2" stroke="#353171"/><circle cx="1543.5" cy="1453.6" r="26.9" stroke="#2b4375"/><circle cx="1543.5" cy="1453.6" r="35.7" stroke="#245173"/><circle cx="1543.5" cy="1453.6" r="44.4" stroke="#1f5d6e"/><circle cx="1543.5" cy="1453.6" r="53.2" stroke="#1c6766"/><circle cx="1543.5" cy="1453.6" r="62.0" stroke="#1c705a"/><circle cx="1543.5" cy="1453.6" r="70.7" stroke="#27754a"/><circle cx="1543.5" cy="1453.6" r="79.5" stroke="#3e773b"/><circle cx="1543.5" cy="1453.6" r="88.2" stroke="#5a752d"/><circle cx="1543.5" cy="1453.6" r="97.0" stroke="#727123"/><circle cx="1543.5" cy="1453.6" r="105.8" stroke="#846e1c"/></g>
<g fill="none" stroke="#f4f2ea" stroke-width="1.15" stroke-linecap="round" stroke-linejoin="round"><polyline points="1629.5,1397.6 1625.2,1392.0 1616.4,1389.9 1607.0,1393.2 1600.5,1397.9 1592.8,1403.0 1585.2,1407.8 1579.7,1415.8 1577.5,1424.9 1573.2,1435.5 1565.5,1440.2 1557.9,1444.0 1550.2,1448.8 1543.4,1453.4"/><polyline points="1611.1,1442.3 1612.5,1436.8 1600.9,1431.7 1591.6,1431.7 1582.6,1434.1 1573.2,1435.5"/><polyline points="1562.6,1407.3 1558.7,1411.6 1554.5,1419.3 1552.4,1428.6 1552.8,1438.9 1551.0,1449.1 1543.4,1453.4"/><polyline points="1547.6,1425.6 1550.7,1418.7 1554.5,1419.3"/><polyline points="1508.4,1425.2 1517.3,1430.0 1524.6,1434.6 1531.4,1439.7 1538.3,1445.7 1543.4,1453.4"/><polyline points="1526.3,1417.0 1524.6,1422.7 1529.4,1430.3 1535.7,1438.0 1538.3,1445.7"/><polyline points="1513.5,1434.3 1520.3,1440.2 1529.4,1442.6 1538.3,1445.7"/><polyline points="1529.4,1442.6 1544.2,1444.8"/><polyline points="1488.8,1435.1 1491.7,1440.1 1499.5,1449.1 1499.0,1456.3 1508.4,1459.3 1517.3,1458.0 1526.3,1457.3 1534.5,1454.7 1543.4,1453.4"/><polyline points="1479.1,1466.5 1482.0,1463.6 1490.5,1459.0 1499.0,1456.3"/><polyline points="1526.3,1452.2 1526.3,1457.3 1535.7,1458.5 1543.4,1453.4"/><polyline points="1512.7,1481.2 1519.0,1480.1 1526.3,1474.2 1528.9,1466.2 1531.4,1467.5 1537.4,1470.8 1540.8,1462.4 1543.4,1453.4"/><polyline points="1522.9,1486.6 1528.9,1486.1 1536.2,1489.2 1537.4,1479.3 1537.4,1470.8"/><polyline points="1536.2,1489.2 1535.4,1497.2 1537.4,1506.8 1541.3,1516.0"/><polyline points="1543.4,1453.4 1548.5,1460.2 1555.3,1466.5 1564.3,1469.2 1574.1,1470.4 1582.6,1472.6 1590.6,1475.5 1596.2,1477.2"/><polyline points="1543.4,1453.4 1551.4,1454.2 1559.6,1456.4 1567.8,1462.8 1572.9,1473.0 1580.0,1478.4"/><polyline points="1586.0,1441.4 1586.9,1436.3 1582.6,1434.1"/><polyline points="1571.5,1444.3 1570.1,1440.6 1565.5,1440.2"/></g>
<g fill="#f5b50f"><circle cx="1482.0" cy="1463.6" r="2.7"/><circle cx="1490.5" cy="1459.0" r="2.7"/><circle cx="1491.7" cy="1440.1" r="2.7"/><circle cx="1499.0" cy="1456.3" r="2.7"/><circle cx="1499.5" cy="1449.1" r="2.7"/><circle cx="1508.4" cy="1459.3" r="2.7"/><circle cx="1517.3" cy="1430.0" r="2.7"/><circle cx="1517.3" cy="1458.0" r="2.7"/><circle cx="1519.0" cy="1480.1" r="2.7"/><circle cx="1520.3" cy="1440.2" r="2.7"/><circle cx="1524.6" cy="1422.7" r="2.7"/><circle cx="1524.6" cy="1434.6" r="2.7"/><circle cx="1526.3" cy="1457.3" r="2.7"/><circle cx="1526.3" cy="1474.2" r="2.7"/><circle cx="1528.9" cy="1466.2" r="2.7"/><circle cx="1528.9" cy="1486.1" r="2.7"/><circle cx="1529.4" cy="1430.3" r="2.7"/><circle cx="1529.4" cy="1442.6" r="2.7"/><circle cx="1531.4" cy="1439.7" r="2.7"/><circle cx="1531.4" cy="1467.5" r="2.7"/><circle cx="1534.5" cy="1454.7" r="2.7"/><circle cx="1535.4" cy="1497.2" r="2.7"/><circle cx="1535.7" cy="1438.0" r="2.7"/><circle cx="1535.7" cy="1458.5" r="2.7"/><circle cx="1536.2" cy="1489.2" r="2.7"/><circle cx="1537.4" cy="1470.8" r="2.7"/><circle cx="1537.4" cy="1479.3" r="2.7"/><circle cx="1537.4" cy="1506.8" r="2.7"/><circle cx="1538.3" cy="1445.7" r="2.7"/><circle cx="1540.8" cy="1462.4" r="2.7"/><circle cx="1541.3" cy="1516.0" r="2.7"/><circle cx="1544.2" cy="1444.8" r="2.7"/><circle cx="1548.5" cy="1460.2" r="2.7"/><circle cx="1550.2" cy="1448.8" r="2.7"/><circle cx="1550.7" cy="1418.7" r="2.7"/><circle cx="1551.0" cy="1449.1" r="2.7"/><circle cx="1551.4" cy="1454.2" r="2.7"/><circle cx="1552.4" cy="1428.6" r="2.7"/><circle cx="1552.8" cy="1438.9" r="2.7"/><circle cx="1554.5" cy="1419.3" r="2.7"/><circle cx="1555.3" cy="1466.5" r="2.7"/><circle cx="1557.9" cy="1444.0" r="2.7"/><circle cx="1558.7" cy="1411.6" r="2.7"/><circle cx="1559.6" cy="1456.4" r="2.7"/><circle cx="1564.3" cy="1469.2" r="2.7"/><circle cx="1565.5" cy="1440.2" r="2.7"/><circle cx="1567.8" cy="1462.8" r="2.7"/><circle cx="1572.9" cy="1473.0" r="2.7"/><circle cx="1573.2" cy="1435.5" r="2.7"/><circle cx="1574.1" cy="1470.4" r="2.7"/><circle cx="1577.5" cy="1424.9" r="2.7"/><circle cx="1579.7" cy="1415.8" r="2.7"/><circle cx="1580.0" cy="1478.4" r="2.7"/><circle cx="1582.6" cy="1434.1" r="2.7"/><circle cx="1582.6" cy="1472.6" r="2.7"/><circle cx="1585.2" cy="1407.8" r="2.7"/><circle cx="1590.6" cy="1475.5" r="2.7"/><circle cx="1591.6" cy="1431.7" r="2.7"/><circle cx="1592.8" cy="1403.0" r="2.7"/><circle cx="1600.5" cy="1397.9" r="2.7"/><circle cx="1600.9" cy="1431.7" r="2.7"/><circle cx="1607.0" cy="1393.2" r="2.7"/><circle cx="1612.5" cy="1436.8" r="2.7"/><circle cx="1616.4" cy="1389.9" r="2.7"/></g>
<rect x="1616.2" y="1556.2" width="34.1" height="4.6" fill="#fff"/>
<rect x="1432.8" y="1587.6" width="220.9" height="222" fill="#000"/>
<g fill="none" stroke-width="1.25"><circle cx="1543.7" cy="1698.8" r="9.4" stroke="#3e2369"/><circle cx="1543.7" cy="1698.8" r="18.2" stroke="#353171"/><circle cx="1543.7" cy="1698.8" r="26.9" stroke="#2b4375"/><circle cx="1543.7" cy="1698.8" r="35.7" stroke="#245173"/><circle cx="1543.7" cy="1698.8" r="44.4" stroke="#1f5d6e"/><circle cx="1543.7" cy="1698.8" r="53.2" stroke="#1c6766"/><circle cx="1543.7" cy="1698.8" r="62.0" stroke="#1c705a"/><circle cx="1543.7" cy="1698.8" r="70.7" stroke="#27754a"/><circle cx="1543.7" cy="1698.8" r="79.5" stroke="#3e773b"/><circle cx="1543.7" cy="1698.8" r="88.2" stroke="#5a752d"/><circle cx="1543.7" cy="1698.8" r="97.0" stroke="#727123"/><circle cx="1543.7" cy="1698.8" r="105.8" stroke="#846e1c"/></g>
<g fill="none" stroke="#f4f2ea" stroke-width="1.15" stroke-linecap="round" stroke-linejoin="round"><polyline points="1552.4,1668.6 1548.5,1672.0 1544.7,1671.5 1543.9,1680.5 1545.1,1689.7 1543.7,1698.8"/><polyline points="1517.8,1681.7 1523.4,1680.9 1531.9,1683.9 1535.7,1693.7 1543.7,1698.8"/><polyline points="1531.9,1683.9 1545.1,1689.7"/><polyline points="1525.8,1696.2 1535.7,1702.2 1543.7,1698.8"/><polyline points="1535.7,1702.2 1536.5,1705.3 1533.6,1713.8"/><polyline points="1492.7,1724.4 1495.9,1723.0 1503.6,1718.4 1511.3,1712.9 1518.6,1708.5 1527.5,1706.5 1536.5,1705.3"/><polyline points="1543.7,1698.8 1549.3,1705.1 1552.4,1713.3 1549.7,1724.9 1543.0,1733.8 1538.3,1740.2"/><polyline points="1543.7,1698.8 1551.9,1701.3 1559.2,1705.9 1566.4,1709.9 1572.9,1717.5 1576.6,1722.7"/><polyline points="1543.7,1698.8 1551.0,1697.1 1559.2,1692.3 1567.6,1688.2 1575.4,1683.4 1577.5,1673.7"/><polyline points="1543.7,1698.8 1549.3,1692.5"/></g>
<g fill="#f5b50f"><circle cx="1495.9" cy="1723.0" r="2.7"/><circle cx="1503.6" cy="1718.4" r="2.7"/><circle cx="1511.3" cy="1712.9" r="2.7"/><circle cx="1518.6" cy="1708.5" r="2.7"/><circle cx="1523.4" cy="1680.9" r="2.7"/><circle cx="1525.8" cy="1696.2" r="2.7"/><circle cx="1527.5" cy="1706.5" r="2.7"/><circle cx="1531.9" cy="1683.9" r="2.7"/><circle cx="1533.6" cy="1713.8" r="2.7"/><circle cx="1535.7" cy="1693.7" r="2.7"/><circle cx="1535.7" cy="1702.2" r="2.7"/><circle cx="1536.5" cy="1705.3" r="2.7"/><circle cx="1543.0" cy="1733.8" r="2.7"/><circle cx="1543.9" cy="1680.5" r="2.7"/><circle cx="1544.7" cy="1671.5" r="2.7"/><circle cx="1545.1" cy="1689.7" r="2.7"/><circle cx="1548.5" cy="1672.0" r="2.7"/><circle cx="1549.3" cy="1692.5" r="2.7"/><circle cx="1549.3" cy="1705.1" r="2.7"/><circle cx="1549.7" cy="1724.9" r="2.7"/><circle cx="1551.0" cy="1697.1" r="2.7"/><circle cx="1551.9" cy="1701.3" r="2.7"/><circle cx="1552.4" cy="1713.3" r="2.7"/><circle cx="1559.2" cy="1692.3" r="2.7"/><circle cx="1559.2" cy="1705.9" r="2.7"/><circle cx="1566.4" cy="1709.9" r="2.7"/><circle cx="1567.6" cy="1688.2" r="2.7"/><circle cx="1572.9" cy="1717.5" r="2.7"/><circle cx="1575.4" cy="1683.4" r="2.7"/></g>
<rect x="1616.2" y="1801.1" width="34.1" height="4.6" fill="#fff"/>
<path d="M1792,1353.4499999999998 V1825.6 H2000" fill="none" stroke="#000" stroke-width="4.3" stroke-linejoin="miter" stroke-linecap="butt"/>
<line x1="1773.5" y1="1355.6" x2="1792" y2="1355.6" stroke="#000" stroke-width="4.3"/>
<line x1="1773.5" y1="1473.2" x2="1792" y2="1473.2" stroke="#000" stroke-width="4.3"/>
<line x1="1773.5" y1="1590.8" x2="1792" y2="1590.8" stroke="#000" stroke-width="4.3"/>
<line x1="1773.5" y1="1708.4" x2="1792" y2="1708.4" stroke="#000" stroke-width="4.3"/>
<text font-size="30.5" text-anchor="end" x="1764" y="1363.3999999999999">40</text>
<text font-size="30.5" text-anchor="end" x="1764" y="1481.0">30</text>
<text font-size="30.5" text-anchor="end" x="1764" y="1598.6">20</text>
<text font-size="30.5" text-anchor="end" x="1764" y="1716.2">10</text>
<text font-size="30.5" text-anchor="end" x="1764" y="1833.8">0</text>
<text font-size="30.5" text-anchor="middle" transform="translate(1711,1591) rotate(-90)">Branches/ cell (number)</text>
<text font-size="46.4" text-anchor="middle" x="1894.9" y="1342.1">**</text>
<text font-size="30.5" fill="#1a1715" x="1827.1" y="1862.9">N<tspan font-size="16.47" dy="-10.16">pos</tspan></text>
<text font-size="30.5" fill="#1a1715" x="1826.1" y="1895.5">M<tspan font-size="16.47" dy="-10.16">pos</tspan></text>
<text font-size="30.5" fill="#1a1715" x="1928.1" y="1862.9">N<tspan font-size="16.47" dy="-10.16">pos</tspan></text>
<text font-size="30.5" fill="#1a1715" x="1927.1" y="1895.5">M<tspan font-size="16.47" dy="-10.16">low</tspan></text>
<g fill="none" stroke="#6e6e6e" stroke-width="4.5"><circle cx="1829.4" cy="1414.8" r="10.05"/><circle cx="1873.1" cy="1414.8" r="10.05"/><circle cx="1843.6" cy="1426.2" r="10.05"/><circle cx="1858.1" cy="1426.2" r="10.05"/><circle cx="1850.7" cy="1461.6" r="10.05"/><circle cx="1850.7" cy="1508.9" r="10.05"/><circle cx="1843.6" cy="1532.2" r="10.05"/><circle cx="1858.1" cy="1544.0" r="10.05"/><circle cx="1829.4" cy="1555.5" r="10.05"/><circle cx="1843.6" cy="1555.5" r="10.05"/><circle cx="1873.1" cy="1555.5" r="10.05"/><circle cx="1858.1" cy="1567.7" r="10.05"/><circle cx="1850.7" cy="1590.7" r="10.05"/><circle cx="1865.8" cy="1590.7" r="10.05"/><circle cx="1836.3" cy="1602.6" r="10.05"/><circle cx="1873.1" cy="1626.3" r="10.05"/><circle cx="1829.4" cy="1638.1" r="10.05"/><circle cx="1858.1" cy="1638.1" r="10.05"/><circle cx="1843.6" cy="1649.9" r="10.05"/><circle cx="1829.4" cy="1661.8" r="10.05"/><circle cx="1858.1" cy="1661.8" r="10.05"/><circle cx="1873.1" cy="1661.8" r="10.05"/><circle cx="1843.6" cy="1673.6" r="10.05"/><circle cx="1829.4" cy="1720.6" r="10.05"/><circle cx="1873.1" cy="1720.6" r="10.05"/><circle cx="1843.6" cy="1732.4" r="10.05"/><circle cx="1858.1" cy="1732.4" r="10.05"/><circle cx="1850.7" cy="1756.1" r="10.05"/><circle cx="1865.8" cy="1756.1" r="10.05"/><circle cx="1836.3" cy="1767.9" r="10.05"/></g>
<g fill="none" stroke="#6dc4dc" stroke-width="4.5"><circle cx="1929.5" cy="1555.9" r="10.05"/><circle cx="1951.7" cy="1555.9" r="10.05"/><circle cx="1940.5" cy="1567.7" r="10.05"/><circle cx="1962.3" cy="1567.7" r="10.05"/><circle cx="1973.2" cy="1567.7" r="10.05"/><circle cx="1951.7" cy="1579.6" r="10.05"/><circle cx="1951.7" cy="1602.6" r="10.05"/><circle cx="1929.5" cy="1626.3" r="10.05"/><circle cx="1962.3" cy="1626.3" r="10.05"/><circle cx="1973.2" cy="1626.3" r="10.05"/><circle cx="1951.7" cy="1638.1" r="10.05"/><circle cx="1929.5" cy="1649.9" r="10.05"/><circle cx="1973.2" cy="1649.9" r="10.05"/><circle cx="1940.5" cy="1661.8" r="10.05"/><circle cx="1962.3" cy="1661.8" r="10.05"/><circle cx="1951.7" cy="1685.4" r="10.05"/><circle cx="1940.5" cy="1697.3" r="10.05"/><circle cx="1962.3" cy="1708.7" r="10.05"/><circle cx="1973.2" cy="1708.7" r="10.05"/><circle cx="1940.5" cy="1720.6" r="10.05"/><circle cx="1951.7" cy="1720.6" r="10.05"/><circle cx="1962.3" cy="1732.4" r="10.05"/><circle cx="1951.7" cy="1744.3" r="10.05"/><circle cx="1973.2" cy="1744.3" r="10.05"/><circle cx="1940.5" cy="1756.1" r="10.05"/><circle cx="1962.3" cy="1756.1" r="10.05"/><circle cx="1951.7" cy="1767.9" r="10.05"/><circle cx="1940.5" cy="1791.6" r="10.05"/><circle cx="1951.7" cy="1791.6" r="10.05"/><circle cx="1962.3" cy="1803.4" r="10.05"/><circle cx="1940.5" cy="1815.3" r="10.05"/></g>
<g stroke="#e8353b" stroke-width="4.1" fill="none"><line x1="1836.6" y1="1604.8" x2="1865.2" y2="1604.8"/><line x1="1850.9" y1="1585.3" x2="1850.9" y2="1624.4"/><line x1="1843.9" y1="1585.3" x2="1858.0" y2="1585.3"/><line x1="1843.9" y1="1624.4" x2="1858.0" y2="1624.4"/></g>
<g stroke="#e8353b" stroke-width="4.1" fill="none"><line x1="1937.7" y1="1679.6" x2="1965.9" y2="1679.6"/><line x1="1951.8" y1="1666.3" x2="1951.8" y2="1693.1"/><line x1="1945.0" y1="1666.3" x2="1958.6" y2="1666.3"/><line x1="1945.0" y1="1693.1" x2="1958.6" y2="1693.1"/></g>
<text font-size="47" font-weight="bold" x="0.6" y="34.4">a</text>
<text font-size="47" font-weight="bold" x="923.2" y="34.4">b</text>
<text font-size="47" font-weight="bold" x="1277.5" y="34.4">c</text>
<text font-size="47" font-weight="bold" x="1612.5" y="34.4">d</text>
<text font-size="47" font-weight="bold" x="1.2" y="674.8">e</text>
<text font-size="47" font-weight="bold" x="373.4" y="674.8">f</text>
<text font-size="47" font-weight="bold" x="737.3" y="674.8">g</text>
<text font-size="47" font-weight="bold" x="1093.8" y="674.8">h</text>
<text font-size="47" font-weight="bold" x="1683.4" y="674.8">i</text>
<text font-size="47" font-weight="bold" x="3.1" y="1312.3">j</text>
<text font-size="47" font-weight="bold" x="313.0" y="1312.3">k</text>
<text font-size="47" font-weight="bold" x="612.1" y="1312.3">l</text>
<text font-size="47" font-weight="bold" x="896.6" y="1312.3">m</text>
<text font-size="47" font-weight="bold" x="1374.8" y="1312.3">n</text>
<text font-size="47" font-weight="bold" x="1645.5" y="1312.3">o</text>
</svg>
</body></html>
